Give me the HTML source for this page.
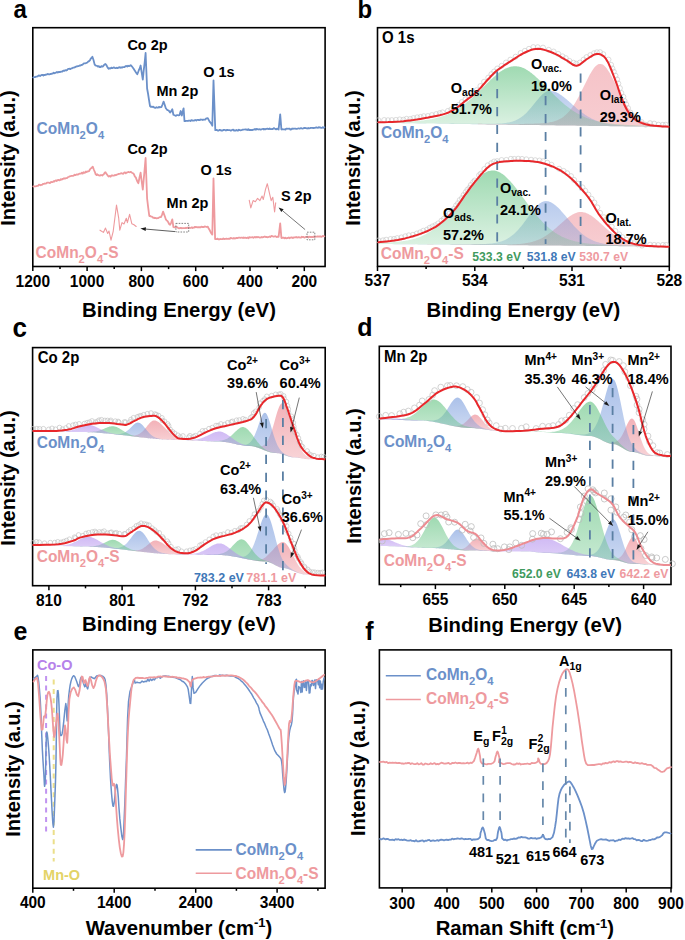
<!DOCTYPE html><html><head><meta charset="utf-8"><style>html,body{margin:0;padding:0;background:#fff;}svg{display:block;}</style></head><body><svg width="685" height="940" viewBox="0 0 685 940" font-family='"Liberation Sans", sans-serif'><defs><linearGradient id="g1" x1="0" y1="0" x2="0" y2="1"><stop offset="0" stop-color="rgb(235,130,140)" stop-opacity="0.48"/><stop offset="1" stop-color="rgb(235,130,140)" stop-opacity="0.4"/></linearGradient><linearGradient id="g2" x1="0" y1="0" x2="0" y2="1"><stop offset="0" stop-color="rgb(120,155,220)" stop-opacity="0.52"/><stop offset="1" stop-color="rgb(120,155,220)" stop-opacity="0.3"/></linearGradient><linearGradient id="g3" x1="0" y1="0" x2="0" y2="1"><stop offset="0" stop-color="rgb(100,195,130)" stop-opacity="0.62"/><stop offset="1" stop-color="rgb(100,195,130)" stop-opacity="0.22"/></linearGradient><linearGradient id="g4" x1="0" y1="0" x2="0" y2="1"><stop offset="0" stop-color="rgb(235,130,140)" stop-opacity="0.48"/><stop offset="1" stop-color="rgb(235,130,140)" stop-opacity="0.4"/></linearGradient><linearGradient id="g5" x1="0" y1="0" x2="0" y2="1"><stop offset="0" stop-color="rgb(120,155,220)" stop-opacity="0.52"/><stop offset="1" stop-color="rgb(120,155,220)" stop-opacity="0.3"/></linearGradient><linearGradient id="g6" x1="0" y1="0" x2="0" y2="1"><stop offset="0" stop-color="rgb(100,195,130)" stop-opacity="0.62"/><stop offset="1" stop-color="rgb(100,195,130)" stop-opacity="0.22"/></linearGradient><linearGradient id="g7" x1="0" y1="0" x2="0" y2="1"><stop offset="0" stop-color="rgb(235,130,140)" stop-opacity="0.62"/><stop offset="1" stop-color="rgb(235,130,140)" stop-opacity="0.35"/></linearGradient><linearGradient id="g8" x1="0" y1="0" x2="0" y2="1"><stop offset="0" stop-color="rgb(235,130,140)" stop-opacity="0.62"/><stop offset="1" stop-color="rgb(235,130,140)" stop-opacity="0.35"/></linearGradient><linearGradient id="g9" x1="0" y1="0" x2="0" y2="1"><stop offset="0" stop-color="rgb(120,155,220)" stop-opacity="0.62"/><stop offset="1" stop-color="rgb(120,155,220)" stop-opacity="0.35"/></linearGradient><linearGradient id="g10" x1="0" y1="0" x2="0" y2="1"><stop offset="0" stop-color="rgb(120,155,220)" stop-opacity="0.62"/><stop offset="1" stop-color="rgb(120,155,220)" stop-opacity="0.35"/></linearGradient><linearGradient id="g11" x1="0" y1="0" x2="0" y2="1"><stop offset="0" stop-color="rgb(100,195,130)" stop-opacity="0.62"/><stop offset="1" stop-color="rgb(100,195,130)" stop-opacity="0.35"/></linearGradient><linearGradient id="g12" x1="0" y1="0" x2="0" y2="1"><stop offset="0" stop-color="rgb(100,195,130)" stop-opacity="0.62"/><stop offset="1" stop-color="rgb(100,195,130)" stop-opacity="0.35"/></linearGradient><linearGradient id="g13" x1="0" y1="0" x2="0" y2="1"><stop offset="0" stop-color="rgb(180,145,238)" stop-opacity="0.62"/><stop offset="1" stop-color="rgb(180,145,238)" stop-opacity="0.35"/></linearGradient><linearGradient id="g14" x1="0" y1="0" x2="0" y2="1"><stop offset="0" stop-color="rgb(180,145,238)" stop-opacity="0.62"/><stop offset="1" stop-color="rgb(180,145,238)" stop-opacity="0.35"/></linearGradient><linearGradient id="g15" x1="0" y1="0" x2="0" y2="1"><stop offset="0" stop-color="rgb(235,130,140)" stop-opacity="0.62"/><stop offset="1" stop-color="rgb(235,130,140)" stop-opacity="0.35"/></linearGradient><linearGradient id="g16" x1="0" y1="0" x2="0" y2="1"><stop offset="0" stop-color="rgb(235,130,140)" stop-opacity="0.62"/><stop offset="1" stop-color="rgb(235,130,140)" stop-opacity="0.35"/></linearGradient><linearGradient id="g17" x1="0" y1="0" x2="0" y2="1"><stop offset="0" stop-color="rgb(120,155,220)" stop-opacity="0.62"/><stop offset="1" stop-color="rgb(120,155,220)" stop-opacity="0.35"/></linearGradient><linearGradient id="g18" x1="0" y1="0" x2="0" y2="1"><stop offset="0" stop-color="rgb(120,155,220)" stop-opacity="0.62"/><stop offset="1" stop-color="rgb(120,155,220)" stop-opacity="0.35"/></linearGradient><linearGradient id="g19" x1="0" y1="0" x2="0" y2="1"><stop offset="0" stop-color="rgb(100,195,130)" stop-opacity="0.62"/><stop offset="1" stop-color="rgb(100,195,130)" stop-opacity="0.35"/></linearGradient><linearGradient id="g20" x1="0" y1="0" x2="0" y2="1"><stop offset="0" stop-color="rgb(100,195,130)" stop-opacity="0.62"/><stop offset="1" stop-color="rgb(100,195,130)" stop-opacity="0.35"/></linearGradient><linearGradient id="g21" x1="0" y1="0" x2="0" y2="1"><stop offset="0" stop-color="rgb(180,145,238)" stop-opacity="0.62"/><stop offset="1" stop-color="rgb(180,145,238)" stop-opacity="0.35"/></linearGradient><linearGradient id="g22" x1="0" y1="0" x2="0" y2="1"><stop offset="0" stop-color="rgb(180,145,238)" stop-opacity="0.62"/><stop offset="1" stop-color="rgb(180,145,238)" stop-opacity="0.35"/></linearGradient><linearGradient id="g23" x1="0" y1="0" x2="0" y2="1"><stop offset="0" stop-color="rgb(235,130,140)" stop-opacity="0.62"/><stop offset="1" stop-color="rgb(235,130,140)" stop-opacity="0.35"/></linearGradient><linearGradient id="g24" x1="0" y1="0" x2="0" y2="1"><stop offset="0" stop-color="rgb(235,130,140)" stop-opacity="0.62"/><stop offset="1" stop-color="rgb(235,130,140)" stop-opacity="0.35"/></linearGradient><linearGradient id="g25" x1="0" y1="0" x2="0" y2="1"><stop offset="0" stop-color="rgb(120,155,220)" stop-opacity="0.62"/><stop offset="1" stop-color="rgb(120,155,220)" stop-opacity="0.35"/></linearGradient><linearGradient id="g26" x1="0" y1="0" x2="0" y2="1"><stop offset="0" stop-color="rgb(120,155,220)" stop-opacity="0.62"/><stop offset="1" stop-color="rgb(120,155,220)" stop-opacity="0.35"/></linearGradient><linearGradient id="g27" x1="0" y1="0" x2="0" y2="1"><stop offset="0" stop-color="rgb(100,195,130)" stop-opacity="0.62"/><stop offset="1" stop-color="rgb(100,195,130)" stop-opacity="0.35"/></linearGradient><linearGradient id="g28" x1="0" y1="0" x2="0" y2="1"><stop offset="0" stop-color="rgb(100,195,130)" stop-opacity="0.62"/><stop offset="1" stop-color="rgb(100,195,130)" stop-opacity="0.35"/></linearGradient><linearGradient id="g29" x1="0" y1="0" x2="0" y2="1"><stop offset="0" stop-color="rgb(180,145,238)" stop-opacity="0.62"/><stop offset="1" stop-color="rgb(180,145,238)" stop-opacity="0.35"/></linearGradient><linearGradient id="g30" x1="0" y1="0" x2="0" y2="1"><stop offset="0" stop-color="rgb(235,130,140)" stop-opacity="0.62"/><stop offset="1" stop-color="rgb(235,130,140)" stop-opacity="0.35"/></linearGradient><linearGradient id="g31" x1="0" y1="0" x2="0" y2="1"><stop offset="0" stop-color="rgb(235,130,140)" stop-opacity="0.62"/><stop offset="1" stop-color="rgb(235,130,140)" stop-opacity="0.35"/></linearGradient><linearGradient id="g32" x1="0" y1="0" x2="0" y2="1"><stop offset="0" stop-color="rgb(120,155,220)" stop-opacity="0.62"/><stop offset="1" stop-color="rgb(120,155,220)" stop-opacity="0.35"/></linearGradient><linearGradient id="g33" x1="0" y1="0" x2="0" y2="1"><stop offset="0" stop-color="rgb(120,155,220)" stop-opacity="0.62"/><stop offset="1" stop-color="rgb(120,155,220)" stop-opacity="0.35"/></linearGradient><linearGradient id="g34" x1="0" y1="0" x2="0" y2="1"><stop offset="0" stop-color="rgb(100,195,130)" stop-opacity="0.62"/><stop offset="1" stop-color="rgb(100,195,130)" stop-opacity="0.35"/></linearGradient><linearGradient id="g35" x1="0" y1="0" x2="0" y2="1"><stop offset="0" stop-color="rgb(100,195,130)" stop-opacity="0.62"/><stop offset="1" stop-color="rgb(100,195,130)" stop-opacity="0.35"/></linearGradient><linearGradient id="g36" x1="0" y1="0" x2="0" y2="1"><stop offset="0" stop-color="rgb(180,145,238)" stop-opacity="0.62"/><stop offset="1" stop-color="rgb(180,145,238)" stop-opacity="0.35"/></linearGradient><linearGradient id="g37" x1="0" y1="0" x2="0" y2="1"><stop offset="0" stop-color="rgb(180,145,238)" stop-opacity="0.62"/><stop offset="1" stop-color="rgb(180,145,238)" stop-opacity="0.35"/></linearGradient></defs><rect width="100%" height="100%" fill="#fff"/><text transform="translate(13.6,17.6) scale(1,1.04)" font-size="24" fill="#000" text-anchor="start" font-weight="bold" >a</text>
<text transform="translate(357.6,17.6) scale(1,1.04)" font-size="24" fill="#000" text-anchor="start" font-weight="bold" >b</text>
<text transform="translate(12.4,336.6) scale(1,1.04)" font-size="26" fill="#000" text-anchor="start" font-weight="bold" >c</text>
<text transform="translate(357.2,335.9) scale(1,1.04)" font-size="25" fill="#000" text-anchor="start" font-weight="bold" >d</text>
<text transform="translate(13.6,639.6) scale(1,1.04)" font-size="25" fill="#000" text-anchor="start" font-weight="bold" >e</text>
<text transform="translate(365.3,639.6) scale(1,1.04)" font-size="25" fill="#000" text-anchor="start" font-weight="bold" >f</text>
<rect x="32.8" y="27.7" width="292.3" height="238.8" fill="none" stroke="#000" stroke-width="1.6"/>
<line x1="32.8" y1="266.5" x2="32.8" y2="271.1" stroke="#000" stroke-width="1.5" />
<line x1="87.1" y1="266.5" x2="87.1" y2="271.1" stroke="#000" stroke-width="1.5" />
<line x1="141.4" y1="266.5" x2="141.4" y2="271.1" stroke="#000" stroke-width="1.5" />
<line x1="195.7" y1="266.5" x2="195.7" y2="271.1" stroke="#000" stroke-width="1.5" />
<line x1="250" y1="266.5" x2="250" y2="271.1" stroke="#000" stroke-width="1.5" />
<line x1="304.3" y1="266.5" x2="304.3" y2="271.1" stroke="#000" stroke-width="1.5" />
<line x1="60" y1="266.5" x2="60" y2="269.1" stroke="#000" stroke-width="1.5" />
<line x1="114.2" y1="266.5" x2="114.2" y2="269.1" stroke="#000" stroke-width="1.5" />
<line x1="168.6" y1="266.5" x2="168.6" y2="269.1" stroke="#000" stroke-width="1.5" />
<line x1="222.9" y1="266.5" x2="222.9" y2="269.1" stroke="#000" stroke-width="1.5" />
<line x1="277.2" y1="266.5" x2="277.2" y2="269.1" stroke="#000" stroke-width="1.5" />
<text transform="translate(32.8,287) scale(1,1.04)" font-size="15.5" fill="#000" text-anchor="middle" font-weight="bold" >1200</text>
<text transform="translate(87.1,287) scale(1,1.04)" font-size="15.5" fill="#000" text-anchor="middle" font-weight="bold" >1000</text>
<text transform="translate(141.4,287) scale(1,1.04)" font-size="15.5" fill="#000" text-anchor="middle" font-weight="bold" >800</text>
<text transform="translate(195.7,287) scale(1,1.04)" font-size="15.5" fill="#000" text-anchor="middle" font-weight="bold" >600</text>
<text transform="translate(250,287) scale(1,1.04)" font-size="15.5" fill="#000" text-anchor="middle" font-weight="bold" >400</text>
<text transform="translate(304.3,287) scale(1,1.04)" font-size="15.5" fill="#000" text-anchor="middle" font-weight="bold" >200</text>
<text transform="translate(179,316.6) scale(1,1.04)" font-size="20.3" fill="#000" text-anchor="middle" font-weight="bold" >Binding Energy (eV)</text>
<text transform="translate(15.4,158.1) rotate(-90) scale(1,1.04)" font-size="20" font-weight="bold" text-anchor="middle">Intensity (a.u.)</text>
<polyline points="33.3,77.6 34.1,77.1 35,77.2 35.8,76.7 36.7,76.7 37.5,76.5 38.4,75.7 39.2,75.4 40.1,76 40.9,75.4 41.7,75 42.6,74.8 43.4,75.5 44.3,74.8 45.1,75.1 46,74.5 46.8,74.6 47.7,73.9 48.5,74.3 49.4,74.4 50.2,73.9 51.1,74 51.9,73.6 52.7,73.6 53.6,72.7 54.4,73.3 55.3,72.9 56.1,72.4 56.9,71.9 57.8,72.6 58.6,72 59.4,72 60.3,72 61.1,71.6 62,71.7 62.8,71 63.6,70.6 64.5,70.8 65.3,70.2 66.2,70.5 67,70.1 67.9,69 68.7,68.8 69.6,68.7 70.4,69.2 71.3,68.4 72.1,68.3 73,67.7 73.8,67.7 74.6,67.4 75.5,66.9 76.3,66.5 77.2,66.4 78,66.1 78.8,66.1 79.7,65.5 80.5,65.5 81.3,65 82.2,64.9 83,64.2 83.9,63.3 84.7,63.3 85.6,63.3 86.5,62.9 87.3,62.4 88.2,61.6 89.1,61.1 89.9,60.3 90.7,58.7 91.5,58 92.4,56.7 93.5,60 94.6,64.4 95.4,65.3 96.2,65.6 97.1,65.8 97.9,66.6 98.8,66.1 99.7,67 100.5,67.1 101.4,66.1 102.3,66.6 103.1,66.3 103.9,65.2 104.7,64.3 105.5,64 106.3,65 107.2,66.7 108,68 108.8,68.8 109.7,68.1 110.6,68.5 111.4,67.6 112.3,68.2 113.2,67.7 114.1,67.5 115,68.1 115.8,68.2 116.7,67.7 117.6,68.2 118.5,67.5 119.4,67.2 120.2,67.8 121.1,67.2 122,67.7 122.9,67.1 123.7,67.1 124.6,67 125.5,66.3 126.3,65.9 127.2,66.5 128.1,65.7 129,66.1 129.8,65.8 130.7,65.1 131.8,66.3 132.9,67.7 133.8,69 134.7,70.4 135.5,71.8 136.4,73.1 137.3,74.3 138.1,72.2 138.9,70 139.8,68.2 140.6,65.5 141.7,72.6 142.8,79.7 143.7,70.7 144.7,62.1 145.6,53 147.1,88.5 148.1,94 149,99.9 150,106 150.8,106.8 151.6,106.6 152.4,107 153.2,106.7 154,107.4 154.8,107.8 155.6,107.8 156.5,107.1 157.3,107.7 158.1,107.6 158.9,106.9 159.8,107.4 160.6,107.2 161.4,107.1 162.5,104.5 163.6,101.6 164.7,104.7 165.8,108.2 166.7,109.3 167.5,110.2 168.4,110.3 169.2,111.2 170.1,112.6 171.2,111.1 172.3,109.3 173.4,114.8 175,115.5 175.9,115.9 176.8,115.1 177.7,115.2 178.6,115.3 179.5,115.1 180.7,111 181.8,115.5 182.7,111.7 183.6,108.3 184.5,121.2 185.4,121 186.2,120.9 187.1,120.8 187.9,121 188.8,120.6 189.7,120.6 190.5,121 191.4,120.1 192.2,120.6 193.1,120.5 193.9,120.7 194.7,120.2 195.5,120 196.3,120.6 197.1,119.9 197.9,119.8 198.8,120 199.6,120.2 200.4,119.5 201.2,119.7 202,119.6 202.8,120.1 203.6,119.6 204.4,119.6 205.2,119.6 206.1,118.5 207,118.4 207.8,118.2 208.7,119.9 209.6,121.6 210.5,122.6 211.4,123.9 212.3,125.7 213.5,80.4 214.4,104.9 215.3,130.2 216.1,130.2 216.9,129.9 217.7,130.5 218.6,130.6 219.4,129.9 220.2,130 221,130.5 221.8,130.4 222.6,130.5 223.4,130 224.3,129.8 225.1,130 225.9,130.5 226.7,129.9 227.5,130 228.3,130.1 229.2,130.1 230,130.1 230.8,130.7 231.6,130.2 232.4,129.8 233.2,129.6 234,130.6 234.8,130.5 235.6,130.6 236.4,130 237.2,130.5 238.1,130.5 238.9,129.7 239.7,130.2 240.5,130.3 241.3,130.1 242.1,129.9 242.9,129.6 243.7,129.7 244.5,129.5 245.3,129.3 246.1,129.8 246.9,129.5 247.7,130 248.5,129.2 249.4,130.1 250.2,129.8 251,130.1 251.8,130 252.6,130 253.4,129.6 254.2,129.5 255,128.9 255.8,129.7 256.6,129 257.5,129.1 258.3,129.5 259.1,129.3 259.9,129.2 260.7,129.7 261.5,129.3 262.4,129 263.2,128.8 264,129.5 264.8,129 265.6,129.3 266.4,128.8 267.3,128.6 268.1,128.9 268.9,129.2 269.7,128.5 270.5,129.1 271.3,129.2 272.2,129 273,129 273.8,128.1 274.6,128.6 275.4,128.9 276.2,129.4 277,128.6 277.8,129.1 278.6,129.5 280.2,114.4 281.4,129.5 282.2,129.2 283,129.4 283.9,129.3 284.7,129.3 285.5,129.6 286.3,128.7 287.2,128.7 288,128.8 288.8,128.7 289.6,128.6 290.4,129.6 291.3,129.4 292.1,128.5 292.9,128.9 293.7,128.7 294.6,128.6 295.4,128.6 296.2,128.9 297,128.8 297.9,128.5 298.7,128.3 299.5,128.6 300.3,128.4 301.1,128.1 301.9,128.5 302.7,128.7 303.5,128.3 304.3,127.9 305.1,128 305.9,128.1 306.7,128.3 307.5,128.5 308.3,128 309.1,128.4 309.9,128.2 310.7,127.9 311.5,127.8 312.4,127.9 313.2,128.1 314,127.8 314.8,128 315.6,127.7 316.4,127.4 317.2,127.7 318,127.9 318.8,127.1 319.6,127.5 320.4,127.4 321.2,127.9 322,127.9 322.8,127.2 323.6,127.8 324.4,127.3" fill="none" stroke="#6b90c9" stroke-width="1.8" stroke-linejoin="round" stroke-linecap="round" />
<polyline points="33.3,186.5 34.1,186.4 34.9,186.4 35.7,186.3 36.5,186.2 37.3,185.8 38.2,185.8 39,184.6 39.8,184.9 40.6,185.3 41.4,184.8 42.2,184.8 43,183.8 43.8,184 44.6,183.5 45.4,183.7 46.2,183.5 47,182.7 47.9,182.7 48.7,182.6 49.5,183.1 50.3,182.8 51.1,181.9 51.9,182.1 52.7,182.2 53.5,181.2 54.3,181.5 55.1,180.7 56,180.3 56.8,181 57.6,180.1 58.4,179.8 59.2,180.4 60,180.1 60.8,179.2 61.6,179.7 62.4,179 63.3,178.9 64.1,178.1 64.9,178.7 65.7,178.2 66.5,178.2 67.3,177.9 68.1,177 68.9,176.8 69.7,176.4 70.6,176.1 71.4,175.8 72.2,175.8 73,175.9 73.8,175.5 74.6,174.7 75.4,175.2 76.2,174.6 77,174.4 77.8,174.7 78.6,174.1 79.4,173.7 80.2,173.6 81,173.6 81.9,172.7 82.7,173.5 83.5,172.2 84.3,172.8 85.1,172.6 85.9,171.5 86.7,172.1 87.5,171.4 88.3,171.4 89.1,171.1 89.9,169.5 90.7,168.5 91.5,168 92.8,166.7 94,170 94.8,171.8 95.7,174.4 96.5,175 97.3,174.3 98.2,175.1 99,175.4 99.8,175.6 100.7,175.1 101.5,175.2 102.3,175.5 103.1,174.7 103.9,174.2 104.7,172.6 105.5,172.2 106.3,173.6 107.2,174.7 108,175.9 108.8,176.6 109.7,175.9 110.6,176.7 111.4,175.5 112.3,175.5 113.2,175.6 114.1,175.7 115,174.9 115.8,175.3 116.7,174.7 117.6,174.4 118.4,174 119.2,173.9 120.1,173.6 120.9,173.3 121.7,173.2 122.5,173.6 123.3,173.8 124.1,172.7 125,172.4 125.8,173.3 126.6,172.6 127.4,172.3 128.2,172 129.1,172.2 129.9,172.3 130.7,171.8 131.5,172.4 132.3,173 133.2,173.3 134,174.4 134.9,176.6 135.8,177.4 136.6,179.7 137.5,181.8 138.4,183.2 139.5,177.5 140.6,172.7 141.7,181.5 142.8,189.7 143.7,179.6 144.7,168.7 145.6,158 147.1,198.5 148.2,207.6 149.3,216 150.2,215.9 151.1,216.7 152.1,216.7 153,217.8 153.9,217.6 154.8,218.2 155.7,218 156.6,218.4 157.5,218.1 158.3,218.1 159.2,217.4 160.1,217.2 161,217.1 162.1,214.6 163.1,211.6 164,214.1 164.9,216.5 165.8,219.3 166.7,220.3 167.5,221.1 168.4,222.5 169.2,224.2 170.1,224.8 171.2,222.6 172.3,219.3 173.4,227 174.2,227.3 175.1,227.2 175.9,227.2 176.7,227 177.5,227.4 178.3,228.1 179.2,228.3 180,228 180.9,227.8 181.7,228.3 182.6,228.2 183.4,228.1 184.3,228.1 185.2,228.2 186,227.7 186.9,228.1 187.7,227.6 188.6,227.8 189.4,227.7 190.2,228 191,227.8 191.8,227.3 192.6,228 193.4,227.6 194.2,227.5 195,226.8 195.8,227.3 196.6,227 197.5,227.4 198.3,227.1 199.1,227.4 199.9,227.2 200.7,227.3 201.5,226.7 202.3,227 203.1,227 203.9,227.1 204.7,226.5 205.5,226.6 206.7,227 207.8,226.6 208.7,228.6 209.6,230 210.5,231.9 211.4,233.5 212.3,234.6 213.5,178.4 215.1,239.1 215.9,239.1 216.7,239.1 217.6,238.6 218.4,239.3 219.2,239.4 220,238.9 220.8,239.1 221.6,239.1 222.5,239.1 223.3,238.4 224.1,239.1 224.9,238.8 225.7,238.9 226.5,238.6 227.4,238.8 228.2,238.9 229,238.7 229.8,238.8 230.6,238 231.5,238.1 232.3,238.4 233.1,238.6 233.9,238 234.7,238.5 235.5,238.4 236.4,237.8 237.2,238.2 238,237.9 238.8,237.7 239.6,237.7 240.4,237.9 241.3,237.7 242.1,237.7 242.9,238 243.7,237.4 244.5,237.9 245.3,237.7 246.2,238 247,237.9 247.8,237.5 248.6,238.2 249.4,237.1 250.2,237.5 251,237.3 251.8,237.4 252.7,237.1 253.5,237.8 254.3,237.3 255.1,236.9 255.9,237.5 256.7,236.9 257.5,237.3 258.3,237 259.2,237.3 260,237.6 260.8,237.4 261.6,237 262.4,237.4 263.2,237.1 264,236.8 264.8,236.5 265.7,237 266.5,236.9 267.3,237.3 268.1,237.2 268.9,236.8 269.7,236.5 270.5,237 271.3,236 272.2,236.1 273,236.6 273.8,236.6 274.6,236.4 275.4,236.1 276.2,236.7 277,237.1 277.8,236.6 278.6,236.8 280.2,223.3 281.4,238 282.2,237.9 283,237.6 283.9,237.7 284.7,238.4 285.5,237.7 286.3,238.3 287.2,238.2 288,237.9 288.8,237.4 289.6,238.2 290.4,237.6 291.3,237.5 292.1,237.4 292.9,238.1 293.7,237.5 294.6,237.3 295.4,237.4 296.2,237 297,237.5 297.9,237.3 298.7,237.1 299.5,237.3 300.3,237.6 301.1,237.6 301.9,236.7 302.7,237.2 303.5,236.9 304.3,237.6 305.1,237.4 305.9,236.8 306.7,236.8 307.5,236.6 308.3,237.5 309.1,236.7 309.9,237 310.7,236.9 311.5,237 312.4,236.9 313.2,237.1 314,236.4 314.8,237 315.6,236.5 316.4,236.7 317.2,236.5 318,236.4 318.8,236.6 319.6,236.5 320.4,236.4 321.2,236.8 322,236.6 322.8,235.9 323.6,236.2 324.4,236.4" fill="none" stroke="#ee9a9e" stroke-width="1.8" stroke-linejoin="round" stroke-linecap="round" />
<polyline points="100,230.2 103.4,232.4 105.5,228.1 107.7,233.5 109,231 111,240.1 113.2,231.3 116.5,205.1 118.7,218.2 119.8,230.2 122,222.6 124,224 126.3,218.2 127.4,222.6 129.6,214.3 131.8,223.7 134,224.8 136.2,226.5" fill="none" stroke="#ee9a9e" stroke-width="1.1" stroke-linejoin="round" stroke-linecap="round" />
<polyline points="249.2,200.2 250.8,207.9 253.1,200.6 255.3,201.8 257.6,198.4 259.9,200.6 262.1,196.1 263.3,199.5 265.5,189.3 267.3,183.7 269.6,193.8 271.2,200.6 272.8,197.2 274.6,211.9 275.7,202.9" fill="none" stroke="#ee9a9e" stroke-width="1.1" stroke-linejoin="round" stroke-linecap="round" />
<line x1="175" y1="231.6" x2="145.9" y2="229.1" stroke="#1a1a1a" stroke-width="0.7" />
<polygon points="140.4,228.6 146,227.2 145.7,231" fill="#1a1a1a"/>
<line x1="305.1" y1="229.6" x2="282.4" y2="210.6" stroke="#1a1a1a" stroke-width="0.6" />
<polygon points="278.6,207.4 283.6,209.2 281.3,212" fill="#1a1a1a"/>
<rect x="175.9" y="223.4" width="12.8" height="8.6" fill="none" stroke="#666" stroke-width="0.8" stroke-dasharray="1.6,1.2"/>
<rect x="307" y="232.2" width="7.8" height="7.6" fill="none" stroke="#666" stroke-width="0.8" stroke-dasharray="1.6,1.2"/>
<text transform="translate(127.4,49.8) scale(1,1.04)" font-size="14.5" fill="#000" text-anchor="start" font-weight="bold" >Co 2p</text>
<text transform="translate(156.4,95.7) scale(1,1.04)" font-size="14.5" fill="#000" text-anchor="start" font-weight="bold" >Mn 2p</text>
<text transform="translate(203.2,76.5) scale(1,1.04)" font-size="14.5" fill="#000" text-anchor="start" font-weight="bold" >O 1s</text>
<text transform="translate(127.4,153.6) scale(1,1.04)" font-size="14.5" fill="#000" text-anchor="start" font-weight="bold" >Co 2p</text>
<text transform="translate(166.6,207.7) scale(1,1.04)" font-size="14.5" fill="#000" text-anchor="start" font-weight="bold" >Mn 2p</text>
<text transform="translate(200.5,174.6) scale(1,1.04)" font-size="14.5" fill="#000" text-anchor="start" font-weight="bold" >O 1s</text>
<text transform="translate(280.9,201.1) scale(1,1.04)" font-size="14.5" fill="#000" text-anchor="start" font-weight="bold" >S 2p</text>
<text transform="translate(36.6,134.1) scale(1,1.04)" font-size="15.5" fill="#6b90c9" text-anchor="start" font-weight="bold" >CoMn<tspan font-size="11.2" dy="4.8">2</tspan><tspan dy="-4.8">O</tspan><tspan font-size="11.2" dy="4.8">4</tspan><tspan dy="-4.8"></tspan></text>
<text transform="translate(35.6,258.1) scale(1,1.04)" font-size="15.5" fill="#ee9a9e" text-anchor="start" font-weight="bold" >CoMn<tspan font-size="11.2" dy="4.8">2</tspan><tspan dy="-4.8">O</tspan><tspan font-size="11.2" dy="4.8">4</tspan><tspan dy="-4.8">-S</tspan></text>
<rect x="377.5" y="27.7" width="291.8" height="238.7" fill="none" stroke="#000" stroke-width="1.6"/>
<line x1="377.5" y1="266.4" x2="377.5" y2="271" stroke="#000" stroke-width="1.5" />
<line x1="474.8" y1="266.4" x2="474.8" y2="271" stroke="#000" stroke-width="1.5" />
<line x1="572" y1="266.4" x2="572" y2="271" stroke="#000" stroke-width="1.5" />
<line x1="669.3" y1="266.4" x2="669.3" y2="271" stroke="#000" stroke-width="1.5" />
<line x1="426.1" y1="266.4" x2="426.1" y2="269" stroke="#000" stroke-width="1.5" />
<line x1="523.4" y1="266.4" x2="523.4" y2="269" stroke="#000" stroke-width="1.5" />
<line x1="620.6" y1="266.4" x2="620.6" y2="269" stroke="#000" stroke-width="1.5" />
<text transform="translate(377.5,286.2) scale(1,1.04)" font-size="15.5" fill="#000" text-anchor="middle" font-weight="bold" >537</text>
<text transform="translate(474.8,286.2) scale(1,1.04)" font-size="15.5" fill="#000" text-anchor="middle" font-weight="bold" >534</text>
<text transform="translate(572,286.2) scale(1,1.04)" font-size="15.5" fill="#000" text-anchor="middle" font-weight="bold" >531</text>
<text transform="translate(669.3,286.2) scale(1,1.04)" font-size="15.5" fill="#000" text-anchor="middle" font-weight="bold" >528</text>
<text transform="translate(523.4,316.6) scale(1,1.04)" font-size="20.3" fill="#000" text-anchor="middle" font-weight="bold" >Binding Energy (eV)</text>
<text transform="translate(360.1,158.1) rotate(-90) scale(1,1.04)" font-size="20" font-weight="bold" text-anchor="middle">Intensity (a.u.)</text>
<text transform="translate(382,42.9) scale(1,1.04)" font-size="15" fill="#000" text-anchor="start" font-weight="bold" >O 1s</text>
<path d="M477.8,123.8 L478.8,123.8 L479.8,123.8 L480.8,123.8 L481.8,123.8 L482.8,123.9 L483.8,123.9 L484.8,123.9 L485.8,123.9 L486.8,123.9 L487.8,123.9 L488.8,123.9 L489.8,123.9 L490.8,123.9 L491.8,123.9 L492.8,123.9 L493.8,123.9 L494.8,123.9 L495.8,123.9 L496.8,123.9 L497.8,123.9 L498.8,123.9 L499.8,123.9 L500.8,123.9 L501.8,123.9 L502.8,123.9 L503.8,123.9 L504.8,123.9 L505.8,123.9 L506.8,123.9 L507.8,123.9 L508.8,123.9 L509.8,123.9 L510.8,123.9 L511.8,123.9 L512.8,123.9 L513.8,123.9 L514.8,123.9 L515.8,123.9 L516.8,123.9 L517.8,123.9 L518.8,123.9 L519.8,123.9 L520.8,123.9 L521.8,123.9 L522.8,123.9 L523.8,123.9 L524.8,123.8 L525.8,123.8 L526.8,123.8 L527.8,123.8 L528.8,123.8 L529.8,123.8 L530.8,123.7 L531.8,123.7 L532.8,123.7 L533.8,123.7 L534.8,123.6 L535.8,123.6 L536.8,123.5 L537.8,123.5 L538.8,123.5 L539.8,123.4 L540.8,123.3 L541.8,123.3 L542.8,123.2 L543.8,123.1 L544.8,123 L545.8,122.9 L546.8,122.8 L547.8,122.7 L548.8,122.5 L549.8,122.3 L550.8,122.1 L551.8,121.9 L552.8,121.7 L553.8,121.4 L554.8,121.1 L555.8,120.8 L556.8,120.4 L557.8,120 L558.8,119.5 L559.8,119 L560.8,118.5 L561.8,117.9 L562.8,117.2 L563.8,116.4 L564.8,115.6 L565.8,114.8 L566.8,113.8 L567.8,112.8 L568.8,111.7 L569.8,110.5 L570.8,109.2 L571.8,107.9 L572.8,106.5 L573.8,105 L574.8,103.4 L575.8,101.7 L576.8,100 L577.8,98.2 L578.8,96.4 L579.8,94.5 L580.8,92.5 L581.8,90.5 L582.8,88.5 L583.8,86.4 L584.8,84.4 L585.8,82.4 L586.8,80.4 L587.8,78.4 L588.8,76.5 L589.8,74.6 L590.8,72.9 L591.8,71.2 L592.8,69.7 L593.8,68.3 L594.8,67.1 L595.8,66.1 L596.8,65.2 L597.8,64.6 L598.8,64.1 L599.8,63.9 L600.8,63.9 L601.8,64.2 L602.8,64.6 L603.8,65.3 L604.8,66.2 L605.8,67.3 L606.8,68.5 L607.8,69.9 L608.8,71.5 L609.8,73.1 L610.8,74.9 L611.8,76.8 L612.8,78.7 L613.8,80.7 L614.8,82.8 L615.8,84.8 L616.8,86.9 L617.8,89 L618.8,91 L619.8,93.1 L620.8,95 L621.8,97 L622.8,98.9 L623.8,100.7 L624.8,102.4 L625.8,104.1 L626.8,105.7 L627.8,107.3 L628.8,108.7 L629.8,110.1 L630.8,111.4 L631.8,112.6 L632.8,113.7 L633.8,114.8 L634.8,115.7 L635.8,116.7 L636.8,117.5 L637.8,118.3 L638.8,119 L639.8,119.6 L640.8,120.2 L641.8,120.7 L642.8,121.2 L643.8,121.7 L644.8,122.1 L645.8,122.4 L646.8,122.8 L647.8,123.1 L648.8,123.3 L649.8,123.6 L650.8,123.8 L651.8,124 L652.8,124.2 L653.8,124.3 L654.8,124.5 L655.8,124.6 L656.8,124.7 L657.8,124.9 L658.8,125 L659.8,125.1 L660.8,125.1 L661.8,125.2 L662.8,125.3 L663.8,125.4 L664.8,125.4 L665.8,125.5 L666.8,125.6 L667.8,125.6 L667.8,127 L664.8,126.9 L661.8,126.9 L658.8,126.8 L655.8,126.8 L652.8,126.8 L649.8,126.7 L646.8,126.7 L643.8,126.6 L640.8,126.6 L637.8,126.5 L634.8,126.5 L631.8,126.5 L628.8,126.4 L625.8,126.4 L622.8,126.3 L619.8,126.3 L616.8,126.2 L613.8,126.2 L610.8,126.2 L607.8,126.1 L604.8,126.1 L601.8,126 L598.8,126 L595.8,125.9 L592.8,125.9 L589.8,125.9 L586.8,125.8 L583.8,125.8 L580.8,125.7 L577.8,125.7 L574.8,125.6 L571.8,125.6 L568.8,125.6 L565.8,125.5 L562.8,125.5 L559.8,125.4 L556.8,125.4 L553.8,125.3 L550.8,125.3 L547.8,125.3 L544.8,125.2 L541.8,125.2 L538.8,125.1 L535.8,125.1 L532.8,125 L529.8,125 L526.8,124.9 L523.8,124.9 L520.8,124.9 L517.8,124.8 L514.8,124.8 L511.8,124.7 L508.8,124.7 L505.8,124.6 L502.8,124.6 L499.8,124.6 L496.8,124.5 L493.8,124.5 L490.8,124.4 L487.8,124.4 L484.8,124.3 L481.8,124.3 L478.8,124.3 L477.8,124.2Z" fill="url(#g1)"/>
<path d="M388.8,122.9 L389.8,122.9 L390.8,122.9 L391.8,122.9 L392.8,122.9 L393.8,122.9 L394.8,122.9 L395.8,123 L396.8,123 L397.8,123 L398.8,123 L399.8,123 L400.8,123 L401.8,123 L402.8,123.1 L403.8,123.1 L404.8,123.1 L405.8,123.1 L406.8,123.1 L407.8,123.1 L408.8,123.1 L409.8,123.1 L410.8,123.2 L411.8,123.2 L412.8,123.2 L413.8,123.2 L414.8,123.2 L415.8,123.2 L416.8,123.2 L417.8,123.2 L418.8,123.3 L419.8,123.3 L420.8,123.3 L421.8,123.3 L422.8,123.3 L423.8,123.3 L424.8,123.3 L425.8,123.3 L426.8,123.4 L427.8,123.4 L428.8,123.4 L429.8,123.4 L430.8,123.4 L431.8,123.4 L432.8,123.4 L433.8,123.4 L434.8,123.4 L435.8,123.5 L436.8,123.5 L437.8,123.5 L438.8,123.5 L439.8,123.5 L440.8,123.5 L441.8,123.5 L442.8,123.5 L443.8,123.5 L444.8,123.6 L445.8,123.6 L446.8,123.6 L447.8,123.6 L448.8,123.6 L449.8,123.6 L450.8,123.6 L451.8,123.6 L452.8,123.6 L453.8,123.6 L454.8,123.7 L455.8,123.7 L456.8,123.7 L457.8,123.7 L458.8,123.7 L459.8,123.7 L460.8,123.7 L461.8,123.7 L462.8,123.7 L463.8,123.7 L464.8,123.7 L465.8,123.7 L466.8,123.7 L467.8,123.8 L468.8,123.8 L469.8,123.8 L470.8,123.8 L471.8,123.8 L472.8,123.8 L473.8,123.8 L474.8,123.8 L475.8,123.8 L476.8,123.8 L477.8,123.8 L478.8,123.8 L479.8,123.8 L480.8,123.8 L481.8,123.8 L482.8,123.8 L483.8,123.8 L484.8,123.8 L485.8,123.8 L486.8,123.8 L487.8,123.8 L488.8,123.8 L489.8,123.8 L490.8,123.8 L491.8,123.7 L492.8,123.7 L493.8,123.7 L494.8,123.7 L495.8,123.7 L496.8,123.6 L497.8,123.6 L498.8,123.5 L499.8,123.5 L500.8,123.4 L501.8,123.4 L502.8,123.3 L503.8,123.2 L504.8,123.1 L505.8,122.9 L506.8,122.8 L507.8,122.6 L508.8,122.5 L509.8,122.2 L510.8,122 L511.8,121.7 L512.8,121.4 L513.8,121.1 L514.8,120.7 L515.8,120.3 L516.8,119.8 L517.8,119.3 L518.8,118.8 L519.8,118.1 L520.8,117.5 L521.8,116.8 L522.8,116 L523.8,115.2 L524.8,114.3 L525.8,113.4 L526.8,112.4 L527.8,111.3 L528.8,110.2 L529.8,109.1 L530.8,108 L531.8,106.8 L532.8,105.5 L533.8,104.3 L534.8,103.1 L535.8,101.8 L536.8,100.6 L537.8,99.4 L538.8,98.2 L539.8,97.1 L540.8,96 L541.8,95 L542.8,94.1 L543.8,93.2 L544.8,92.5 L545.8,91.9 L546.8,91.4 L547.8,91.1 L548.8,90.9 L549.8,90.8 L550.8,90.8 L551.8,91 L552.8,91.2 L553.8,91.4 L554.8,91.7 L555.8,92.1 L556.8,92.6 L557.8,93.1 L558.8,93.6 L559.8,94.3 L560.8,94.9 L561.8,95.6 L562.8,96.4 L563.8,97.1 L564.8,97.9 L565.8,98.7 L566.8,99.6 L567.8,100.4 L568.8,101.3 L569.8,102.2 L570.8,103.1 L571.8,104 L572.8,104.9 L573.8,105.8 L574.8,106.6 L575.8,107.5 L576.8,108.4 L577.8,109.2 L578.8,110 L579.8,110.8 L580.8,111.6 L581.8,112.4 L582.8,113.1 L583.8,113.8 L584.8,114.5 L585.8,115.2 L586.8,115.8 L587.8,116.5 L588.8,117 L589.8,117.6 L590.8,118.1 L591.8,118.7 L592.8,119.1 L593.8,119.6 L594.8,120 L595.8,120.4 L596.8,120.8 L597.8,121.2 L598.8,121.5 L599.8,121.8 L600.8,122.1 L601.8,122.4 L602.8,122.7 L603.8,122.9 L604.8,123.1 L605.8,123.4 L606.8,123.6 L607.8,123.7 L608.8,123.9 L609.8,124.1 L610.8,124.2 L611.8,124.3 L612.8,124.5 L613.8,124.6 L614.8,124.7 L615.8,124.8 L616.8,124.9 L617.8,125 L618.8,125 L619.8,125.1 L620.8,125.2 L621.8,125.3 L622.8,125.3 L623.8,125.4 L624.8,125.4 L625.8,125.5 L626.8,125.5 L627.8,125.6 L628.8,125.6 L629.8,125.7 L630.8,125.7 L631.8,125.7 L632.8,125.8 L633.8,125.8 L634.8,125.8 L635.8,125.9 L636.8,125.9 L637.8,125.9 L638.8,126 L639.8,126 L640.8,126 L641.8,126 L642.8,126.1 L643.8,126.1 L644.8,126.1 L645.8,126.1 L646.8,126.2 L647.8,126.2 L648.8,126.2 L649.8,126.2 L650.8,126.3 L651.8,126.3 L652.8,126.3 L653.8,126.3 L654.8,126.4 L655.8,126.4 L656.8,126.4 L657.8,126.4 L658.8,126.4 L659.8,126.5 L660.8,126.5 L661.8,126.5 L662.8,126.5 L663.8,126.6 L664.8,126.6 L665.8,126.6 L666.8,126.6 L667.8,126.6 L667.8,127 L664.8,126.9 L661.8,126.9 L658.8,126.8 L655.8,126.8 L652.8,126.8 L649.8,126.7 L646.8,126.7 L643.8,126.6 L640.8,126.6 L637.8,126.5 L634.8,126.5 L631.8,126.5 L628.8,126.4 L625.8,126.4 L622.8,126.3 L619.8,126.3 L616.8,126.2 L613.8,126.2 L610.8,126.2 L607.8,126.1 L604.8,126.1 L601.8,126 L598.8,126 L595.8,125.9 L592.8,125.9 L589.8,125.9 L586.8,125.8 L583.8,125.8 L580.8,125.7 L577.8,125.7 L574.8,125.6 L571.8,125.6 L568.8,125.6 L565.8,125.5 L562.8,125.5 L559.8,125.4 L556.8,125.4 L553.8,125.3 L550.8,125.3 L547.8,125.3 L544.8,125.2 L541.8,125.2 L538.8,125.1 L535.8,125.1 L532.8,125 L529.8,125 L526.8,124.9 L523.8,124.9 L520.8,124.9 L517.8,124.8 L514.8,124.8 L511.8,124.7 L508.8,124.7 L505.8,124.6 L502.8,124.6 L499.8,124.6 L496.8,124.5 L493.8,124.5 L490.8,124.4 L487.8,124.4 L484.8,124.3 L481.8,124.3 L478.8,124.3 L475.8,124.2 L472.8,124.2 L469.8,124.1 L466.8,124.1 L463.8,124 L460.8,124 L457.8,124 L454.8,123.9 L451.8,123.9 L448.8,123.8 L445.8,123.8 L442.8,123.7 L439.8,123.7 L436.8,123.7 L433.8,123.6 L430.8,123.6 L427.8,123.5 L424.8,123.5 L421.8,123.4 L418.8,123.4 L415.8,123.4 L412.8,123.3 L409.8,123.3 L406.8,123.2 L403.8,123.2 L400.8,123.1 L397.8,123.1 L394.8,123 L391.8,123 L388.8,123 L388.8,123Z" fill="url(#g2)"/>
<path d="M378.5,121.9 L379.5,121.9 L380.5,121.9 L381.5,121.9 L382.5,121.9 L383.5,121.9 L384.5,121.9 L385.5,121.9 L386.5,121.9 L387.5,121.9 L388.5,121.9 L389.5,121.8 L390.5,121.8 L391.5,121.8 L392.5,121.8 L393.5,121.8 L394.5,121.8 L395.5,121.8 L396.5,121.8 L397.5,121.8 L398.5,121.7 L399.5,121.7 L400.5,121.7 L401.5,121.7 L402.5,121.7 L403.5,121.6 L404.5,121.6 L405.5,121.6 L406.5,121.5 L407.5,121.5 L408.5,121.5 L409.5,121.4 L410.5,121.4 L411.5,121.3 L412.5,121.3 L413.5,121.2 L414.5,121.2 L415.5,121.1 L416.5,121 L417.5,120.9 L418.5,120.9 L419.5,120.8 L420.5,120.7 L421.5,120.6 L422.5,120.5 L423.5,120.4 L424.5,120.2 L425.5,120.1 L426.5,120 L427.5,119.8 L428.5,119.7 L429.5,119.5 L430.5,119.3 L431.5,119.2 L432.5,119 L433.5,118.7 L434.5,118.5 L435.5,118.3 L436.5,118.1 L437.5,117.8 L438.5,117.5 L439.5,117.2 L440.5,116.9 L441.5,116.6 L442.5,116.3 L443.5,115.9 L444.5,115.6 L445.5,115.2 L446.5,114.8 L447.5,114.4 L448.5,113.9 L449.5,113.5 L450.5,113 L451.5,112.5 L452.5,112 L453.5,111.4 L454.5,110.9 L455.5,110.3 L456.5,109.7 L457.5,109.1 L458.5,108.5 L459.5,107.8 L460.5,107.1 L461.5,106.4 L462.5,105.7 L463.5,105 L464.5,104.2 L465.5,103.4 L466.5,102.6 L467.5,101.8 L468.5,101 L469.5,100.1 L470.5,99.3 L471.5,98.4 L472.5,97.5 L473.5,96.6 L474.5,95.6 L475.5,94.7 L476.5,93.7 L477.5,92.8 L478.5,91.8 L479.5,90.8 L480.5,89.9 L481.5,88.9 L482.5,87.9 L483.5,86.9 L484.5,85.9 L485.5,84.9 L486.5,83.9 L487.5,82.9 L488.5,82 L489.5,81 L490.5,80 L491.5,79.1 L492.5,78.2 L493.5,77.3 L494.5,76.4 L495.5,75.5 L496.5,74.7 L497.5,73.9 L498.5,73.1 L499.5,72.3 L500.5,71.6 L501.5,71 L502.5,70.3 L503.5,69.7 L504.5,69.1 L505.5,68.6 L506.5,68.2 L507.5,67.7 L508.5,67.4 L509.5,67 L510.5,66.8 L511.5,66.5 L512.5,66.4 L513.5,66.3 L514.5,66.2 L515.5,66.2 L516.5,66.3 L517.5,66.4 L518.5,66.5 L519.5,66.7 L520.5,67 L521.5,67.3 L522.5,67.7 L523.5,68.1 L524.5,68.6 L525.5,69.1 L526.5,69.7 L527.5,70.3 L528.5,70.9 L529.5,71.6 L530.5,72.4 L531.5,73.1 L532.5,73.9 L533.5,74.7 L534.5,75.6 L535.5,76.5 L536.5,77.4 L537.5,78.3 L538.5,79.2 L539.5,80.2 L540.5,81.1 L541.5,82.1 L542.5,83.1 L543.5,84.1 L544.5,85.1 L545.5,86.2 L546.5,87.2 L547.5,88.2 L548.5,89.2 L549.5,90.2 L550.5,91.3 L551.5,92.3 L552.5,93.3 L553.5,94.3 L554.5,95.3 L555.5,96.2 L556.5,97.2 L557.5,98.1 L558.5,99.1 L559.5,100 L560.5,100.9 L561.5,101.8 L562.5,102.7 L563.5,103.5 L564.5,104.4 L565.5,105.2 L566.5,106 L567.5,106.8 L568.5,107.5 L569.5,108.3 L570.5,109 L571.5,109.7 L572.5,110.4 L573.5,111 L574.5,111.7 L575.5,112.3 L576.5,112.9 L577.5,113.5 L578.5,114 L579.5,114.5 L580.5,115.1 L581.5,115.6 L582.5,116 L583.5,116.5 L584.5,116.9 L585.5,117.4 L586.5,117.8 L587.5,118.2 L588.5,118.5 L589.5,118.9 L590.5,119.2 L591.5,119.5 L592.5,119.9 L593.5,120.1 L594.5,120.4 L595.5,120.7 L596.5,121 L597.5,121.2 L598.5,121.4 L599.5,121.7 L600.5,121.9 L601.5,122.1 L602.5,122.3 L603.5,122.4 L604.5,122.6 L605.5,122.8 L606.5,122.9 L607.5,123.1 L608.5,123.2 L609.5,123.3 L610.5,123.5 L611.5,123.6 L612.5,123.7 L613.5,123.8 L614.5,123.9 L615.5,124 L616.5,124.1 L617.5,124.2 L618.5,124.3 L619.5,124.3 L620.5,124.4 L621.5,124.5 L622.5,124.6 L623.5,124.6 L624.5,124.7 L625.5,124.8 L626.5,124.8 L627.5,124.9 L628.5,124.9 L629.5,125 L630.5,125 L631.5,125.1 L632.5,125.1 L633.5,125.2 L634.5,125.2 L635.5,125.3 L636.5,125.3 L637.5,125.3 L638.5,125.4 L639.5,125.4 L640.5,125.4 L641.5,125.5 L642.5,125.5 L643.5,125.5 L644.5,125.6 L645.5,125.6 L646.5,125.6 L647.5,125.7 L648.5,125.7 L649.5,125.7 L650.5,125.8 L651.5,125.8 L652.5,125.8 L653.5,125.9 L654.5,125.9 L655.5,125.9 L656.5,125.9 L657.5,126 L658.5,126 L659.5,126 L660.5,126 L661.5,126.1 L662.5,126.1 L663.5,126.1 L664.5,126.1 L665.5,126.2 L666.5,126.2 L667.5,126.2 L667.5,127 L664.5,126.9 L661.5,126.9 L658.5,126.8 L655.5,126.8 L652.5,126.8 L649.5,126.7 L646.5,126.7 L643.5,126.6 L640.5,126.6 L637.5,126.5 L634.5,126.5 L631.5,126.5 L628.5,126.4 L625.5,126.4 L622.5,126.3 L619.5,126.3 L616.5,126.2 L613.5,126.2 L610.5,126.2 L607.5,126.1 L604.5,126.1 L601.5,126 L598.5,126 L595.5,125.9 L592.5,125.9 L589.5,125.9 L586.5,125.8 L583.5,125.8 L580.5,125.7 L577.5,125.7 L574.5,125.6 L571.5,125.6 L568.5,125.5 L565.5,125.5 L562.5,125.5 L559.5,125.4 L556.5,125.4 L553.5,125.3 L550.5,125.3 L547.5,125.2 L544.5,125.2 L541.5,125.2 L538.5,125.1 L535.5,125.1 L532.5,125 L529.5,125 L526.5,124.9 L523.5,124.9 L520.5,124.9 L517.5,124.8 L514.5,124.8 L511.5,124.7 L508.5,124.7 L505.5,124.6 L502.5,124.6 L499.5,124.6 L496.5,124.5 L493.5,124.5 L490.5,124.4 L487.5,124.4 L484.5,124.3 L481.5,124.3 L478.5,124.3 L475.5,124.2 L472.5,124.2 L469.5,124.1 L466.5,124.1 L463.5,124 L460.5,124 L457.5,124 L454.5,123.9 L451.5,123.9 L448.5,123.8 L445.5,123.8 L442.5,123.7 L439.5,123.7 L436.5,123.6 L433.5,123.6 L430.5,123.6 L427.5,123.5 L424.5,123.5 L421.5,123.4 L418.5,123.4 L415.5,123.3 L412.5,123.3 L409.5,123.3 L406.5,123.2 L403.5,123.2 L400.5,123.1 L397.5,123.1 L394.5,123 L391.5,123 L388.5,123 L385.5,122.9 L382.5,122.9 L379.5,122.8 L378.5,122.8Z" fill="url(#g3)"/>
<circle cx="378.4" cy="120.2" r="2.5" fill="none" stroke="#cdcdcd" stroke-width="0.7"/>
<circle cx="384.2" cy="120" r="2.5" fill="none" stroke="#cdcdcd" stroke-width="0.7"/>
<circle cx="388" cy="120.2" r="2.5" fill="none" stroke="#cdcdcd" stroke-width="0.7"/>
<circle cx="391.8" cy="120.1" r="2.5" fill="none" stroke="#cdcdcd" stroke-width="0.7"/>
<circle cx="395.9" cy="119.9" r="2.5" fill="none" stroke="#cdcdcd" stroke-width="0.7"/>
<circle cx="399.7" cy="119.4" r="2.5" fill="none" stroke="#cdcdcd" stroke-width="0.7"/>
<circle cx="403.4" cy="119.7" r="2.5" fill="none" stroke="#cdcdcd" stroke-width="0.7"/>
<circle cx="406.5" cy="118.8" r="2.5" fill="none" stroke="#cdcdcd" stroke-width="0.7"/>
<circle cx="410.2" cy="119" r="2.5" fill="none" stroke="#cdcdcd" stroke-width="0.7"/>
<circle cx="413.5" cy="118.1" r="2.5" fill="none" stroke="#cdcdcd" stroke-width="0.7"/>
<circle cx="417.2" cy="117.3" r="2.5" fill="none" stroke="#cdcdcd" stroke-width="0.7"/>
<circle cx="420.6" cy="116.9" r="2.5" fill="none" stroke="#cdcdcd" stroke-width="0.7"/>
<circle cx="423.8" cy="116.2" r="2.5" fill="none" stroke="#cdcdcd" stroke-width="0.7"/>
<circle cx="427.9" cy="116" r="2.5" fill="none" stroke="#cdcdcd" stroke-width="0.7"/>
<circle cx="431.9" cy="115.1" r="2.5" fill="none" stroke="#cdcdcd" stroke-width="0.7"/>
<circle cx="436.2" cy="114.1" r="2.5" fill="none" stroke="#cdcdcd" stroke-width="0.7"/>
<circle cx="439.8" cy="113.1" r="2.5" fill="none" stroke="#cdcdcd" stroke-width="0.7"/>
<circle cx="442.5" cy="112.4" r="2.5" fill="none" stroke="#cdcdcd" stroke-width="0.7"/>
<circle cx="447.9" cy="110.9" r="2.5" fill="none" stroke="#cdcdcd" stroke-width="0.7"/>
<circle cx="451.3" cy="109.3" r="2.5" fill="none" stroke="#cdcdcd" stroke-width="0.7"/>
<circle cx="455" cy="107" r="2.5" fill="none" stroke="#cdcdcd" stroke-width="0.7"/>
<circle cx="458.8" cy="104.9" r="2.5" fill="none" stroke="#cdcdcd" stroke-width="0.7"/>
<circle cx="461.8" cy="102" r="2.5" fill="none" stroke="#cdcdcd" stroke-width="0.7"/>
<circle cx="465.5" cy="99.3" r="2.5" fill="none" stroke="#cdcdcd" stroke-width="0.7"/>
<circle cx="469.4" cy="96" r="2.5" fill="none" stroke="#cdcdcd" stroke-width="0.7"/>
<circle cx="473.4" cy="93" r="2.5" fill="none" stroke="#cdcdcd" stroke-width="0.7"/>
<circle cx="476.7" cy="90.2" r="2.5" fill="none" stroke="#cdcdcd" stroke-width="0.7"/>
<circle cx="480.4" cy="86" r="2.5" fill="none" stroke="#cdcdcd" stroke-width="0.7"/>
<circle cx="484.1" cy="81.7" r="2.5" fill="none" stroke="#cdcdcd" stroke-width="0.7"/>
<circle cx="488.3" cy="77.6" r="2.5" fill="none" stroke="#cdcdcd" stroke-width="0.7"/>
<circle cx="491.4" cy="74.1" r="2.5" fill="none" stroke="#cdcdcd" stroke-width="0.7"/>
<circle cx="494.1" cy="71.5" r="2.5" fill="none" stroke="#cdcdcd" stroke-width="0.7"/>
<circle cx="497.3" cy="68.5" r="2.5" fill="none" stroke="#cdcdcd" stroke-width="0.7"/>
<circle cx="501.6" cy="65.8" r="2.5" fill="none" stroke="#cdcdcd" stroke-width="0.7"/>
<circle cx="506" cy="62.5" r="2.5" fill="none" stroke="#cdcdcd" stroke-width="0.7"/>
<circle cx="510.4" cy="59.6" r="2.5" fill="none" stroke="#cdcdcd" stroke-width="0.7"/>
<circle cx="515.6" cy="56.7" r="2.5" fill="none" stroke="#cdcdcd" stroke-width="0.7"/>
<circle cx="520.6" cy="53" r="2.5" fill="none" stroke="#cdcdcd" stroke-width="0.7"/>
<circle cx="524.9" cy="50.8" r="2.5" fill="none" stroke="#cdcdcd" stroke-width="0.7"/>
<circle cx="529" cy="48.8" r="2.5" fill="none" stroke="#cdcdcd" stroke-width="0.7"/>
<circle cx="533.3" cy="47.1" r="2.5" fill="none" stroke="#cdcdcd" stroke-width="0.7"/>
<circle cx="537.7" cy="47.2" r="2.5" fill="none" stroke="#cdcdcd" stroke-width="0.7"/>
<circle cx="543" cy="47.6" r="2.5" fill="none" stroke="#cdcdcd" stroke-width="0.7"/>
<circle cx="548.7" cy="49.8" r="2.5" fill="none" stroke="#cdcdcd" stroke-width="0.7"/>
<circle cx="553.6" cy="51.5" r="2.5" fill="none" stroke="#cdcdcd" stroke-width="0.7"/>
<circle cx="558.3" cy="53.9" r="2.5" fill="none" stroke="#cdcdcd" stroke-width="0.7"/>
<circle cx="562.5" cy="56.3" r="2.5" fill="none" stroke="#cdcdcd" stroke-width="0.7"/>
<circle cx="565.8" cy="58.1" r="2.5" fill="none" stroke="#cdcdcd" stroke-width="0.7"/>
<circle cx="569.5" cy="60.9" r="2.5" fill="none" stroke="#cdcdcd" stroke-width="0.7"/>
<circle cx="573.5" cy="62.7" r="2.5" fill="none" stroke="#cdcdcd" stroke-width="0.7"/>
<circle cx="576.3" cy="63.7" r="2.5" fill="none" stroke="#cdcdcd" stroke-width="0.7"/>
<circle cx="579.9" cy="62.5" r="2.5" fill="none" stroke="#cdcdcd" stroke-width="0.7"/>
<circle cx="583.6" cy="59.6" r="2.5" fill="none" stroke="#cdcdcd" stroke-width="0.7"/>
<circle cx="586.6" cy="57.1" r="2.5" fill="none" stroke="#cdcdcd" stroke-width="0.7"/>
<circle cx="590.3" cy="55.1" r="2.5" fill="none" stroke="#cdcdcd" stroke-width="0.7"/>
<circle cx="594" cy="53.2" r="2.5" fill="none" stroke="#cdcdcd" stroke-width="0.7"/>
<circle cx="596.9" cy="52.3" r="2.5" fill="none" stroke="#cdcdcd" stroke-width="0.7"/>
<circle cx="600.1" cy="52.2" r="2.5" fill="none" stroke="#cdcdcd" stroke-width="0.7"/>
<circle cx="603.3" cy="54.2" r="2.5" fill="none" stroke="#cdcdcd" stroke-width="0.7"/>
<circle cx="608.5" cy="59.6" r="2.5" fill="none" stroke="#cdcdcd" stroke-width="0.7"/>
<circle cx="611.1" cy="64.8" r="2.5" fill="none" stroke="#cdcdcd" stroke-width="0.7"/>
<circle cx="612.4" cy="68.5" r="2.5" fill="none" stroke="#cdcdcd" stroke-width="0.7"/>
<circle cx="613.8" cy="71.7" r="2.5" fill="none" stroke="#cdcdcd" stroke-width="0.7"/>
<circle cx="615.5" cy="75.7" r="2.5" fill="none" stroke="#cdcdcd" stroke-width="0.7"/>
<circle cx="617.1" cy="79.4" r="2.5" fill="none" stroke="#cdcdcd" stroke-width="0.7"/>
<circle cx="618.3" cy="83.5" r="2.5" fill="none" stroke="#cdcdcd" stroke-width="0.7"/>
<circle cx="619.9" cy="88.1" r="2.5" fill="none" stroke="#cdcdcd" stroke-width="0.7"/>
<circle cx="621.4" cy="93" r="2.5" fill="none" stroke="#cdcdcd" stroke-width="0.7"/>
<circle cx="623.4" cy="96.8" r="2.5" fill="none" stroke="#cdcdcd" stroke-width="0.7"/>
<circle cx="624.6" cy="101" r="2.5" fill="none" stroke="#cdcdcd" stroke-width="0.7"/>
<circle cx="626.2" cy="104.4" r="2.5" fill="none" stroke="#cdcdcd" stroke-width="0.7"/>
<circle cx="628" cy="108.1" r="2.5" fill="none" stroke="#cdcdcd" stroke-width="0.7"/>
<circle cx="630.5" cy="112.6" r="2.5" fill="none" stroke="#cdcdcd" stroke-width="0.7"/>
<circle cx="633.2" cy="116.2" r="2.5" fill="none" stroke="#cdcdcd" stroke-width="0.7"/>
<circle cx="637.1" cy="119.7" r="2.5" fill="none" stroke="#cdcdcd" stroke-width="0.7"/>
<circle cx="641.6" cy="122.1" r="2.5" fill="none" stroke="#cdcdcd" stroke-width="0.7"/>
<circle cx="645.7" cy="124.7" r="2.5" fill="none" stroke="#cdcdcd" stroke-width="0.7"/>
<circle cx="650.1" cy="123.2" r="2.5" fill="none" stroke="#cdcdcd" stroke-width="0.7"/>
<circle cx="654.2" cy="123.6" r="2.5" fill="none" stroke="#cdcdcd" stroke-width="0.7"/>
<circle cx="658.5" cy="124.7" r="2.5" fill="none" stroke="#cdcdcd" stroke-width="0.7"/>
<circle cx="662.8" cy="124.8" r="2.5" fill="none" stroke="#cdcdcd" stroke-width="0.7"/>
<circle cx="665.8" cy="124.7" r="2.5" fill="none" stroke="#cdcdcd" stroke-width="0.7"/>
<path d="M427.1,244.3 L428.1,244.3 L429.1,244.3 L430.1,244.3 L431.1,244.3 L432.1,244.3 L433.1,244.3 L434.1,244.4 L435.1,244.4 L436.1,244.4 L437.1,244.4 L438.1,244.4 L439.1,244.4 L440.1,244.4 L441.1,244.4 L442.1,244.4 L443.1,244.4 L444.1,244.4 L445.1,244.4 L446.1,244.4 L447.1,244.4 L448.1,244.4 L449.1,244.4 L450.1,244.5 L451.1,244.5 L452.1,244.5 L453.1,244.5 L454.1,244.5 L455.1,244.5 L456.1,244.5 L457.1,244.5 L458.1,244.5 L459.1,244.5 L460.1,244.5 L461.1,244.5 L462.1,244.5 L463.1,244.5 L464.1,244.5 L465.1,244.5 L466.1,244.5 L467.1,244.5 L468.1,244.6 L469.1,244.6 L470.1,244.6 L471.1,244.6 L472.1,244.6 L473.1,244.6 L474.1,244.6 L475.1,244.6 L476.1,244.6 L477.1,244.6 L478.1,244.6 L479.1,244.6 L480.1,244.6 L481.1,244.6 L482.1,244.6 L483.1,244.6 L484.1,244.6 L485.1,244.6 L486.1,244.6 L487.1,244.6 L488.1,244.6 L489.1,244.6 L490.1,244.6 L491.1,244.6 L492.1,244.6 L493.1,244.6 L494.1,244.6 L495.1,244.6 L496.1,244.6 L497.1,244.6 L498.1,244.6 L499.1,244.6 L500.1,244.6 L501.1,244.6 L502.1,244.6 L503.1,244.6 L504.1,244.5 L505.1,244.5 L506.1,244.5 L507.1,244.5 L508.1,244.5 L509.1,244.5 L510.1,244.4 L511.1,244.4 L512.1,244.4 L513.1,244.3 L514.1,244.3 L515.1,244.2 L516.1,244.2 L517.1,244.1 L518.1,244 L519.1,244 L520.1,243.9 L521.1,243.8 L522.1,243.7 L523.1,243.6 L524.1,243.4 L525.1,243.3 L526.1,243.1 L527.1,243 L528.1,242.8 L529.1,242.6 L530.1,242.4 L531.1,242.1 L532.1,241.9 L533.1,241.6 L534.1,241.3 L535.1,241 L536.1,240.6 L537.1,240.2 L538.1,239.8 L539.1,239.4 L540.1,238.9 L541.1,238.5 L542.1,237.9 L543.1,237.4 L544.1,236.8 L545.1,236.2 L546.1,235.6 L547.1,234.9 L548.1,234.3 L549.1,233.5 L550.1,232.8 L551.1,232 L552.1,231.2 L553.1,230.4 L554.1,229.6 L555.1,228.8 L556.1,227.9 L557.1,227 L558.1,226.1 L559.1,225.2 L560.1,224.3 L561.1,223.4 L562.1,222.6 L563.1,221.7 L564.1,220.8 L565.1,219.9 L566.1,219.1 L567.1,218.3 L568.1,217.5 L569.1,216.8 L570.1,216.1 L571.1,215.4 L572.1,214.8 L573.1,214.2 L574.1,213.7 L575.1,213.3 L576.1,212.9 L577.1,212.6 L578.1,212.3 L579.1,212.1 L580.1,212 L581.1,212 L582.1,212 L583.1,212.2 L584.1,212.4 L585.1,212.6 L586.1,213 L587.1,213.4 L588.1,213.8 L589.1,214.4 L590.1,214.9 L591.1,215.6 L592.1,216.3 L593.1,217 L594.1,217.7 L595.1,218.5 L596.1,219.4 L597.1,220.2 L598.1,221.1 L599.1,222 L600.1,222.9 L601.1,223.8 L602.1,224.7 L603.1,225.6 L604.1,226.5 L605.1,227.4 L606.1,228.3 L607.1,229.2 L608.1,230.1 L609.1,230.9 L610.1,231.8 L611.1,232.6 L612.1,233.4 L613.1,234.1 L614.1,234.8 L615.1,235.5 L616.1,236.2 L617.1,236.9 L618.1,237.5 L619.1,238.1 L620.1,238.6 L621.1,239.2 L622.1,239.7 L623.1,240.1 L624.1,240.6 L625.1,241 L626.1,241.4 L627.1,241.8 L628.1,242.1 L629.1,242.4 L630.1,242.7 L631.1,243 L632.1,243.3 L633.1,243.5 L634.1,243.7 L635.1,243.9 L636.1,244.1 L637.1,244.3 L638.1,244.5 L639.1,244.6 L640.1,244.7 L641.1,244.9 L642.1,245 L643.1,245.1 L644.1,245.2 L645.1,245.3 L646.1,245.3 L647.1,245.4 L648.1,245.5 L649.1,245.5 L650.1,245.6 L651.1,245.6 L652.1,245.7 L653.1,245.7 L654.1,245.8 L655.1,245.8 L656.1,245.9 L657.1,245.9 L658.1,245.9 L659.1,246 L660.1,246 L661.1,246 L662.1,246 L663.1,246.1 L664.1,246.1 L665.1,246.1 L666.1,246.1 L667.1,246.1 L668.1,246.2 L668.1,246.6 L665.1,246.6 L662.1,246.5 L659.1,246.5 L656.1,246.5 L653.1,246.5 L650.1,246.4 L647.1,246.4 L644.1,246.4 L641.1,246.3 L638.1,246.3 L635.1,246.3 L632.1,246.3 L629.1,246.2 L626.1,246.2 L623.1,246.2 L620.1,246.2 L617.1,246.1 L614.1,246.1 L611.1,246.1 L608.1,246.1 L605.1,246 L602.1,246 L599.1,246 L596.1,245.9 L593.1,245.9 L590.1,245.9 L587.1,245.9 L584.1,245.8 L581.1,245.8 L578.1,245.8 L575.1,245.8 L572.1,245.7 L569.1,245.7 L566.1,245.7 L563.1,245.7 L560.1,245.6 L557.1,245.6 L554.1,245.6 L551.1,245.5 L548.1,245.5 L545.1,245.5 L542.1,245.5 L539.1,245.4 L536.1,245.4 L533.1,245.4 L530.1,245.4 L527.1,245.3 L524.1,245.3 L521.1,245.3 L518.1,245.3 L515.1,245.2 L512.1,245.2 L509.1,245.2 L506.1,245.1 L503.1,245.1 L500.1,245.1 L497.1,245.1 L494.1,245 L491.1,245 L488.1,245 L485.1,245 L482.1,244.9 L479.1,244.9 L476.1,244.9 L473.1,244.9 L470.1,244.8 L467.1,244.8 L464.1,244.8 L461.1,244.7 L458.1,244.7 L455.1,244.7 L452.1,244.7 L449.1,244.6 L446.1,244.6 L443.1,244.6 L440.1,244.6 L437.1,244.5 L434.1,244.5 L431.1,244.5 L428.1,244.5 L427.1,244.4Z" fill="url(#g4)"/>
<path d="M392,244 L393,244 L394,244 L395,244 L396,244 L397,244 L398,244 L399,244 L400,244 L401,244.1 L402,244.1 L403,244.1 L404,244.1 L405,244.1 L406,244.1 L407,244.1 L408,244.1 L409,244.1 L410,244.1 L411,244.1 L412,244.1 L413,244.1 L414,244.1 L415,244.1 L416,244.2 L417,244.2 L418,244.2 L419,244.2 L420,244.2 L421,244.2 L422,244.2 L423,244.2 L424,244.2 L425,244.2 L426,244.2 L427,244.2 L428,244.2 L429,244.2 L430,244.2 L431,244.2 L432,244.2 L433,244.2 L434,244.2 L435,244.3 L436,244.3 L437,244.3 L438,244.3 L439,244.3 L440,244.3 L441,244.3 L442,244.3 L443,244.3 L444,244.3 L445,244.3 L446,244.3 L447,244.3 L448,244.3 L449,244.3 L450,244.3 L451,244.3 L452,244.3 L453,244.3 L454,244.3 L455,244.3 L456,244.3 L457,244.3 L458,244.3 L459,244.3 L460,244.3 L461,244.3 L462,244.3 L463,244.3 L464,244.3 L465,244.3 L466,244.3 L467,244.3 L468,244.3 L469,244.3 L470,244.3 L471,244.3 L472,244.3 L473,244.3 L474,244.2 L475,244.2 L476,244.2 L477,244.2 L478,244.2 L479,244.2 L480,244.1 L481,244.1 L482,244.1 L483,244 L484,244 L485,244 L486,243.9 L487,243.8 L488,243.8 L489,243.7 L490,243.6 L491,243.5 L492,243.4 L493,243.3 L494,243.1 L495,242.9 L496,242.8 L497,242.6 L498,242.3 L499,242.1 L500,241.8 L501,241.5 L502,241.2 L503,240.8 L504,240.4 L505,239.9 L506,239.4 L507,238.9 L508,238.3 L509,237.7 L510,237.1 L511,236.3 L512,235.6 L513,234.8 L514,233.9 L515,233 L516,232 L517,231 L518,229.9 L519,228.8 L520,227.6 L521,226.4 L522,225.2 L523,223.9 L524,222.6 L525,221.3 L526,219.9 L527,218.6 L528,217.2 L529,215.8 L530,214.5 L531,213.1 L532,211.8 L533,210.5 L534,209.3 L535,208.1 L536,207 L537,206 L538,205 L539,204.1 L540,203.3 L541,202.7 L542,202.1 L543,201.7 L544,201.3 L545,201.2 L546,201.1 L547,201.2 L548,201.3 L549,201.6 L550,201.9 L551,202.3 L552,202.9 L553,203.5 L554,204.2 L555,204.9 L556,205.8 L557,206.7 L558,207.6 L559,208.6 L560,209.6 L561,210.7 L562,211.9 L563,213 L564,214.2 L565,215.3 L566,216.5 L567,217.7 L568,218.9 L569,220.1 L570,221.3 L571,222.5 L572,223.6 L573,224.8 L574,225.9 L575,227 L576,228 L577,229.1 L578,230 L579,231 L580,231.9 L581,232.8 L582,233.7 L583,234.5 L584,235.2 L585,236 L586,236.7 L587,237.3 L588,237.9 L589,238.5 L590,239.1 L591,239.6 L592,240.1 L593,240.5 L594,240.9 L595,241.3 L596,241.7 L597,242 L598,242.3 L599,242.6 L600,242.9 L601,243.1 L602,243.3 L603,243.6 L604,243.7 L605,243.9 L606,244.1 L607,244.2 L608,244.4 L609,244.5 L610,244.6 L611,244.7 L612,244.8 L613,244.9 L614,244.9 L615,245 L616,245.1 L617,245.1 L618,245.2 L619,245.3 L620,245.3 L621,245.3 L622,245.4 L623,245.4 L624,245.5 L625,245.5 L626,245.5 L627,245.6 L628,245.6 L629,245.6 L630,245.6 L631,245.7 L632,245.7 L633,245.7 L634,245.7 L635,245.8 L636,245.8 L637,245.8 L638,245.8 L639,245.8 L640,245.9 L641,245.9 L642,245.9 L643,245.9 L644,245.9 L645,246 L646,246 L647,246 L648,246 L649,246 L650,246 L651,246.1 L652,246.1 L653,246.1 L654,246.1 L655,246.1 L656,246.1 L657,246.1 L658,246.2 L659,246.2 L660,246.2 L661,246.2 L662,246.2 L663,246.2 L664,246.2 L665,246.3 L666,246.3 L667,246.3 L668,246.3 L668,246.6 L665,246.6 L662,246.5 L659,246.5 L656,246.5 L653,246.5 L650,246.4 L647,246.4 L644,246.4 L641,246.3 L638,246.3 L635,246.3 L632,246.3 L629,246.2 L626,246.2 L623,246.2 L620,246.2 L617,246.1 L614,246.1 L611,246.1 L608,246.1 L605,246 L602,246 L599,246 L596,245.9 L593,245.9 L590,245.9 L587,245.9 L584,245.8 L581,245.8 L578,245.8 L575,245.8 L572,245.7 L569,245.7 L566,245.7 L563,245.7 L560,245.6 L557,245.6 L554,245.6 L551,245.5 L548,245.5 L545,245.5 L542,245.5 L539,245.4 L536,245.4 L533,245.4 L530,245.4 L527,245.3 L524,245.3 L521,245.3 L518,245.3 L515,245.2 L512,245.2 L509,245.2 L506,245.1 L503,245.1 L500,245.1 L497,245.1 L494,245 L491,245 L488,245 L485,245 L482,244.9 L479,244.9 L476,244.9 L473,244.9 L470,244.8 L467,244.8 L464,244.8 L461,244.7 L458,244.7 L455,244.7 L452,244.7 L449,244.6 L446,244.6 L443,244.6 L440,244.6 L437,244.5 L434,244.5 L431,244.5 L428,244.4 L425,244.4 L422,244.4 L419,244.4 L416,244.3 L413,244.3 L410,244.3 L407,244.3 L404,244.2 L401,244.2 L398,244.2 L395,244.2 L392,244.1 L392,244.1Z" fill="url(#g5)"/>
<path d="M378.5,242.8 L379.5,242.7 L380.5,242.7 L381.5,242.7 L382.5,242.7 L383.5,242.6 L384.5,242.6 L385.5,242.5 L386.5,242.5 L387.5,242.5 L388.5,242.4 L389.5,242.4 L390.5,242.3 L391.5,242.3 L392.5,242.2 L393.5,242.1 L394.5,242 L395.5,242 L396.5,241.9 L397.5,241.8 L398.5,241.7 L399.5,241.6 L400.5,241.5 L401.5,241.3 L402.5,241.2 L403.5,241.1 L404.5,240.9 L405.5,240.8 L406.5,240.6 L407.5,240.4 L408.5,240.2 L409.5,240 L410.5,239.8 L411.5,239.5 L412.5,239.3 L413.5,239 L414.5,238.7 L415.5,238.4 L416.5,238.1 L417.5,237.8 L418.5,237.4 L419.5,237.1 L420.5,236.7 L421.5,236.2 L422.5,235.8 L423.5,235.3 L424.5,234.8 L425.5,234.3 L426.5,233.8 L427.5,233.2 L428.5,232.6 L429.5,232 L430.5,231.4 L431.5,230.7 L432.5,230 L433.5,229.3 L434.5,228.5 L435.5,227.7 L436.5,226.9 L437.5,226.1 L438.5,225.2 L439.5,224.3 L440.5,223.4 L441.5,222.4 L442.5,221.4 L443.5,220.4 L444.5,219.3 L445.5,218.3 L446.5,217.2 L447.5,216 L448.5,214.9 L449.5,213.7 L450.5,212.5 L451.5,211.3 L452.5,210 L453.5,208.8 L454.5,207.5 L455.5,206.2 L456.5,204.9 L457.5,203.6 L458.5,202.2 L459.5,200.9 L460.5,199.6 L461.5,198.2 L462.5,196.9 L463.5,195.5 L464.5,194.2 L465.5,192.8 L466.5,191.5 L467.5,190.2 L468.5,188.9 L469.5,187.6 L470.5,186.4 L471.5,185.2 L472.5,184 L473.5,182.8 L474.5,181.7 L475.5,180.6 L476.5,179.5 L477.5,178.5 L478.5,177.5 L479.5,176.6 L480.5,175.8 L481.5,175 L482.5,174.2 L483.5,173.5 L484.5,172.9 L485.5,172.4 L486.5,171.9 L487.5,171.5 L488.5,171.1 L489.5,170.9 L490.5,170.7 L491.5,170.5 L492.5,170.5 L493.5,170.5 L494.5,170.6 L495.5,170.8 L496.5,171.1 L497.5,171.4 L498.5,171.8 L499.5,172.3 L500.5,172.8 L501.5,173.4 L502.5,174.1 L503.5,174.8 L504.5,175.6 L505.5,176.5 L506.5,177.4 L507.5,178.4 L508.5,179.4 L509.5,180.4 L510.5,181.5 L511.5,182.7 L512.5,183.8 L513.5,185 L514.5,186.3 L515.5,187.5 L516.5,188.8 L517.5,190.1 L518.5,191.4 L519.5,192.8 L520.5,194.1 L521.5,195.5 L522.5,196.9 L523.5,198.2 L524.5,199.6 L525.5,200.9 L526.5,202.3 L527.5,203.7 L528.5,205 L529.5,206.3 L530.5,207.6 L531.5,209 L532.5,210.2 L533.5,211.5 L534.5,212.8 L535.5,214 L536.5,215.2 L537.5,216.4 L538.5,217.5 L539.5,218.7 L540.5,219.8 L541.5,220.8 L542.5,221.9 L543.5,222.9 L544.5,223.9 L545.5,224.9 L546.5,225.8 L547.5,226.7 L548.5,227.6 L549.5,228.4 L550.5,229.2 L551.5,230 L552.5,230.8 L553.5,231.5 L554.5,232.2 L555.5,232.9 L556.5,233.5 L557.5,234.2 L558.5,234.7 L559.5,235.3 L560.5,235.8 L561.5,236.4 L562.5,236.9 L563.5,237.3 L564.5,237.8 L565.5,238.2 L566.5,238.6 L567.5,239 L568.5,239.3 L569.5,239.7 L570.5,240 L571.5,240.3 L572.5,240.6 L573.5,240.9 L574.5,241.1 L575.5,241.4 L576.5,241.6 L577.5,241.8 L578.5,242 L579.5,242.2 L580.5,242.4 L581.5,242.6 L582.5,242.8 L583.5,242.9 L584.5,243.1 L585.5,243.2 L586.5,243.3 L587.5,243.4 L588.5,243.5 L589.5,243.7 L590.5,243.8 L591.5,243.9 L592.5,243.9 L593.5,244 L594.5,244.1 L595.5,244.2 L596.5,244.2 L597.5,244.3 L598.5,244.4 L599.5,244.4 L600.5,244.5 L601.5,244.5 L602.5,244.6 L603.5,244.6 L604.5,244.7 L605.5,244.7 L606.5,244.8 L607.5,244.8 L608.5,244.9 L609.5,244.9 L610.5,244.9 L611.5,245 L612.5,245 L613.5,245 L614.5,245.1 L615.5,245.1 L616.5,245.1 L617.5,245.1 L618.5,245.2 L619.5,245.2 L620.5,245.2 L621.5,245.2 L622.5,245.3 L623.5,245.3 L624.5,245.3 L625.5,245.3 L626.5,245.4 L627.5,245.4 L628.5,245.4 L629.5,245.4 L630.5,245.5 L631.5,245.5 L632.5,245.5 L633.5,245.5 L634.5,245.5 L635.5,245.6 L636.5,245.6 L637.5,245.6 L638.5,245.6 L639.5,245.6 L640.5,245.6 L641.5,245.7 L642.5,245.7 L643.5,245.7 L644.5,245.7 L645.5,245.7 L646.5,245.7 L647.5,245.8 L648.5,245.8 L649.5,245.8 L650.5,245.8 L651.5,245.8 L652.5,245.8 L653.5,245.9 L654.5,245.9 L655.5,245.9 L656.5,245.9 L657.5,245.9 L658.5,245.9 L659.5,246 L660.5,246 L661.5,246 L662.5,246 L663.5,246 L664.5,246 L665.5,246 L666.5,246.1 L667.5,246.1 L667.5,246.6 L664.5,246.6 L661.5,246.5 L658.5,246.5 L655.5,246.5 L652.5,246.5 L649.5,246.4 L646.5,246.4 L643.5,246.4 L640.5,246.3 L637.5,246.3 L634.5,246.3 L631.5,246.3 L628.5,246.2 L625.5,246.2 L622.5,246.2 L619.5,246.2 L616.5,246.1 L613.5,246.1 L610.5,246.1 L607.5,246 L604.5,246 L601.5,246 L598.5,246 L595.5,245.9 L592.5,245.9 L589.5,245.9 L586.5,245.9 L583.5,245.8 L580.5,245.8 L577.5,245.8 L574.5,245.8 L571.5,245.7 L568.5,245.7 L565.5,245.7 L562.5,245.6 L559.5,245.6 L556.5,245.6 L553.5,245.6 L550.5,245.5 L547.5,245.5 L544.5,245.5 L541.5,245.5 L538.5,245.4 L535.5,245.4 L532.5,245.4 L529.5,245.4 L526.5,245.3 L523.5,245.3 L520.5,245.3 L517.5,245.2 L514.5,245.2 L511.5,245.2 L508.5,245.2 L505.5,245.1 L502.5,245.1 L499.5,245.1 L496.5,245.1 L493.5,245 L490.5,245 L487.5,245 L484.5,245 L481.5,244.9 L478.5,244.9 L475.5,244.9 L472.5,244.8 L469.5,244.8 L466.5,244.8 L463.5,244.8 L460.5,244.7 L457.5,244.7 L454.5,244.7 L451.5,244.7 L448.5,244.6 L445.5,244.6 L442.5,244.6 L439.5,244.6 L436.5,244.5 L433.5,244.5 L430.5,244.5 L427.5,244.4 L424.5,244.4 L421.5,244.4 L418.5,244.4 L415.5,244.3 L412.5,244.3 L409.5,244.3 L406.5,244.3 L403.5,244.2 L400.5,244.2 L397.5,244.2 L394.5,244.2 L391.5,244.1 L388.5,244.1 L385.5,244.1 L382.5,244 L379.5,244 L378.5,244Z" fill="url(#g6)"/>
<circle cx="378.5" cy="240.4" r="2.5" fill="none" stroke="#cdcdcd" stroke-width="0.7"/>
<circle cx="383" cy="240.3" r="2.5" fill="none" stroke="#cdcdcd" stroke-width="0.7"/>
<circle cx="386.2" cy="239.7" r="2.5" fill="none" stroke="#cdcdcd" stroke-width="0.7"/>
<circle cx="390.6" cy="239" r="2.5" fill="none" stroke="#cdcdcd" stroke-width="0.7"/>
<circle cx="394" cy="238.9" r="2.5" fill="none" stroke="#cdcdcd" stroke-width="0.7"/>
<circle cx="397.2" cy="238.1" r="2.5" fill="none" stroke="#cdcdcd" stroke-width="0.7"/>
<circle cx="401.4" cy="237.4" r="2.5" fill="none" stroke="#cdcdcd" stroke-width="0.7"/>
<circle cx="405.3" cy="236.3" r="2.5" fill="none" stroke="#cdcdcd" stroke-width="0.7"/>
<circle cx="408.8" cy="235.3" r="2.5" fill="none" stroke="#cdcdcd" stroke-width="0.7"/>
<circle cx="412.9" cy="234.8" r="2.5" fill="none" stroke="#cdcdcd" stroke-width="0.7"/>
<circle cx="416.8" cy="233.5" r="2.5" fill="none" stroke="#cdcdcd" stroke-width="0.7"/>
<circle cx="420.2" cy="232.3" r="2.5" fill="none" stroke="#cdcdcd" stroke-width="0.7"/>
<circle cx="423.3" cy="230.7" r="2.5" fill="none" stroke="#cdcdcd" stroke-width="0.7"/>
<circle cx="426.9" cy="229.7" r="2.5" fill="none" stroke="#cdcdcd" stroke-width="0.7"/>
<circle cx="429.7" cy="227.8" r="2.5" fill="none" stroke="#cdcdcd" stroke-width="0.7"/>
<circle cx="432.5" cy="226.4" r="2.5" fill="none" stroke="#cdcdcd" stroke-width="0.7"/>
<circle cx="435.4" cy="225.2" r="2.5" fill="none" stroke="#cdcdcd" stroke-width="0.7"/>
<circle cx="438.2" cy="223.4" r="2.5" fill="none" stroke="#cdcdcd" stroke-width="0.7"/>
<circle cx="441.5" cy="220.6" r="2.5" fill="none" stroke="#cdcdcd" stroke-width="0.7"/>
<circle cx="443.9" cy="218.7" r="2.5" fill="none" stroke="#cdcdcd" stroke-width="0.7"/>
<circle cx="446.3" cy="216.1" r="2.5" fill="none" stroke="#cdcdcd" stroke-width="0.7"/>
<circle cx="449.7" cy="213.3" r="2.5" fill="none" stroke="#cdcdcd" stroke-width="0.7"/>
<circle cx="451.9" cy="210.7" r="2.5" fill="none" stroke="#cdcdcd" stroke-width="0.7"/>
<circle cx="454.3" cy="208.7" r="2.5" fill="none" stroke="#cdcdcd" stroke-width="0.7"/>
<circle cx="456.1" cy="205.4" r="2.5" fill="none" stroke="#cdcdcd" stroke-width="0.7"/>
<circle cx="458" cy="203.2" r="2.5" fill="none" stroke="#cdcdcd" stroke-width="0.7"/>
<circle cx="459.7" cy="200.1" r="2.5" fill="none" stroke="#cdcdcd" stroke-width="0.7"/>
<circle cx="461.9" cy="198.1" r="2.5" fill="none" stroke="#cdcdcd" stroke-width="0.7"/>
<circle cx="463.6" cy="195" r="2.5" fill="none" stroke="#cdcdcd" stroke-width="0.7"/>
<circle cx="465.6" cy="192.2" r="2.5" fill="none" stroke="#cdcdcd" stroke-width="0.7"/>
<circle cx="467.4" cy="189.7" r="2.5" fill="none" stroke="#cdcdcd" stroke-width="0.7"/>
<circle cx="469.4" cy="187.8" r="2.5" fill="none" stroke="#cdcdcd" stroke-width="0.7"/>
<circle cx="470.8" cy="185" r="2.5" fill="none" stroke="#cdcdcd" stroke-width="0.7"/>
<circle cx="473.1" cy="182.2" r="2.5" fill="none" stroke="#cdcdcd" stroke-width="0.7"/>
<circle cx="474.7" cy="180.5" r="2.5" fill="none" stroke="#cdcdcd" stroke-width="0.7"/>
<circle cx="479.1" cy="175.2" r="2.5" fill="none" stroke="#cdcdcd" stroke-width="0.7"/>
<circle cx="480.8" cy="173.6" r="2.5" fill="none" stroke="#cdcdcd" stroke-width="0.7"/>
<circle cx="484.3" cy="169" r="2.5" fill="none" stroke="#cdcdcd" stroke-width="0.7"/>
<circle cx="487.7" cy="165.3" r="2.5" fill="none" stroke="#cdcdcd" stroke-width="0.7"/>
<circle cx="491.3" cy="163.2" r="2.5" fill="none" stroke="#cdcdcd" stroke-width="0.7"/>
<circle cx="494.1" cy="161.5" r="2.5" fill="none" stroke="#cdcdcd" stroke-width="0.7"/>
<circle cx="497.1" cy="161.1" r="2.5" fill="none" stroke="#cdcdcd" stroke-width="0.7"/>
<circle cx="501.6" cy="160" r="2.5" fill="none" stroke="#cdcdcd" stroke-width="0.7"/>
<circle cx="506.3" cy="159.9" r="2.5" fill="none" stroke="#cdcdcd" stroke-width="0.7"/>
<circle cx="510.9" cy="158.8" r="2.5" fill="none" stroke="#cdcdcd" stroke-width="0.7"/>
<circle cx="514.3" cy="158.9" r="2.5" fill="none" stroke="#cdcdcd" stroke-width="0.7"/>
<circle cx="518.2" cy="158.7" r="2.5" fill="none" stroke="#cdcdcd" stroke-width="0.7"/>
<circle cx="522" cy="158.9" r="2.5" fill="none" stroke="#cdcdcd" stroke-width="0.7"/>
<circle cx="526.3" cy="159.3" r="2.5" fill="none" stroke="#cdcdcd" stroke-width="0.7"/>
<circle cx="531.1" cy="159.7" r="2.5" fill="none" stroke="#cdcdcd" stroke-width="0.7"/>
<circle cx="535.2" cy="160.2" r="2.5" fill="none" stroke="#cdcdcd" stroke-width="0.7"/>
<circle cx="539.5" cy="160.5" r="2.5" fill="none" stroke="#cdcdcd" stroke-width="0.7"/>
<circle cx="543.1" cy="161.2" r="2.5" fill="none" stroke="#cdcdcd" stroke-width="0.7"/>
<circle cx="547.3" cy="162.7" r="2.5" fill="none" stroke="#cdcdcd" stroke-width="0.7"/>
<circle cx="551.5" cy="164.8" r="2.5" fill="none" stroke="#cdcdcd" stroke-width="0.7"/>
<circle cx="559.1" cy="168.7" r="2.5" fill="none" stroke="#cdcdcd" stroke-width="0.7"/>
<circle cx="563.6" cy="170.9" r="2.5" fill="none" stroke="#cdcdcd" stroke-width="0.7"/>
<circle cx="567.2" cy="173.2" r="2.5" fill="none" stroke="#cdcdcd" stroke-width="0.7"/>
<circle cx="571" cy="176.1" r="2.5" fill="none" stroke="#cdcdcd" stroke-width="0.7"/>
<circle cx="574.1" cy="179.9" r="2.5" fill="none" stroke="#cdcdcd" stroke-width="0.7"/>
<circle cx="578.1" cy="183.6" r="2.5" fill="none" stroke="#cdcdcd" stroke-width="0.7"/>
<circle cx="582.5" cy="187.4" r="2.5" fill="none" stroke="#cdcdcd" stroke-width="0.7"/>
<circle cx="585.2" cy="190.7" r="2.5" fill="none" stroke="#cdcdcd" stroke-width="0.7"/>
<circle cx="588.4" cy="194.6" r="2.5" fill="none" stroke="#cdcdcd" stroke-width="0.7"/>
<circle cx="591.6" cy="198.8" r="2.5" fill="none" stroke="#cdcdcd" stroke-width="0.7"/>
<circle cx="594.4" cy="202.5" r="2.5" fill="none" stroke="#cdcdcd" stroke-width="0.7"/>
<circle cx="597.4" cy="207.4" r="2.5" fill="none" stroke="#cdcdcd" stroke-width="0.7"/>
<circle cx="600" cy="212.8" r="2.5" fill="none" stroke="#cdcdcd" stroke-width="0.7"/>
<circle cx="603.9" cy="217.2" r="2.5" fill="none" stroke="#cdcdcd" stroke-width="0.7"/>
<circle cx="605.6" cy="220.1" r="2.5" fill="none" stroke="#cdcdcd" stroke-width="0.7"/>
<circle cx="607.7" cy="222.2" r="2.5" fill="none" stroke="#cdcdcd" stroke-width="0.7"/>
<circle cx="611.7" cy="226.5" r="2.5" fill="none" stroke="#cdcdcd" stroke-width="0.7"/>
<circle cx="615.4" cy="231" r="2.5" fill="none" stroke="#cdcdcd" stroke-width="0.7"/>
<circle cx="619.3" cy="234.4" r="2.5" fill="none" stroke="#cdcdcd" stroke-width="0.7"/>
<circle cx="622.4" cy="237.2" r="2.5" fill="none" stroke="#cdcdcd" stroke-width="0.7"/>
<circle cx="626.5" cy="239.8" r="2.5" fill="none" stroke="#cdcdcd" stroke-width="0.7"/>
<circle cx="630.2" cy="241.7" r="2.5" fill="none" stroke="#cdcdcd" stroke-width="0.7"/>
<circle cx="634.1" cy="243.2" r="2.5" fill="none" stroke="#cdcdcd" stroke-width="0.7"/>
<circle cx="637.5" cy="244.4" r="2.5" fill="none" stroke="#cdcdcd" stroke-width="0.7"/>
<circle cx="642" cy="245.6" r="2.5" fill="none" stroke="#cdcdcd" stroke-width="0.7"/>
<circle cx="643.8" cy="243.6" r="2.5" fill="none" stroke="#cdcdcd" stroke-width="0.7"/>
<circle cx="650.1" cy="244.7" r="2.5" fill="none" stroke="#cdcdcd" stroke-width="0.7"/>
<circle cx="654.2" cy="244.9" r="2.5" fill="none" stroke="#cdcdcd" stroke-width="0.7"/>
<circle cx="658.1" cy="245.1" r="2.5" fill="none" stroke="#cdcdcd" stroke-width="0.7"/>
<circle cx="662.9" cy="244.9" r="2.5" fill="none" stroke="#cdcdcd" stroke-width="0.7"/>
<circle cx="666.1" cy="244.9" r="2.5" fill="none" stroke="#cdcdcd" stroke-width="0.7"/>
<line x1="497.2" y1="71.2" x2="497.2" y2="244" stroke="#5a7fa3" stroke-width="1.8" stroke-dasharray="9.2,8.7"/>
<line x1="545.6" y1="96.1" x2="545.6" y2="244" stroke="#5a7fa3" stroke-width="1.8" stroke-dasharray="9.2,8.7"/>
<line x1="580.6" y1="73.6" x2="580.6" y2="244" stroke="#5a7fa3" stroke-width="1.8" stroke-dasharray="9.2,8.7"/>
<polyline points="378.5,122.3 380.9,122.2 384.1,122.2 388,122.1 392.1,121.9 396.2,121.7 400,121.5 403.4,121.2 406.8,120.8 410.1,120.4 413.4,120 416.8,119.5 420.3,118.9 424.1,118.3 428.1,117.6 432.1,116.8 436.1,116 439.7,115.2 442.9,114.4 445.5,113.6 447.8,112.8 449.7,111.9 451.5,111 453.2,110.1 455,109 456.8,107.8 458.6,106.5 460.3,105.1 462,103.7 463.7,102.2 465.5,100.8 467.3,99.4 469.2,98 471.1,96.6 473,95.1 474.9,93.5 476.8,91.8 478.7,89.9 480.6,87.8 482.6,85.5 484.5,83.3 486.3,81.2 488.1,79.3 489.7,77.6 491.1,76 492.5,74.6 493.9,73.2 495.4,71.8 497.2,70.3 499.2,68.8 501.4,67.3 503.7,65.7 506.1,64.2 508.4,62.7 510.8,61.2 513.1,59.7 515.5,58.1 517.9,56.5 520.3,55 522.7,53.7 525,52.5 527.2,51.5 529.3,50.6 531.5,49.8 533.6,49.2 535.8,48.9 538.1,48.8 540.6,49 543.3,49.6 546.1,50.4 548.8,51.3 551.4,52.3 553.9,53.3 556.1,54.3 558.3,55.4 560.3,56.6 562.2,57.8 564.1,58.9 566,60 567.9,61.2 569.7,62.4 571.4,63.7 573.1,64.8 574.9,65.5 576.6,65.7 578.4,65.3 580.1,64.3 581.8,63 583.6,61.6 585.3,60.2 587,59 588.7,58 590.4,56.8 592,55.8 593.7,54.9 595.3,54.2 596.9,54 598.5,54.1 600,54.3 601.5,54.9 603,55.8 604.5,57.1 606,58.9 607.5,61.4 609,64.4 610.5,67.8 612,71.6 613.5,75.5 615,79.3 616.5,83.3 618,87.7 619.5,92.2 621.1,96.6 622.6,100.7 624.1,104.2 625.6,107.2 626.9,109.8 628.3,112.1 629.8,114.2 631.3,116.1 633.1,117.8 635,119.4 637,120.7 639.1,121.9 641.4,122.9 643.9,123.8 646.7,124.6 650.1,125.3 654.2,125.8 658.5,126.1 662.5,126.4 666,126.6 668.5,126.8" fill="none" stroke="#e8272b" stroke-width="2" stroke-linejoin="round" stroke-linecap="round" />
<polyline points="378.5,242.3 380.5,242.1 383.3,241.8 386.6,241.5 390.3,241.1 394,240.6 397.6,240 401.2,239.2 405.1,238.4 409,237.4 412.9,236.3 416.7,235.1 420.3,233.9 423.6,232.6 426.8,231.3 429.8,229.9 432.7,228.4 435.6,226.8 438.4,224.9 441.2,222.8 444,220.5 446.7,218 449.4,215.4 451.9,212.8 454.2,210.2 456.3,207.6 458.3,204.9 460.1,202.2 461.9,199.6 463.7,196.9 465.5,194.3 467.4,191.8 469.3,189.2 471.1,186.7 473,184.3 474.9,181.9 476.8,179.6 478.7,177.3 480.6,175 482.6,172.8 484.5,170.7 486.3,168.8 488.1,167.2 489.7,165.9 491.1,165 492.5,164.2 493.9,163.6 495.4,163.1 497.2,162.6 499.3,162.1 501.6,161.8 504,161.5 506.4,161.3 508.7,161.2 510.8,161 512.5,160.9 514,160.8 515.4,160.8 516.8,160.7 518.3,160.8 520,160.8 522,160.8 524.3,160.9 526.7,161 529.1,161.1 531.4,161.3 533.6,161.5 535.6,161.8 537.5,162 539.3,162.3 541,162.7 542.9,163.2 544.9,163.8 547.1,164.5 549.3,165.3 551.7,166.2 554.1,167.2 556.3,168.3 558.5,169.4 560.5,170.5 562.4,171.7 564.3,173 566.1,174.3 567.9,175.8 569.8,177.3 571.7,179 573.6,180.8 575.6,182.8 577.5,184.8 579.3,186.8 581.1,188.7 582.7,190.5 584.3,192.3 585.8,194.1 587.3,196 588.7,197.9 590.2,200 591.7,202.3 593.1,204.7 594.6,207.2 596,209.8 597.6,212.3 599.2,214.7 601,217.1 602.8,219.4 604.7,221.8 606.6,224.1 608.6,226.2 610.5,228.3 612.4,230.2 614.3,232.1 616.1,233.9 618,235.5 619.9,237 621.8,238.4 623.7,239.6 625.5,240.6 627.3,241.5 629.2,242.3 631.1,243 633.1,243.6 635.1,244.2 637.2,244.6 639.2,245 641.5,245.3 643.9,245.6 646.7,245.9 650.1,246.1 654.2,246.3 658.5,246.5 662.5,246.6 666,246.7 668.5,246.8" fill="none" stroke="#e8272b" stroke-width="2" stroke-linejoin="round" stroke-linecap="round" />
<text transform="translate(450.8,92.9) scale(1,1.04)" font-size="14.5" fill="#000" text-anchor="start" font-weight="bold" >O<tspan font-size="10.1" dy="3">ads.</tspan></text>
<text transform="translate(450.8,114.4) scale(1,1.04)" font-size="14.5" fill="#000" text-anchor="start" font-weight="bold" >51.7%</text>
<text transform="translate(530.9,69.1) scale(1,1.04)" font-size="14.5" fill="#000" text-anchor="start" font-weight="bold" >O<tspan font-size="10.1" dy="3">vac.</tspan></text>
<text transform="translate(530.9,91.1) scale(1,1.04)" font-size="14.5" fill="#000" text-anchor="start" font-weight="bold" >19.0%</text>
<text transform="translate(599.7,99.7) scale(1,1.04)" font-size="14.5" fill="#000" text-anchor="start" font-weight="bold" >O<tspan font-size="10.1" dy="3">lat.</tspan></text>
<text transform="translate(599.7,121.9) scale(1,1.04)" font-size="14.5" fill="#000" text-anchor="start" font-weight="bold" >29.3%</text>
<text transform="translate(442.9,218.1) scale(1,1.04)" font-size="14.5" fill="#000" text-anchor="start" font-weight="bold" >O<tspan font-size="10.1" dy="3">ads.</tspan></text>
<text transform="translate(442.9,239.6) scale(1,1.04)" font-size="14.5" fill="#000" text-anchor="start" font-weight="bold" >57.2%</text>
<text transform="translate(499.9,193.2) scale(1,1.04)" font-size="14.5" fill="#000" text-anchor="start" font-weight="bold" >O<tspan font-size="10.1" dy="3">vac.</tspan></text>
<text transform="translate(499.9,214.7) scale(1,1.04)" font-size="14.5" fill="#000" text-anchor="start" font-weight="bold" >24.1%</text>
<text transform="translate(605.5,222.6) scale(1,1.04)" font-size="14.5" fill="#000" text-anchor="start" font-weight="bold" >O<tspan font-size="10.1" dy="3">lat.</tspan></text>
<text transform="translate(605.5,244.1) scale(1,1.04)" font-size="14.5" fill="#000" text-anchor="start" font-weight="bold" >18.7%</text>
<text transform="translate(381,138.1) scale(1,1.04)" font-size="15.5" fill="#6b90c9" text-anchor="start" font-weight="bold" >CoMn<tspan font-size="11.2" dy="4.8">2</tspan><tspan dy="-4.8">O</tspan><tspan font-size="11.2" dy="4.8">4</tspan><tspan dy="-4.8"></tspan></text>
<text transform="translate(380.8,258.8) scale(1,1.04)" font-size="15.5" fill="#ee9a9e" text-anchor="start" font-weight="bold" >CoMn<tspan font-size="11.2" dy="4.8">2</tspan><tspan dy="-4.8">O</tspan><tspan font-size="11.2" dy="4.8">4</tspan><tspan dy="-4.8">-S</tspan></text>
<text transform="translate(472.3,261.1) scale(1,1.04)" font-size="12.2" fill="#3f9a5e" text-anchor="start" font-weight="bold" >533.3 eV</text>
<text transform="translate(526.8,261.1) scale(1,1.04)" font-size="12.2" fill="#3f78b8" text-anchor="start" font-weight="bold" >531.8 eV</text>
<text transform="translate(579.3,261.1) scale(1,1.04)" font-size="12.2" fill="#ee9aa0" text-anchor="start" font-weight="bold" >530.7 eV</text>
<rect x="32.6" y="347.6" width="292.6" height="238.1" fill="none" stroke="#000" stroke-width="1.6"/>
<line x1="48.9" y1="585.7" x2="48.9" y2="590.3" stroke="#000" stroke-width="1.5" />
<line x1="122.1" y1="585.7" x2="122.1" y2="590.3" stroke="#000" stroke-width="1.5" />
<line x1="195.4" y1="585.7" x2="195.4" y2="590.3" stroke="#000" stroke-width="1.5" />
<line x1="268.6" y1="585.7" x2="268.6" y2="590.3" stroke="#000" stroke-width="1.5" />
<line x1="85.5" y1="585.7" x2="85.5" y2="588.3" stroke="#000" stroke-width="1.5" />
<line x1="158.7" y1="585.7" x2="158.7" y2="588.3" stroke="#000" stroke-width="1.5" />
<line x1="232" y1="585.7" x2="232" y2="588.3" stroke="#000" stroke-width="1.5" />
<line x1="305.2" y1="585.7" x2="305.2" y2="588.3" stroke="#000" stroke-width="1.5" />
<text transform="translate(48.9,606) scale(1,1.04)" font-size="15.5" fill="#000" text-anchor="middle" font-weight="bold" >810</text>
<text transform="translate(122.1,606) scale(1,1.04)" font-size="15.5" fill="#000" text-anchor="middle" font-weight="bold" >801</text>
<text transform="translate(195.4,606) scale(1,1.04)" font-size="15.5" fill="#000" text-anchor="middle" font-weight="bold" >792</text>
<text transform="translate(268.6,606) scale(1,1.04)" font-size="15.5" fill="#000" text-anchor="middle" font-weight="bold" >783</text>
<text transform="translate(178.9,630.7) scale(1,1.04)" font-size="20.3" fill="#000" text-anchor="middle" font-weight="bold" >Binding Energy (eV)</text>
<text transform="translate(15.4,478.1) rotate(-90) scale(1,1.04)" font-size="20" font-weight="bold" text-anchor="middle">Intensity (a.u.)</text>
<text transform="translate(37.7,363) scale(1,1.04)" font-size="15" fill="#000" text-anchor="start" font-weight="bold" >Co 2p</text>
<path d="M77.5,432 L78.5,432 L79.5,432 L80.5,432 L81.5,432 L82.5,432 L83.5,432 L84.5,432 L85.5,432 L86.5,432.1 L87.5,432.1 L88.5,432.1 L89.5,432.2 L90.5,432.2 L91.5,432.3 L92.5,432.3 L93.5,432.4 L94.5,432.4 L95.5,432.5 L96.5,432.5 L97.5,432.6 L98.5,432.7 L99.5,432.7 L100.5,432.8 L101.5,432.9 L102.5,433 L103.5,433.1 L104.5,433.1 L105.5,433.2 L106.5,433.3 L107.5,433.4 L108.5,433.5 L109.5,433.6 L110.5,433.7 L111.5,433.8 L112.5,433.9 L113.5,434 L114.5,434.1 L115.5,434.2 L116.5,434.3 L117.5,434.4 L118.5,434.5 L119.5,434.6 L120.5,434.7 L121.5,434.8 L122.5,435 L123.5,435.1 L124.5,435.2 L125.5,435.3 L126.5,435.4 L127.5,435.4 L128.5,435.5 L129.5,435.6 L130.5,435.6 L131.5,435.7 L132.5,435.6 L133.5,435.6 L134.5,435.5 L135.5,435.3 L136.5,435.1 L137.5,434.7 L138.5,434.3 L139.5,433.8 L140.5,433.1 L141.5,432.3 L142.5,431.4 L143.5,430.4 L144.5,429.3 L145.5,428.1 L146.5,426.9 L147.5,425.6 L148.5,424.4 L149.5,423.2 L150.5,422.2 L151.5,421.4 L152.5,420.8 L153.5,420.5 L154.5,420.4 L155.5,420.6 L156.5,420.9 L157.5,421.4 L158.5,422 L159.5,422.7 L160.5,423.5 L161.5,424.4 L162.5,425.4 L163.5,426.4 L164.5,427.4 L165.5,428.5 L166.5,429.5 L167.5,430.6 L168.5,431.5 L169.5,432.5 L170.5,433.4 L171.5,434.2 L172.5,434.9 L173.5,435.6 L174.5,436.2 L175.5,436.8 L176.5,437.3 L177.5,437.7 L178.5,438.1 L179.5,438.4 L180.5,438.6 L181.5,438.9 L182.5,439 L183.5,439.2 L184.5,439.4 L185.5,439.5 L186.5,439.6 L187.5,439.7 L188.5,439.8 L189.5,439.9 L190.5,440 L191.5,440.1 L192.5,440.1 L193.5,440.2 L194.5,440.3 L195.5,440.3 L196.5,440.4 L197.5,440.5 L198.5,440.5 L199.5,440.6 L200.5,440.7 L201.5,440.7 L202.5,440.8 L203.5,440.9 L204.5,440.9 L205.5,441 L206.5,441 L207.5,441.1 L208.5,441.1 L209.5,441.2 L210.5,441.2 L211.5,441.3 L212.5,441.3 L213.5,441.3 L214.5,441.4 L215.5,441.4 L216.5,441.4 L217.5,441.4 L218.5,441.4 L219.5,441.4 L220.5,441.5 L221.5,441.5 L222.5,441.6 L223.5,441.7 L224.5,441.8 L225.5,442 L226.5,442.1 L227.5,442.3 L228.5,442.5 L229.5,442.6 L230.5,442.8 L231.5,443.1 L231.5,443.1 L228.5,442.5 L225.5,442 L222.5,441.7 L219.5,441.5 L216.5,441.5 L213.5,441.4 L210.5,441.3 L207.5,441.2 L204.5,441 L201.5,440.9 L198.5,440.7 L195.5,440.5 L192.5,440.4 L189.5,440.2 L186.5,440.1 L183.5,440 L180.5,440 L177.5,440 L174.5,439.9 L171.5,439.8 L168.5,439.7 L165.5,439.5 L162.5,439.4 L159.5,439.1 L156.5,438.9 L153.5,438.6 L150.5,438.3 L147.5,438 L144.5,437.7 L141.5,437.4 L138.5,437 L135.5,436.7 L132.5,436.3 L129.5,435.9 L126.5,435.6 L123.5,435.2 L120.5,434.9 L117.5,434.5 L114.5,434.2 L111.5,433.9 L108.5,433.6 L105.5,433.3 L102.5,433 L99.5,432.8 L96.5,432.6 L93.5,432.4 L90.5,432.2 L87.5,432.1 L84.5,432 L81.5,432 L78.5,432 L77.5,432Z" fill="url(#g7)"/>
<path d="M216.4,441.4 L217.4,441.4 L218.4,441.4 L219.4,441.4 L220.4,441.4 L221.4,441.4 L222.4,441.5 L223.4,441.6 L224.4,441.7 L225.4,441.8 L226.4,442 L227.4,442.1 L228.4,442.3 L229.4,442.5 L230.4,442.7 L231.4,442.9 L232.4,443.1 L233.4,443.3 L234.4,443.5 L235.4,443.7 L236.4,443.9 L237.4,444.1 L238.4,444.3 L239.4,444.5 L240.4,444.7 L241.4,444.9 L242.4,445 L243.4,445.2 L244.4,445.3 L245.4,445.4 L246.4,445.5 L247.4,445.5 L248.4,445.6 L249.4,445.6 L250.4,445.5 L251.4,445.5 L252.4,445.6 L253.4,445.7 L254.4,445.8 L255.4,446 L256.4,446.1 L257.4,446.3 L258.4,446.4 L259.4,446.4 L260.4,446.4 L261.4,446.2 L262.4,445.9 L263.4,445.5 L264.4,444.8 L265.4,443.9 L266.4,442.6 L267.4,441.1 L268.4,439.3 L269.4,437.1 L270.4,434.6 L271.4,431.8 L272.4,428.7 L273.4,425.4 L274.4,421.9 L275.4,418.3 L276.4,414.8 L277.4,411.6 L278.4,408.7 L279.4,406.3 L280.4,404.5 L281.4,403.4 L282.4,402.9 L283.4,403.2 L284.4,404.2 L285.4,405.7 L286.4,407.7 L287.4,410.1 L288.4,413 L289.4,416.1 L290.4,419.4 L291.4,422.8 L292.4,426.2 L293.4,429.5 L294.4,432.7 L295.4,435.7 L296.4,438.5 L297.4,441.2 L298.4,443.7 L299.4,446 L300.4,448 L301.4,449.9 L302.4,451.5 L303.4,452.9 L304.4,454.1 L305.4,455.1 L306.4,455.9 L307.4,456.6 L308.4,457.1 L309.4,457.6 L310.4,457.9 L311.4,458.1 L312.4,458.3 L313.4,458.4 L314.4,458.6 L315.4,458.7 L316.4,458.8 L317.4,458.8 L318.4,458.9 L319.4,459 L320.4,459 L321.4,459.1 L322.4,459.1 L323.4,459.1 L323.4,459.5 L320.4,459.5 L317.4,459.4 L314.4,459.3 L311.4,459.3 L308.4,459.2 L305.4,458.9 L302.4,458.4 L299.4,457.9 L296.4,457.5 L293.4,457.4 L290.4,456.9 L287.4,456 L284.4,455 L281.4,454.1 L278.4,453.3 L275.4,453 L272.4,452.8 L269.4,452.1 L266.4,451.1 L263.4,449.9 L260.4,448.6 L257.4,447.5 L254.4,446.6 L251.4,446.1 L248.4,446 L245.4,445.7 L242.4,445.3 L239.4,444.8 L236.4,444.2 L233.4,443.5 L230.4,442.9 L227.4,442.3 L224.4,441.9 L221.4,441.6 L218.4,441.5 L216.4,441.5Z" fill="url(#g8)"/>
<path d="M85.9,432 L86.9,432.1 L87.9,432.1 L88.9,432.1 L89.9,432.2 L90.9,432.2 L91.9,432.3 L92.9,432.3 L93.9,432.4 L94.9,432.4 L95.9,432.5 L96.9,432.5 L97.9,432.6 L98.9,432.7 L99.9,432.8 L100.9,432.8 L101.9,432.9 L102.9,433 L103.9,433.1 L104.9,433.1 L105.9,433.2 L106.9,433.3 L107.9,433.4 L108.9,433.5 L109.9,433.6 L110.9,433.7 L111.9,433.8 L112.9,433.8 L113.9,433.9 L114.9,434 L115.9,434 L116.9,434 L117.9,434 L118.9,434 L119.9,433.9 L120.9,433.8 L121.9,433.6 L122.9,433.3 L123.9,432.9 L124.9,432.4 L125.9,431.8 L126.9,431.1 L127.9,430.3 L128.9,429.4 L129.9,428.4 L130.9,427.4 L131.9,426.4 L132.9,425.4 L133.9,424.5 L134.9,423.7 L135.9,423.1 L136.9,422.7 L137.9,422.6 L138.9,422.7 L139.9,423.1 L140.9,423.7 L141.9,424.5 L142.9,425.5 L143.9,426.7 L144.9,427.9 L145.9,429.1 L146.9,430.4 L147.9,431.6 L148.9,432.7 L149.9,433.7 L150.9,434.7 L151.9,435.5 L152.9,436.2 L153.9,436.8 L154.9,437.3 L155.9,437.7 L156.9,438 L157.9,438.3 L158.9,438.5 L159.9,438.7 L160.9,438.9 L161.9,439 L162.9,439.2 L163.9,439.3 L164.9,439.3 L165.9,439.4 L166.9,439.5 L167.9,439.6 L168.9,439.6 L169.9,439.7 L170.9,439.7 L171.9,439.8 L172.9,439.8 L173.9,439.8 L174.9,439.9 L175.9,439.9 L176.9,439.9 L177.9,439.9 L178.9,439.9 L179.9,439.9 L180.9,439.9 L181.9,440 L182.9,440 L183.9,440 L184.9,440 L185.9,440 L186.9,440.1 L187.9,440.1 L188.9,440.2 L189.9,440.2 L190.9,440.2 L190.9,440.3 L187.9,440.2 L184.9,440.1 L181.9,440 L178.9,440 L175.9,440 L172.9,439.9 L169.9,439.8 L166.9,439.6 L163.9,439.4 L160.9,439.2 L157.9,439 L154.9,438.7 L151.9,438.5 L148.9,438.2 L145.9,437.8 L142.9,437.5 L139.9,437.2 L136.9,436.8 L133.9,436.5 L130.9,436.1 L127.9,435.7 L124.9,435.4 L121.9,435 L118.9,434.7 L115.9,434.4 L112.9,434 L109.9,433.7 L106.9,433.4 L103.9,433.2 L100.9,432.9 L97.9,432.7 L94.9,432.5 L91.9,432.3 L88.9,432.2 L85.9,432.1 L85.9,432.1Z" fill="url(#g9)"/>
<path d="M217.7,441.4 L218.7,441.4 L219.7,441.4 L220.7,441.4 L221.7,441.5 L222.7,441.5 L223.7,441.6 L224.7,441.8 L225.7,441.9 L226.7,442 L227.7,442.2 L228.7,442.4 L229.7,442.6 L230.7,442.7 L231.7,442.9 L232.7,443.1 L233.7,443.3 L234.7,443.6 L235.7,443.8 L236.7,443.9 L237.7,444.1 L238.7,444.3 L239.7,444.5 L240.7,444.6 L241.7,444.7 L242.7,444.8 L243.7,444.8 L244.7,444.8 L245.7,444.7 L246.7,444.5 L247.7,444.1 L248.7,443.5 L249.7,442.8 L250.7,441.8 L251.7,440.5 L252.7,439 L253.7,437.3 L254.7,435.2 L255.7,432.8 L256.7,430.2 L257.7,427.4 L258.7,424.5 L259.7,421.6 L260.7,418.9 L261.7,416.5 L262.7,414.6 L263.7,413.3 L264.7,412.8 L265.7,413.1 L266.7,414.3 L267.7,416.2 L268.7,418.7 L269.7,421.7 L270.7,425.1 L271.7,428.5 L272.7,432 L273.7,435.3 L274.7,438.3 L275.7,441.1 L276.7,443.5 L277.7,445.7 L278.7,447.5 L279.7,449.1 L280.7,450.5 L281.7,451.6 L282.7,452.5 L283.7,453.3 L284.7,454 L285.7,454.6 L286.7,455.1 L287.7,455.6 L288.7,456 L289.7,456.3 L290.7,456.6 L291.7,456.8 L292.7,457 L293.7,457.2 L294.7,457.2 L295.7,457.3 L296.7,457.3 L297.7,457.4 L298.7,457.6 L299.7,457.7 L300.7,457.9 L301.7,458.1 L302.7,458.3 L303.7,458.5 L304.7,458.6 L305.7,458.8 L306.7,458.9 L307.7,459.1 L308.7,459.1 L309.7,459.2 L310.7,459.2 L311.7,459.2 L312.7,459.2 L312.7,459.3 L309.7,459.3 L306.7,459.1 L303.7,458.6 L300.7,458.1 L297.7,457.7 L294.7,457.5 L291.7,457.2 L288.7,456.4 L285.7,455.5 L282.7,454.5 L279.7,453.6 L276.7,453.1 L273.7,452.9 L270.7,452.4 L267.7,451.6 L264.7,450.4 L261.7,449.2 L258.7,448 L255.7,446.9 L252.7,446.2 L249.7,446 L246.7,445.9 L243.7,445.5 L240.7,445 L237.7,444.4 L234.7,443.8 L231.7,443.1 L228.7,442.5 L225.7,442 L222.7,441.7 L219.7,441.5 L217.7,441.5Z" fill="url(#g10)"/>
<path d="M50.6,431.3 L51.6,431.3 L52.6,431.4 L53.6,431.4 L54.6,431.4 L55.6,431.4 L56.6,431.5 L57.6,431.5 L58.6,431.5 L59.6,431.6 L60.6,431.6 L61.6,431.6 L62.6,431.7 L63.6,431.7 L64.6,431.7 L65.6,431.7 L66.6,431.8 L67.6,431.8 L68.6,431.8 L69.6,431.8 L70.6,431.9 L71.6,431.9 L72.6,431.9 L73.6,431.9 L74.6,431.9 L75.6,431.9 L76.6,431.9 L77.6,431.9 L78.6,431.9 L79.6,431.9 L80.6,431.9 L81.6,431.9 L82.6,431.9 L83.6,431.9 L84.6,431.9 L85.6,431.9 L86.6,431.9 L87.6,431.9 L88.6,431.9 L89.6,431.9 L90.6,431.8 L91.6,431.8 L92.6,431.7 L93.6,431.6 L94.6,431.5 L95.6,431.4 L96.6,431.2 L97.6,431 L98.6,430.7 L99.6,430.4 L100.6,430.1 L101.6,429.7 L102.6,429.3 L103.6,428.9 L104.6,428.5 L105.6,428.1 L106.6,427.7 L107.6,427.3 L108.6,426.9 L109.6,426.6 L110.6,426.4 L111.6,426.3 L112.6,426.2 L113.6,426.3 L114.6,426.5 L115.6,426.7 L116.6,427.1 L117.6,427.5 L118.6,428 L119.6,428.6 L120.6,429.2 L121.6,429.8 L122.6,430.4 L123.6,431 L124.6,431.7 L125.6,432.2 L126.6,432.8 L127.6,433.3 L128.6,433.8 L129.6,434.3 L130.6,434.7 L131.6,435 L132.6,435.4 L133.6,435.7 L134.6,435.9 L135.6,436.2 L136.6,436.4 L137.6,436.6 L138.6,436.8 L139.6,436.9 L140.6,437.1 L141.6,437.2 L142.6,437.3 L143.6,437.5 L144.6,437.6 L145.6,437.7 L146.6,437.8 L147.6,438 L148.6,438.1 L149.6,438.2 L150.6,438.3 L151.6,438.4 L152.6,438.5 L153.6,438.6 L154.6,438.7 L155.6,438.8 L156.6,438.8 L157.6,438.9 L158.6,439 L159.6,439.1 L160.6,439.2 L161.6,439.3 L162.6,439.3 L163.6,439.4 L164.6,439.5 L165.6,439.5 L166.6,439.6 L167.6,439.6 L168.6,439.7 L169.6,439.7 L170.6,439.8 L171.6,439.8 L172.6,439.9 L173.6,439.9 L174.6,439.9 L175.6,439.9 L176.6,440 L176.6,440 L173.6,439.9 L170.6,439.8 L167.6,439.7 L164.6,439.5 L161.6,439.3 L158.6,439.1 L155.6,438.8 L152.6,438.5 L149.6,438.2 L146.6,437.9 L143.6,437.6 L140.6,437.3 L137.6,436.9 L134.6,436.6 L131.6,436.2 L128.6,435.8 L125.6,435.5 L122.6,435.1 L119.6,434.8 L116.6,434.4 L113.6,434.1 L110.6,433.8 L107.6,433.5 L104.6,433.2 L101.6,433 L98.6,432.7 L95.6,432.5 L92.6,432.3 L89.6,432.2 L86.6,432.1 L83.6,432 L80.6,432 L77.6,432 L74.6,432 L71.6,431.9 L68.6,431.9 L65.6,431.8 L62.6,431.7 L59.6,431.6 L56.6,431.5 L53.6,431.4 L50.6,431.3 L50.6,431.3Z" fill="url(#g11)"/>
<path d="M180.5,440 L181.5,440 L182.5,440 L183.5,440 L184.5,440 L185.5,440 L186.5,440 L187.5,440.1 L188.5,440.1 L189.5,440.2 L190.5,440.2 L191.5,440.2 L192.5,440.3 L193.5,440.3 L194.5,440.4 L195.5,440.4 L196.5,440.5 L197.5,440.5 L198.5,440.6 L199.5,440.6 L200.5,440.7 L201.5,440.8 L202.5,440.8 L203.5,440.9 L204.5,440.9 L205.5,441 L206.5,441 L207.5,441 L208.5,441.1 L209.5,441.1 L210.5,441.1 L211.5,441.1 L212.5,441.2 L213.5,441.2 L214.5,441.1 L215.5,441.1 L216.5,441.1 L217.5,441 L218.5,440.9 L219.5,440.7 L220.5,440.6 L221.5,440.4 L222.5,440.2 L223.5,440 L224.5,439.7 L225.5,439.3 L226.5,438.9 L227.5,438.4 L228.5,437.8 L229.5,437.1 L230.5,436.3 L231.5,435.5 L232.5,434.6 L233.5,433.6 L234.5,432.6 L235.5,431.6 L236.5,430.7 L237.5,429.7 L238.5,428.9 L239.5,428.2 L240.5,427.6 L241.5,427.2 L242.5,427.1 L243.5,427.1 L244.5,427.4 L245.5,427.8 L246.5,428.5 L247.5,429.3 L248.5,430.3 L249.5,431.4 L250.5,432.5 L251.5,433.8 L252.5,435.1 L253.5,436.5 L254.5,437.9 L255.5,439.3 L256.5,440.6 L257.5,441.9 L258.5,443.1 L259.5,444.3 L260.5,445.4 L261.5,446.4 L262.5,447.3 L263.5,448.1 L264.5,448.9 L265.5,449.6 L266.5,450.2 L267.5,450.7 L268.5,451.2 L269.5,451.6 L270.5,452 L271.5,452.3 L272.5,452.5 L273.5,452.7 L274.5,452.8 L275.5,452.8 L276.5,452.9 L277.5,453 L278.5,453.2 L279.5,453.4 L280.5,453.7 L281.5,454 L282.5,454.3 L283.5,454.6 L284.5,455 L285.5,455.3 L286.5,455.6 L287.5,456 L288.5,456.3 L289.5,456.6 L290.5,456.8 L291.5,457 L292.5,457.2 L293.5,457.3 L294.5,457.4 L295.5,457.4 L296.5,457.5 L297.5,457.6 L298.5,457.7 L299.5,457.8 L300.5,458 L301.5,458.2 L302.5,458.3 L303.5,458.5 L304.5,458.7 L305.5,458.9 L306.5,459 L306.5,459.1 L303.5,458.6 L300.5,458 L297.5,457.6 L294.5,457.5 L291.5,457.1 L288.5,456.4 L285.5,455.4 L282.5,454.4 L279.5,453.6 L276.5,453.1 L273.5,452.9 L270.5,452.4 L267.5,451.5 L264.5,450.3 L261.5,449.1 L258.5,447.9 L255.5,446.9 L252.5,446.2 L249.5,446 L246.5,445.8 L243.5,445.5 L240.5,445 L237.5,444.4 L234.5,443.8 L231.5,443.1 L228.5,442.5 L225.5,442 L222.5,441.7 L219.5,441.5 L216.5,441.5 L213.5,441.4 L210.5,441.3 L207.5,441.2 L204.5,441 L201.5,440.9 L198.5,440.7 L195.5,440.5 L192.5,440.4 L189.5,440.2 L186.5,440.1 L183.5,440 L180.5,440 L180.5,440Z" fill="url(#g12)"/>
<path d="M33.6,431 L34.6,431 L35.6,431 L36.6,431 L37.6,431 L38.6,431 L39.6,431 L40.6,431 L41.6,431 L42.6,431.1 L43.6,431.1 L44.6,431.1 L45.6,431.1 L46.6,431.1 L47.6,431.2 L48.6,431.2 L49.6,431.2 L50.6,431.2 L51.6,431.3 L52.6,431.3 L53.6,431.3 L54.6,431.3 L55.6,431.4 L56.6,431.4 L57.6,431.4 L58.6,431.4 L59.6,431.4 L60.6,431.4 L61.6,431.4 L62.6,431.4 L63.6,431.3 L64.6,431.3 L65.6,431.2 L66.6,431.1 L67.6,431 L68.6,430.8 L69.6,430.6 L70.6,430.4 L71.6,430.2 L72.6,429.9 L73.6,429.6 L74.6,429.2 L75.6,428.9 L76.6,428.5 L77.6,428.1 L78.6,427.6 L79.6,427.2 L80.6,426.8 L81.6,426.3 L82.6,426 L83.6,425.6 L84.6,425.3 L85.6,425.1 L86.6,424.9 L87.6,424.8 L88.6,424.8 L89.6,424.9 L90.6,425 L91.6,425.2 L92.6,425.5 L93.6,425.9 L94.6,426.3 L95.6,426.7 L96.6,427.2 L97.6,427.7 L98.6,428.2 L99.6,428.7 L100.6,429.2 L101.6,429.7 L102.6,430.2 L103.6,430.6 L104.6,431 L105.6,431.4 L106.6,431.8 L107.6,432.2 L108.6,432.5 L109.6,432.7 L110.6,433 L111.6,433.2 L112.6,433.5 L113.6,433.7 L114.6,433.8 L115.6,434 L116.6,434.2 L117.6,434.3 L118.6,434.5 L119.6,434.6 L120.6,434.8 L121.6,434.9 L122.6,435 L123.6,435.1 L124.6,435.3 L125.6,435.4 L126.6,435.5 L127.6,435.6 L128.6,435.8 L129.6,435.9 L130.6,436 L131.6,436.1 L132.6,436.3 L133.6,436.4 L134.6,436.5 L135.6,436.6 L136.6,436.7 L137.6,436.9 L138.6,437 L139.6,437.1 L140.6,437.2 L141.6,437.3 L142.6,437.4 L143.6,437.6 L144.6,437.7 L145.6,437.8 L146.6,437.9 L147.6,438 L148.6,438.1 L149.6,438.2 L150.6,438.3 L151.6,438.4 L152.6,438.5 L153.6,438.6 L154.6,438.7 L155.6,438.8 L156.6,438.9 L157.6,439 L158.6,439 L158.6,439.1 L155.6,438.8 L152.6,438.5 L149.6,438.2 L146.6,437.9 L143.6,437.6 L140.6,437.3 L137.6,436.9 L134.6,436.6 L131.6,436.2 L128.6,435.8 L125.6,435.5 L122.6,435.1 L119.6,434.8 L116.6,434.4 L113.6,434.1 L110.6,433.8 L107.6,433.5 L104.6,433.2 L101.6,433 L98.6,432.7 L95.6,432.5 L92.6,432.3 L89.6,432.2 L86.6,432.1 L83.6,432 L80.6,432 L77.6,432 L74.6,432 L71.6,431.9 L68.6,431.9 L65.6,431.8 L62.6,431.7 L59.6,431.6 L56.6,431.5 L53.6,431.4 L50.6,431.3 L47.6,431.2 L44.6,431.2 L41.6,431.1 L38.6,431 L35.6,431 L33.6,431Z" fill="url(#g13)"/>
<path d="M142.4,437.4 L143.4,437.5 L144.4,437.7 L145.4,437.8 L146.4,437.9 L147.4,438 L148.4,438.1 L149.4,438.2 L150.4,438.3 L151.4,438.4 L152.4,438.5 L153.4,438.6 L154.4,438.7 L155.4,438.7 L156.4,438.8 L157.4,438.9 L158.4,439 L159.4,439.1 L160.4,439.2 L161.4,439.2 L162.4,439.3 L163.4,439.4 L164.4,439.4 L165.4,439.5 L166.4,439.5 L167.4,439.6 L168.4,439.6 L169.4,439.7 L170.4,439.7 L171.4,439.8 L172.4,439.8 L173.4,439.8 L174.4,439.8 L175.4,439.9 L176.4,439.9 L177.4,439.9 L178.4,439.9 L179.4,439.9 L180.4,439.9 L181.4,439.9 L182.4,439.9 L183.4,439.9 L184.4,439.9 L185.4,439.9 L186.4,439.9 L187.4,439.9 L188.4,439.9 L189.4,439.8 L190.4,439.8 L191.4,439.8 L192.4,439.7 L193.4,439.7 L194.4,439.6 L195.4,439.5 L196.4,439.3 L197.4,439.2 L198.4,439 L199.4,438.7 L200.4,438.5 L201.4,438.2 L202.4,437.8 L203.4,437.5 L204.4,437 L205.4,436.6 L206.4,436.2 L207.4,435.7 L208.4,435.2 L209.4,434.7 L210.4,434.2 L211.4,433.7 L212.4,433.3 L213.4,432.8 L214.4,432.5 L215.4,432.1 L216.4,431.9 L217.4,431.7 L218.4,431.5 L219.4,431.5 L220.4,431.6 L221.4,431.7 L222.4,432 L223.4,432.4 L224.4,432.9 L225.4,433.4 L226.4,434 L227.4,434.7 L228.4,435.4 L229.4,436.1 L230.4,436.8 L231.4,437.6 L232.4,438.3 L233.4,439 L234.4,439.7 L235.4,440.4 L236.4,441.1 L237.4,441.7 L238.4,442.2 L239.4,442.8 L240.4,443.2 L241.4,443.7 L242.4,444.1 L243.4,444.4 L244.4,444.7 L245.4,445 L246.4,445.2 L247.4,445.4 L248.4,445.5 L249.4,445.6 L250.4,445.7 L251.4,445.8 L252.4,445.9 L253.4,446.2 L254.4,446.4 L255.4,446.7 L256.4,447 L257.4,447.3 L258.4,447.7 L259.4,448.1 L260.4,448.5 L261.4,448.9 L262.4,449.4 L263.4,449.8 L264.4,450.2 L265.4,450.6 L266.4,451 L267.4,451.4 L268.4,451.7 L269.4,452 L270.4,452.3 L271.4,452.5 L272.4,452.7 L273.4,452.9 L274.4,452.9 L275.4,453 L276.4,453 L277.4,453.1 L278.4,453.3 L279.4,453.5 L280.4,453.8 L281.4,454 L282.4,454.4 L283.4,454.7 L284.4,455 L285.4,455.3 L286.4,455.7 L287.4,456 L288.4,456.3 L289.4,456.6 L290.4,456.9 L291.4,457.1 L292.4,457.3 L293.4,457.4 L294.4,457.5 L295.4,457.5 L296.4,457.5 L296.4,457.5 L293.4,457.4 L290.4,456.9 L287.4,456 L284.4,455 L281.4,454.1 L278.4,453.3 L275.4,453 L272.4,452.8 L269.4,452.1 L266.4,451.1 L263.4,449.9 L260.4,448.6 L257.4,447.5 L254.4,446.6 L251.4,446.1 L248.4,446 L245.4,445.7 L242.4,445.3 L239.4,444.8 L236.4,444.2 L233.4,443.5 L230.4,442.9 L227.4,442.3 L224.4,441.9 L221.4,441.6 L218.4,441.5 L215.4,441.5 L212.4,441.4 L209.4,441.3 L206.4,441.1 L203.4,441 L200.4,440.8 L197.4,440.6 L194.4,440.5 L191.4,440.3 L188.4,440.2 L185.4,440.1 L182.4,440 L179.4,440 L176.4,440 L173.4,439.9 L170.4,439.8 L167.4,439.7 L164.4,439.5 L161.4,439.3 L158.4,439 L155.4,438.8 L152.4,438.5 L149.4,438.2 L146.4,437.9 L143.4,437.6 L142.4,437.5Z" fill="url(#g14)"/>
<path d="M78.9,546.4 L79.9,546.4 L80.9,546.4 L81.9,546.4 L82.9,546.4 L83.9,546.4 L84.9,546.4 L85.9,546.5 L86.9,546.5 L87.9,546.5 L88.9,546.6 L89.9,546.6 L90.9,546.6 L91.9,546.7 L92.9,546.7 L93.9,546.8 L94.9,546.9 L95.9,546.9 L96.9,547 L97.9,547 L98.9,547.1 L99.9,547.2 L100.9,547.3 L101.9,547.3 L102.9,547.4 L103.9,547.5 L104.9,547.6 L105.9,547.7 L106.9,547.8 L107.9,547.9 L108.9,548 L109.9,548.1 L110.9,548.2 L111.9,548.3 L112.9,548.4 L113.9,548.5 L114.9,548.6 L115.9,548.7 L116.9,548.8 L117.9,548.9 L118.9,549 L119.9,549.1 L120.9,549.2 L121.9,549.3 L122.9,549.5 L123.9,549.6 L124.9,549.7 L125.9,549.8 L126.9,549.9 L127.9,550 L128.9,550.1 L129.9,550.2 L130.9,550.3 L131.9,550.3 L132.9,550.4 L133.9,550.4 L134.9,550.4 L135.9,550.4 L136.9,550.3 L137.9,550.2 L138.9,550 L139.9,549.7 L140.9,549.4 L141.9,548.9 L142.9,548.4 L143.9,547.8 L144.9,547.1 L145.9,546.4 L146.9,545.6 L147.9,544.8 L148.9,543.9 L149.9,543.1 L150.9,542.3 L151.9,541.7 L152.9,541.1 L153.9,540.7 L154.9,540.5 L155.9,540.5 L156.9,540.6 L157.9,540.9 L158.9,541.2 L159.9,541.7 L160.9,542.2 L161.9,542.8 L162.9,543.4 L163.9,544.1 L164.9,544.9 L165.9,545.6 L166.9,546.3 L167.9,547.1 L168.9,547.8 L169.9,548.5 L170.9,549.1 L171.9,549.8 L172.9,550.3 L173.9,550.9 L174.9,551.4 L175.9,551.8 L176.9,552.2 L177.9,552.5 L178.9,552.8 L179.9,553.1 L180.9,553.3 L181.9,553.4 L182.9,553.6 L183.9,553.7 L184.9,553.9 L185.9,554 L186.9,554 L187.9,554.1 L188.9,554.2 L189.9,554.2 L190.9,554.3 L191.9,554.3 L192.9,554.4 L193.9,554.4 L194.9,554.4 L195.9,554.5 L196.9,554.5 L197.9,554.5 L198.9,554.6 L199.9,554.6 L200.9,554.6 L201.9,554.7 L202.9,554.7 L203.9,554.7 L204.9,554.7 L205.9,554.8 L206.9,554.8 L207.9,554.8 L208.9,554.8 L209.9,554.8 L210.9,554.9 L211.9,554.9 L212.9,554.9 L213.9,554.9 L214.9,554.9 L215.9,554.9 L216.9,554.9 L217.9,554.9 L218.9,554.9 L219.9,555 L220.9,555 L221.9,555 L222.9,555.1 L223.9,555.2 L224.9,555.2 L225.9,555.3 L226.9,555.4 L227.9,555.6 L228.9,555.7 L229.9,555.8 L230.9,556 L231.9,556.2 L232.9,556.3 L232.9,556.4 L229.9,555.9 L226.9,555.5 L223.9,555.2 L220.9,555 L217.9,555 L214.9,555 L211.9,554.9 L208.9,554.9 L205.9,554.8 L202.9,554.8 L199.9,554.7 L196.9,554.6 L193.9,554.6 L190.9,554.5 L187.9,554.5 L184.9,554.4 L181.9,554.4 L178.9,554.4 L175.9,554.4 L172.9,554.3 L169.9,554.2 L166.9,554 L163.9,553.8 L160.9,553.6 L157.9,553.4 L154.9,553.1 L151.9,552.9 L148.9,552.6 L145.9,552.2 L142.9,551.9 L139.9,551.6 L136.9,551.2 L133.9,550.9 L130.9,550.5 L127.9,550.1 L124.9,549.8 L121.9,549.4 L118.9,549.1 L115.9,548.8 L112.9,548.4 L109.9,548.1 L106.9,547.8 L103.9,547.6 L100.9,547.3 L97.9,547.1 L94.9,546.9 L91.9,546.7 L88.9,546.6 L85.9,546.5 L82.9,546.4 L79.9,546.4 L78.9,546.4Z" fill="url(#g15)"/>
<path d="M212.9,554.9 L213.9,554.9 L214.9,554.9 L215.9,554.9 L216.9,554.9 L217.9,554.9 L218.9,554.9 L219.9,554.9 L220.9,555 L221.9,555 L222.9,555 L223.9,555.1 L224.9,555.2 L225.9,555.3 L226.9,555.4 L227.9,555.5 L228.9,555.6 L229.9,555.8 L230.9,555.9 L231.9,556.1 L232.9,556.3 L233.9,556.4 L234.9,556.6 L235.9,556.8 L236.9,557 L237.9,557.2 L238.9,557.4 L239.9,557.6 L240.9,557.8 L241.9,558 L242.9,558.2 L243.9,558.4 L244.9,558.6 L245.9,558.7 L246.9,558.9 L247.9,559.1 L248.9,559.3 L249.9,559.5 L250.9,559.6 L251.9,559.8 L252.9,559.9 L253.9,560 L254.9,560.1 L255.9,560.1 L256.9,560.1 L257.9,560.1 L258.9,560 L259.9,559.9 L260.9,559.6 L261.9,559.3 L262.9,558.9 L263.9,558.3 L264.9,557.7 L265.9,556.9 L266.9,556 L267.9,555.1 L268.9,554.1 L269.9,553.1 L270.9,552.1 L271.9,551 L272.9,549.9 L273.9,548.8 L274.9,547.6 L275.9,546.5 L276.9,545.5 L277.9,544.5 L278.9,543.7 L279.9,543 L280.9,542.5 L281.9,542.2 L282.9,542.1 L283.9,542.3 L284.9,542.8 L285.9,543.6 L286.9,544.7 L287.9,546.1 L288.9,547.6 L289.9,549.4 L290.9,551.2 L291.9,553.1 L292.9,555.1 L293.9,557.1 L294.9,559 L295.9,560.9 L296.9,562.7 L297.9,564.4 L298.9,565.9 L299.9,567.3 L300.9,568.5 L301.9,569.6 L302.9,570.5 L303.9,571.3 L304.9,571.9 L305.9,572.3 L306.9,572.7 L307.9,573.1 L308.9,573.4 L309.9,573.6 L310.9,573.9 L311.9,574.1 L312.9,574.3 L313.9,574.4 L314.9,574.6 L315.9,574.7 L316.9,574.9 L317.9,575 L318.9,575.1 L319.9,575.2 L320.9,575.2 L321.9,575.3 L322.9,575.4 L323.9,575.4 L323.9,575.6 L320.9,575.5 L317.9,575.3 L314.9,575 L311.9,574.8 L308.9,574.6 L305.9,574.5 L302.9,574.3 L299.9,573.6 L296.9,572.5 L293.9,571.2 L290.9,569.9 L287.9,568.8 L284.9,568.1 L281.9,567.9 L278.9,567 L275.9,565.5 L272.9,563.8 L269.9,562.4 L266.9,561.6 L263.9,561.5 L260.9,561.3 L257.9,561 L254.9,560.6 L251.9,560.1 L248.9,559.5 L245.9,559 L242.9,558.3 L239.9,557.7 L236.9,557.1 L233.9,556.5 L230.9,556 L227.9,555.6 L224.9,555.3 L221.9,555.1 L218.9,555 L215.9,555 L212.9,555 L212.9,555Z" fill="url(#g16)"/>
<path d="M80,546.3 L81,546.3 L82,546.3 L83,546.4 L84,546.4 L85,546.4 L86,546.4 L87,546.4 L88,546.5 L89,546.5 L90,546.5 L91,546.6 L92,546.6 L93,546.7 L94,546.7 L95,546.8 L96,546.8 L97,546.9 L98,547 L99,547 L100,547.1 L101,547.2 L102,547.3 L103,547.3 L104,547.4 L105,547.5 L106,547.6 L107,547.6 L108,547.7 L109,547.8 L110,547.9 L111,547.9 L112,548 L113,548 L114,548.1 L115,548.1 L116,548 L117,548 L118,547.9 L119,547.7 L120,547.4 L121,547.1 L122,546.7 L123,546.2 L124,545.5 L125,544.8 L126,543.9 L127,542.9 L128,541.8 L129,540.5 L130,539.3 L131,537.9 L132,536.6 L133,535.3 L134,534.1 L135,533 L136,532 L137,531.3 L138,530.9 L139,530.7 L140,530.8 L141,531.2 L142,531.9 L143,532.8 L144,534 L145,535.3 L146,536.8 L147,538.3 L148,539.9 L149,541.4 L150,542.9 L151,544.4 L152,545.7 L153,546.9 L154,548 L155,549 L156,549.8 L157,550.6 L158,551.2 L159,551.7 L160,552.1 L161,552.5 L162,552.8 L163,553.1 L164,553.3 L165,553.4 L166,553.6 L167,553.7 L168,553.8 L169,553.9 L170,553.9 L171,554 L172,554.1 L173,554.1 L174,554.2 L175,554.2 L176,554.2 L177,554.2 L178,554.3 L179,554.3 L180,554.3 L181,554.3 L182,554.3 L183,554.3 L184,554.3 L185,554.3 L186,554.3 L187,554.4 L188,554.4 L189,554.4 L190,554.4 L191,554.4 L192,554.5 L193,554.5 L194,554.5 L195,554.5 L196,554.6 L197,554.6 L198,554.6 L199,554.6 L199,554.7 L196,554.6 L193,554.6 L190,554.5 L187,554.5 L184,554.4 L181,554.4 L178,554.4 L175,554.3 L172,554.3 L169,554.1 L166,554 L163,553.8 L160,553.6 L157,553.3 L154,553.1 L151,552.8 L148,552.5 L145,552.1 L142,551.8 L139,551.5 L136,551.1 L133,550.8 L130,550.4 L127,550 L124,549.7 L121,549.3 L118,549 L115,548.7 L112,548.3 L109,548 L106,547.7 L103,547.5 L100,547.2 L97,547 L94,546.8 L91,546.7 L88,546.5 L85,546.5 L82,546.4 L80,546.4Z" fill="url(#g17)"/>
<path d="M207,554.7 L208,554.7 L209,554.8 L210,554.8 L211,554.8 L212,554.8 L213,554.8 L214,554.8 L215,554.8 L216,554.8 L217,554.8 L218,554.8 L219,554.8 L220,554.8 L221,554.8 L222,554.8 L223,554.9 L224,555 L225,555 L226,555.1 L227,555.2 L228,555.3 L229,555.4 L230,555.6 L231,555.7 L232,555.8 L233,556 L234,556.1 L235,556.3 L236,556.4 L237,556.5 L238,556.7 L239,556.8 L240,556.8 L241,556.8 L242,556.8 L243,556.7 L244,556.5 L245,556.2 L246,555.7 L247,555.1 L248,554.3 L249,553.3 L250,552 L251,550.5 L252,548.7 L253,546.6 L254,544.2 L255,541.5 L256,538.7 L257,535.6 L258,532.5 L259,529.3 L260,526.2 L261,523.2 L262,520.5 L263,518.2 L264,516.3 L265,515 L266,514.4 L267,514.4 L268,515.3 L269,516.9 L270,519.2 L271,522 L272,525.3 L273,528.9 L274,532.6 L275,536.5 L276,540.4 L277,544.1 L278,547.6 L279,550.8 L280,553.8 L281,556.3 L282,558.5 L283,560.3 L284,561.8 L285,563.1 L286,564.3 L287,565.3 L288,566.3 L289,567.1 L290,567.9 L291,568.6 L292,569.3 L293,569.9 L294,570.5 L295,571 L296,571.5 L297,572 L298,572.5 L299,572.9 L300,573.2 L301,573.6 L302,573.8 L303,574 L304,574.1 L305,574.2 L306,574.2 L307,574.3 L308,574.3 L309,574.4 L310,574.4 L311,574.5 L312,574.6 L313,574.7 L314,574.8 L315,574.9 L316,574.9 L317,575 L318,575.1 L319,575.2 L320,575.3 L321,575.3 L322,575.4 L323,575.4 L324,575.5 L324,575.6 L321,575.5 L318,575.3 L315,575 L312,574.8 L309,574.6 L306,574.5 L303,574.3 L300,573.6 L297,572.5 L294,571.2 L291,570 L288,568.9 L285,568.2 L282,567.9 L279,567.1 L276,565.6 L273,563.9 L270,562.4 L267,561.6 L264,561.5 L261,561.3 L258,561 L255,560.6 L252,560.1 L249,559.6 L246,559 L243,558.4 L240,557.7 L237,557.1 L234,556.6 L231,556.1 L228,555.6 L225,555.3 L222,555.1 L219,555 L216,555 L213,555 L210,554.9 L207,554.9 L207,554.9Z" fill="url(#g18)"/>
<path d="M54.1,545.9 L55.1,545.9 L56.1,545.9 L57.1,545.9 L58.1,546 L59.1,546 L60.1,546 L61.1,546 L62.1,546.1 L63.1,546.1 L64.1,546.1 L65.1,546.2 L66.1,546.2 L67.1,546.2 L68.1,546.2 L69.1,546.2 L70.1,546.3 L71.1,546.3 L72.1,546.3 L73.1,546.3 L74.1,546.3 L75.1,546.3 L76.1,546.3 L77.1,546.3 L78.1,546.3 L79.1,546.3 L80.1,546.3 L81.1,546.3 L82.1,546.3 L83.1,546.3 L84.1,546.3 L85.1,546.3 L86.1,546.3 L87.1,546.3 L88.1,546.3 L89.1,546.3 L90.1,546.3 L91.1,546.3 L92.1,546.2 L93.1,546.2 L94.1,546.1 L95.1,546 L96.1,545.8 L97.1,545.6 L98.1,545.4 L99.1,545.1 L100.1,544.7 L101.1,544.3 L102.1,543.9 L103.1,543.4 L104.1,542.9 L105.1,542.4 L106.1,541.9 L107.1,541.4 L108.1,540.9 L109.1,540.5 L110.1,540.2 L111.1,539.9 L112.1,539.8 L113.1,539.8 L114.1,539.9 L115.1,540.1 L116.1,540.5 L117.1,540.9 L118.1,541.5 L119.1,542.1 L120.1,542.8 L121.1,543.5 L122.1,544.2 L123.1,544.9 L124.1,545.6 L125.1,546.3 L126.1,546.9 L127.1,547.5 L128.1,548.1 L129.1,548.6 L130.1,549 L131.1,549.4 L132.1,549.7 L133.1,550 L134.1,550.3 L135.1,550.5 L136.1,550.7 L137.1,550.9 L138.1,551.1 L139.1,551.3 L140.1,551.4 L141.1,551.6 L142.1,551.7 L143.1,551.8 L144.1,552 L145.1,552.1 L146.1,552.2 L147.1,552.3 L148.1,552.4 L149.1,552.5 L150.1,552.6 L151.1,552.7 L152.1,552.8 L153.1,552.9 L154.1,553 L155.1,553.1 L156.1,553.2 L157.1,553.3 L158.1,553.4 L159.1,553.5 L160.1,553.5 L161.1,553.6 L162.1,553.7 L163.1,553.8 L164.1,553.8 L165.1,553.9 L166.1,553.9 L167.1,554 L168.1,554.1 L169.1,554.1 L170.1,554.2 L171.1,554.2 L172.1,554.2 L173.1,554.3 L173.1,554.3 L170.1,554.2 L167.1,554 L164.1,553.9 L161.1,553.7 L158.1,553.4 L155.1,553.2 L152.1,552.9 L149.1,552.6 L146.1,552.3 L143.1,551.9 L140.1,551.6 L137.1,551.2 L134.1,550.9 L131.1,550.5 L128.1,550.2 L125.1,549.8 L122.1,549.5 L119.1,549.1 L116.1,548.8 L113.1,548.4 L110.1,548.1 L107.1,547.8 L104.1,547.6 L101.1,547.3 L98.1,547.1 L95.1,546.9 L92.1,546.7 L89.1,546.6 L86.1,546.5 L83.1,546.4 L80.1,546.4 L77.1,546.4 L74.1,546.4 L71.1,546.3 L68.1,546.3 L65.1,546.2 L62.1,546.1 L59.1,546 L56.1,545.9 L54.1,545.9Z" fill="url(#g19)"/>
<path d="M179.4,554.3 L180.4,554.3 L181.4,554.3 L182.4,554.3 L183.4,554.4 L184.4,554.4 L185.4,554.4 L186.4,554.4 L187.4,554.4 L188.4,554.4 L189.4,554.4 L190.4,554.4 L191.4,554.4 L192.4,554.5 L193.4,554.5 L194.4,554.5 L195.4,554.5 L196.4,554.5 L197.4,554.6 L198.4,554.6 L199.4,554.6 L200.4,554.6 L201.4,554.6 L202.4,554.6 L203.4,554.7 L204.4,554.7 L205.4,554.7 L206.4,554.7 L207.4,554.7 L208.4,554.7 L209.4,554.7 L210.4,554.7 L211.4,554.7 L212.4,554.7 L213.4,554.7 L214.4,554.6 L215.4,554.5 L216.4,554.5 L217.4,554.4 L218.4,554.2 L219.4,554 L220.4,553.8 L221.4,553.6 L222.4,553.2 L223.4,552.9 L224.4,552.5 L225.4,552 L226.4,551.4 L227.4,550.7 L228.4,549.9 L229.4,549.1 L230.4,548.2 L231.4,547.2 L232.4,546.1 L233.4,545.1 L234.4,544 L235.4,543 L236.4,542 L237.4,541.1 L238.4,540.4 L239.4,539.8 L240.4,539.5 L241.4,539.3 L242.4,539.4 L243.4,539.7 L244.4,540.3 L245.4,541.1 L246.4,542.1 L247.4,543.2 L248.4,544.5 L249.4,545.8 L250.4,547.2 L251.4,548.6 L252.4,550 L253.4,551.4 L254.4,552.7 L255.4,553.9 L256.4,555.1 L257.4,556.1 L258.4,557 L259.4,557.8 L260.4,558.5 L261.4,559.1 L262.4,559.5 L263.4,559.9 L264.4,560.3 L265.4,560.5 L266.4,560.7 L267.4,561 L268.4,561.3 L269.4,561.7 L270.4,562.2 L271.4,562.7 L272.4,563.3 L273.4,563.9 L274.4,564.5 L275.4,565.1 L276.4,565.6 L277.4,566.2 L278.4,566.7 L279.4,567.1 L280.4,567.5 L281.4,567.7 L282.4,567.9 L283.4,567.9 L284.4,568 L285.4,568.1 L286.4,568.3 L287.4,568.6 L288.4,568.9 L289.4,569.2 L290.4,569.6 L291.4,570 L292.4,570.5 L293.4,570.9 L294.4,571.4 L295.4,571.8 L296.4,572.2 L297.4,572.6 L298.4,573 L299.4,573.4 L300.4,573.7 L301.4,574 L302.4,574.2 L303.4,574.3 L304.4,574.4 L305.4,574.4 L305.4,574.5 L302.4,574.2 L299.4,573.5 L296.4,572.3 L293.4,571 L290.4,569.7 L287.4,568.7 L284.4,568.1 L281.4,567.8 L278.4,566.8 L275.4,565.3 L272.4,563.6 L269.4,562.2 L266.4,561.5 L263.4,561.4 L260.4,561.2 L257.4,560.9 L254.4,560.5 L251.4,560 L248.4,559.4 L245.4,558.8 L242.4,558.2 L239.4,557.6 L236.4,557 L233.4,556.5 L230.4,556 L227.4,555.5 L224.4,555.2 L221.4,555 L218.4,555 L215.4,555 L212.4,555 L209.4,554.9 L206.4,554.9 L203.4,554.8 L200.4,554.7 L197.4,554.7 L194.4,554.6 L191.4,554.5 L188.4,554.5 L185.4,554.4 L182.4,554.4 L179.4,554.4 L179.4,554.4Z" fill="url(#g20)"/>
<path d="M33.6,545.4 L34.6,545.5 L35.6,545.5 L36.6,545.5 L37.6,545.5 L38.6,545.5 L39.6,545.5 L40.6,545.5 L41.6,545.5 L42.6,545.5 L43.6,545.5 L44.6,545.6 L45.6,545.6 L46.6,545.6 L47.6,545.6 L48.6,545.6 L49.6,545.6 L50.6,545.7 L51.6,545.7 L52.6,545.7 L53.6,545.7 L54.6,545.7 L55.6,545.7 L56.6,545.7 L57.6,545.7 L58.6,545.7 L59.6,545.6 L60.6,545.6 L61.6,545.5 L62.6,545.4 L63.6,545.3 L64.6,545.2 L65.6,545 L66.6,544.8 L67.6,544.6 L68.6,544.4 L69.6,544.1 L70.6,543.8 L71.6,543.4 L72.6,543 L73.6,542.6 L74.6,542.1 L75.6,541.7 L76.6,541.2 L77.6,540.7 L78.6,540.1 L79.6,539.6 L80.6,539.1 L81.6,538.6 L82.6,538.2 L83.6,537.8 L84.6,537.5 L85.6,537.2 L86.6,537 L87.6,536.9 L88.6,536.9 L89.6,537 L90.6,537.1 L91.6,537.3 L92.6,537.7 L93.6,538 L94.6,538.5 L95.6,539 L96.6,539.5 L97.6,540.1 L98.6,540.7 L99.6,541.3 L100.6,541.9 L101.6,542.4 L102.6,543 L103.6,543.6 L104.6,544.1 L105.6,544.6 L106.6,545.1 L107.6,545.6 L108.6,546 L109.6,546.4 L110.6,546.7 L111.6,547 L112.6,547.3 L113.6,547.6 L114.6,547.9 L115.6,548.1 L116.6,548.3 L117.6,548.5 L118.6,548.7 L119.6,548.9 L120.6,549 L121.6,549.2 L122.6,549.3 L123.6,549.5 L124.6,549.6 L125.6,549.7 L126.6,549.9 L127.6,550 L128.6,550.1 L129.6,550.3 L130.6,550.4 L131.6,550.5 L132.6,550.6 L133.6,550.8 L134.6,550.9 L135.6,551 L136.6,551.1 L137.6,551.2 L138.6,551.4 L139.6,551.5 L140.6,551.6 L141.6,551.7 L142.6,551.8 L143.6,551.9 L144.6,552.1 L145.6,552.2 L146.6,552.3 L147.6,552.4 L148.6,552.5 L149.6,552.6 L150.6,552.7 L151.6,552.8 L152.6,552.9 L153.6,553 L154.6,553.1 L155.6,553.2 L156.6,553.3 L157.6,553.3 L158.6,553.4 L159.6,553.5 L160.6,553.6 L161.6,553.7 L162.6,553.7 L163.6,553.8 L164.6,553.9 L165.6,553.9 L165.6,554 L162.6,553.8 L159.6,553.5 L156.6,553.3 L153.6,553 L150.6,552.7 L147.6,552.4 L144.6,552.1 L141.6,551.8 L138.6,551.4 L135.6,551.1 L132.6,550.7 L129.6,550.4 L126.6,550 L123.6,549.6 L120.6,549.3 L117.6,548.9 L114.6,548.6 L111.6,548.3 L108.6,548 L105.6,547.7 L102.6,547.4 L99.6,547.2 L96.6,547 L93.6,546.8 L90.6,546.7 L87.6,546.5 L84.6,546.4 L81.6,546.4 L78.6,546.4 L75.6,546.4 L72.6,546.3 L69.6,546.3 L66.6,546.2 L63.6,546.1 L60.6,546.1 L57.6,546 L54.6,545.9 L51.6,545.8 L48.6,545.7 L45.6,545.7 L42.6,545.6 L39.6,545.5 L36.6,545.5 L33.6,545.5 L33.6,545.5Z" fill="url(#g21)"/>
<path d="M142.4,551.8 L143.4,551.9 L144.4,552 L145.4,552.2 L146.4,552.3 L147.4,552.4 L148.4,552.5 L149.4,552.6 L150.4,552.7 L151.4,552.8 L152.4,552.9 L153.4,553 L154.4,553.1 L155.4,553.1 L156.4,553.2 L157.4,553.3 L158.4,553.4 L159.4,553.5 L160.4,553.5 L161.4,553.6 L162.4,553.7 L163.4,553.8 L164.4,553.8 L165.4,553.9 L166.4,553.9 L167.4,554 L168.4,554 L169.4,554.1 L170.4,554.1 L171.4,554.2 L172.4,554.2 L173.4,554.2 L174.4,554.2 L175.4,554.3 L176.4,554.3 L177.4,554.3 L178.4,554.3 L179.4,554.3 L180.4,554.3 L181.4,554.3 L182.4,554.2 L183.4,554.2 L184.4,554.2 L185.4,554.2 L186.4,554.2 L187.4,554.1 L188.4,554.1 L189.4,554.1 L190.4,554 L191.4,553.9 L192.4,553.8 L193.4,553.7 L194.4,553.6 L195.4,553.4 L196.4,553.2 L197.4,552.9 L198.4,552.7 L199.4,552.4 L200.4,552 L201.4,551.6 L202.4,551.2 L203.4,550.7 L204.4,550.2 L205.4,549.7 L206.4,549.1 L207.4,548.5 L208.4,547.9 L209.4,547.3 L210.4,546.7 L211.4,546.1 L212.4,545.5 L213.4,545 L214.4,544.6 L215.4,544.2 L216.4,543.8 L217.4,543.6 L218.4,543.4 L219.4,543.4 L220.4,543.5 L221.4,543.6 L222.4,543.9 L223.4,544.3 L224.4,544.8 L225.4,545.4 L226.4,546 L227.4,546.7 L228.4,547.4 L229.4,548.2 L230.4,549 L231.4,549.7 L232.4,550.5 L233.4,551.3 L234.4,552 L235.4,552.7 L236.4,553.4 L237.4,554.1 L238.4,554.7 L239.4,555.3 L240.4,555.8 L241.4,556.3 L242.4,556.8 L243.4,557.2 L244.4,557.6 L245.4,558 L246.4,558.3 L247.4,558.6 L248.4,558.9 L249.4,559.2 L250.4,559.5 L251.4,559.7 L252.4,559.9 L253.4,560.1 L254.4,560.3 L255.4,560.5 L256.4,560.6 L257.4,560.8 L258.4,560.9 L259.4,561 L260.4,561.1 L261.4,561.2 L262.4,561.3 L263.4,561.3 L264.4,561.4 L265.4,561.4 L266.4,561.4 L267.4,561.5 L268.4,561.8 L269.4,562.1 L270.4,562.5 L271.4,563 L272.4,563.5 L273.4,564.1 L274.4,564.6 L275.4,565.2 L276.4,565.8 L277.4,566.3 L278.4,566.8 L279.4,567.2 L280.4,567.5 L281.4,567.8 L282.4,567.9 L283.4,568 L284.4,568 L285.4,568.2 L286.4,568.4 L287.4,568.6 L288.4,568.9 L289.4,569.3 L290.4,569.7 L291.4,570.1 L292.4,570.5 L293.4,570.9 L294.4,571.4 L295.4,571.8 L296.4,572.3 L296.4,572.3 L293.4,571 L290.4,569.7 L287.4,568.7 L284.4,568.1 L281.4,567.8 L278.4,566.8 L275.4,565.3 L272.4,563.6 L269.4,562.2 L266.4,561.5 L263.4,561.4 L260.4,561.2 L257.4,560.9 L254.4,560.5 L251.4,560 L248.4,559.4 L245.4,558.8 L242.4,558.2 L239.4,557.6 L236.4,557 L233.4,556.5 L230.4,556 L227.4,555.5 L224.4,555.2 L221.4,555 L218.4,555 L215.4,555 L212.4,555 L209.4,554.9 L206.4,554.9 L203.4,554.8 L200.4,554.7 L197.4,554.7 L194.4,554.6 L191.4,554.5 L188.4,554.5 L185.4,554.4 L182.4,554.4 L179.4,554.4 L176.4,554.4 L173.4,554.3 L170.4,554.2 L167.4,554.1 L164.4,553.9 L161.4,553.7 L158.4,553.4 L155.4,553.2 L152.4,552.9 L149.4,552.6 L146.4,552.3 L143.4,552 L142.4,551.9Z" fill="url(#g22)"/>
<circle cx="33.2" cy="428.7" r="2.3" fill="none" stroke="#c4c4c4" stroke-width="0.7"/>
<circle cx="36.8" cy="428.6" r="2.3" fill="none" stroke="#c4c4c4" stroke-width="0.7"/>
<circle cx="39.6" cy="428.8" r="2.3" fill="none" stroke="#c4c4c4" stroke-width="0.7"/>
<circle cx="43.4" cy="428.7" r="2.3" fill="none" stroke="#c4c4c4" stroke-width="0.7"/>
<circle cx="48.8" cy="429.3" r="2.3" fill="none" stroke="#c4c4c4" stroke-width="0.7"/>
<circle cx="52" cy="428.3" r="2.3" fill="none" stroke="#c4c4c4" stroke-width="0.7"/>
<circle cx="55.5" cy="429.2" r="2.3" fill="none" stroke="#c4c4c4" stroke-width="0.7"/>
<circle cx="59.5" cy="427.5" r="2.3" fill="none" stroke="#c4c4c4" stroke-width="0.7"/>
<circle cx="62.5" cy="429.1" r="2.3" fill="none" stroke="#c4c4c4" stroke-width="0.7"/>
<circle cx="65.9" cy="427.9" r="2.3" fill="none" stroke="#c4c4c4" stroke-width="0.7"/>
<circle cx="68.7" cy="425.9" r="2.3" fill="none" stroke="#c4c4c4" stroke-width="0.7"/>
<circle cx="73" cy="425.1" r="2.3" fill="none" stroke="#c4c4c4" stroke-width="0.7"/>
<circle cx="75.6" cy="424.4" r="2.3" fill="none" stroke="#c4c4c4" stroke-width="0.7"/>
<circle cx="79.1" cy="423.8" r="2.3" fill="none" stroke="#c4c4c4" stroke-width="0.7"/>
<circle cx="84.5" cy="423.5" r="2.3" fill="none" stroke="#c4c4c4" stroke-width="0.7"/>
<circle cx="87.1" cy="422.6" r="2.3" fill="none" stroke="#c4c4c4" stroke-width="0.7"/>
<circle cx="89.6" cy="422.1" r="2.3" fill="none" stroke="#c4c4c4" stroke-width="0.7"/>
<circle cx="92" cy="420.9" r="2.3" fill="none" stroke="#c4c4c4" stroke-width="0.7"/>
<circle cx="95.6" cy="422" r="2.3" fill="none" stroke="#c4c4c4" stroke-width="0.7"/>
<circle cx="97.7" cy="421.2" r="2.3" fill="none" stroke="#c4c4c4" stroke-width="0.7"/>
<circle cx="99.1" cy="420.1" r="2.3" fill="none" stroke="#c4c4c4" stroke-width="0.7"/>
<circle cx="101.5" cy="419.7" r="2.3" fill="none" stroke="#c4c4c4" stroke-width="0.7"/>
<circle cx="104.9" cy="420.4" r="2.3" fill="none" stroke="#c4c4c4" stroke-width="0.7"/>
<circle cx="107.5" cy="420.4" r="2.3" fill="none" stroke="#c4c4c4" stroke-width="0.7"/>
<circle cx="110.1" cy="421.4" r="2.3" fill="none" stroke="#c4c4c4" stroke-width="0.7"/>
<circle cx="110.8" cy="420.3" r="2.3" fill="none" stroke="#c4c4c4" stroke-width="0.7"/>
<circle cx="115.3" cy="421.1" r="2.3" fill="none" stroke="#c4c4c4" stroke-width="0.7"/>
<circle cx="118.1" cy="421.4" r="2.3" fill="none" stroke="#c4c4c4" stroke-width="0.7"/>
<circle cx="118.8" cy="422.2" r="2.3" fill="none" stroke="#c4c4c4" stroke-width="0.7"/>
<circle cx="124.4" cy="421.9" r="2.3" fill="none" stroke="#c4c4c4" stroke-width="0.7"/>
<circle cx="125.6" cy="422.1" r="2.3" fill="none" stroke="#c4c4c4" stroke-width="0.7"/>
<circle cx="130.2" cy="421.8" r="2.3" fill="none" stroke="#c4c4c4" stroke-width="0.7"/>
<circle cx="130.9" cy="419.5" r="2.3" fill="none" stroke="#c4c4c4" stroke-width="0.7"/>
<circle cx="133.5" cy="417.7" r="2.3" fill="none" stroke="#c4c4c4" stroke-width="0.7"/>
<circle cx="137.3" cy="416.8" r="2.3" fill="none" stroke="#c4c4c4" stroke-width="0.7"/>
<circle cx="139.1" cy="416.2" r="2.3" fill="none" stroke="#c4c4c4" stroke-width="0.7"/>
<circle cx="140.8" cy="415.7" r="2.3" fill="none" stroke="#c4c4c4" stroke-width="0.7"/>
<circle cx="143.7" cy="414.7" r="2.3" fill="none" stroke="#c4c4c4" stroke-width="0.7"/>
<circle cx="147.3" cy="413.7" r="2.3" fill="none" stroke="#c4c4c4" stroke-width="0.7"/>
<circle cx="151" cy="413" r="2.3" fill="none" stroke="#c4c4c4" stroke-width="0.7"/>
<circle cx="155" cy="414" r="2.3" fill="none" stroke="#c4c4c4" stroke-width="0.7"/>
<circle cx="156.3" cy="414.7" r="2.3" fill="none" stroke="#c4c4c4" stroke-width="0.7"/>
<circle cx="158.6" cy="415.5" r="2.3" fill="none" stroke="#c4c4c4" stroke-width="0.7"/>
<circle cx="161.9" cy="417.8" r="2.3" fill="none" stroke="#c4c4c4" stroke-width="0.7"/>
<circle cx="162.4" cy="420.5" r="2.3" fill="none" stroke="#c4c4c4" stroke-width="0.7"/>
<circle cx="164.6" cy="421.3" r="2.3" fill="none" stroke="#c4c4c4" stroke-width="0.7"/>
<circle cx="167.7" cy="424" r="2.3" fill="none" stroke="#c4c4c4" stroke-width="0.7"/>
<circle cx="168.7" cy="425.9" r="2.3" fill="none" stroke="#c4c4c4" stroke-width="0.7"/>
<circle cx="170.2" cy="429.4" r="2.3" fill="none" stroke="#c4c4c4" stroke-width="0.7"/>
<circle cx="172.5" cy="431.7" r="2.3" fill="none" stroke="#c4c4c4" stroke-width="0.7"/>
<circle cx="174.6" cy="433.3" r="2.3" fill="none" stroke="#c4c4c4" stroke-width="0.7"/>
<circle cx="177.9" cy="435.2" r="2.3" fill="none" stroke="#c4c4c4" stroke-width="0.7"/>
<circle cx="180.1" cy="436.9" r="2.3" fill="none" stroke="#c4c4c4" stroke-width="0.7"/>
<circle cx="182.9" cy="435.9" r="2.3" fill="none" stroke="#c4c4c4" stroke-width="0.7"/>
<circle cx="188.8" cy="437.2" r="2.3" fill="none" stroke="#c4c4c4" stroke-width="0.7"/>
<circle cx="189.9" cy="435.7" r="2.3" fill="none" stroke="#c4c4c4" stroke-width="0.7"/>
<circle cx="193.6" cy="436.6" r="2.3" fill="none" stroke="#c4c4c4" stroke-width="0.7"/>
<circle cx="195.4" cy="435.6" r="2.3" fill="none" stroke="#c4c4c4" stroke-width="0.7"/>
<circle cx="200" cy="433.4" r="2.3" fill="none" stroke="#c4c4c4" stroke-width="0.7"/>
<circle cx="202.5" cy="430.8" r="2.3" fill="none" stroke="#c4c4c4" stroke-width="0.7"/>
<circle cx="205.2" cy="430.7" r="2.3" fill="none" stroke="#c4c4c4" stroke-width="0.7"/>
<circle cx="209" cy="428.6" r="2.3" fill="none" stroke="#c4c4c4" stroke-width="0.7"/>
<circle cx="212.3" cy="427.5" r="2.3" fill="none" stroke="#c4c4c4" stroke-width="0.7"/>
<circle cx="216" cy="425.5" r="2.3" fill="none" stroke="#c4c4c4" stroke-width="0.7"/>
<circle cx="218.2" cy="425.5" r="2.3" fill="none" stroke="#c4c4c4" stroke-width="0.7"/>
<circle cx="220.9" cy="423.9" r="2.3" fill="none" stroke="#c4c4c4" stroke-width="0.7"/>
<circle cx="224.7" cy="424.5" r="2.3" fill="none" stroke="#c4c4c4" stroke-width="0.7"/>
<circle cx="227.7" cy="422.7" r="2.3" fill="none" stroke="#c4c4c4" stroke-width="0.7"/>
<circle cx="231.2" cy="421.9" r="2.3" fill="none" stroke="#c4c4c4" stroke-width="0.7"/>
<circle cx="232.5" cy="421.3" r="2.3" fill="none" stroke="#c4c4c4" stroke-width="0.7"/>
<circle cx="236.5" cy="420.2" r="2.3" fill="none" stroke="#c4c4c4" stroke-width="0.7"/>
<circle cx="239.2" cy="420" r="2.3" fill="none" stroke="#c4c4c4" stroke-width="0.7"/>
<circle cx="243" cy="418.8" r="2.3" fill="none" stroke="#c4c4c4" stroke-width="0.7"/>
<circle cx="245.3" cy="419.6" r="2.3" fill="none" stroke="#c4c4c4" stroke-width="0.7"/>
<circle cx="250.6" cy="417.8" r="2.3" fill="none" stroke="#c4c4c4" stroke-width="0.7"/>
<circle cx="252.2" cy="416.5" r="2.3" fill="none" stroke="#c4c4c4" stroke-width="0.7"/>
<circle cx="253.7" cy="412.9" r="2.3" fill="none" stroke="#c4c4c4" stroke-width="0.7"/>
<circle cx="255.6" cy="411.3" r="2.3" fill="none" stroke="#c4c4c4" stroke-width="0.7"/>
<circle cx="259.2" cy="407.3" r="2.3" fill="none" stroke="#c4c4c4" stroke-width="0.7"/>
<circle cx="260" cy="403.1" r="2.3" fill="none" stroke="#c4c4c4" stroke-width="0.7"/>
<circle cx="263" cy="400.6" r="2.3" fill="none" stroke="#c4c4c4" stroke-width="0.7"/>
<circle cx="264.7" cy="399" r="2.3" fill="none" stroke="#c4c4c4" stroke-width="0.7"/>
<circle cx="266.8" cy="396.3" r="2.3" fill="none" stroke="#c4c4c4" stroke-width="0.7"/>
<circle cx="271.6" cy="395.6" r="2.3" fill="none" stroke="#c4c4c4" stroke-width="0.7"/>
<circle cx="275.7" cy="394.3" r="2.3" fill="none" stroke="#c4c4c4" stroke-width="0.7"/>
<circle cx="279.1" cy="394.2" r="2.3" fill="none" stroke="#c4c4c4" stroke-width="0.7"/>
<circle cx="280.8" cy="393.8" r="2.3" fill="none" stroke="#c4c4c4" stroke-width="0.7"/>
<circle cx="283.7" cy="395.9" r="2.3" fill="none" stroke="#c4c4c4" stroke-width="0.7"/>
<circle cx="284.1" cy="398.4" r="2.3" fill="none" stroke="#c4c4c4" stroke-width="0.7"/>
<circle cx="286.4" cy="401.6" r="2.3" fill="none" stroke="#c4c4c4" stroke-width="0.7"/>
<circle cx="287.5" cy="405.9" r="2.3" fill="none" stroke="#c4c4c4" stroke-width="0.7"/>
<circle cx="288.4" cy="409.1" r="2.3" fill="none" stroke="#c4c4c4" stroke-width="0.7"/>
<circle cx="288.5" cy="412.4" r="2.3" fill="none" stroke="#c4c4c4" stroke-width="0.7"/>
<circle cx="291.5" cy="416.3" r="2.3" fill="none" stroke="#c4c4c4" stroke-width="0.7"/>
<circle cx="292.1" cy="418.8" r="2.3" fill="none" stroke="#c4c4c4" stroke-width="0.7"/>
<circle cx="293.3" cy="422.7" r="2.3" fill="none" stroke="#c4c4c4" stroke-width="0.7"/>
<circle cx="293.8" cy="426.5" r="2.3" fill="none" stroke="#c4c4c4" stroke-width="0.7"/>
<circle cx="294.1" cy="429.4" r="2.3" fill="none" stroke="#c4c4c4" stroke-width="0.7"/>
<circle cx="295" cy="432.3" r="2.3" fill="none" stroke="#c4c4c4" stroke-width="0.7"/>
<circle cx="297" cy="434.6" r="2.3" fill="none" stroke="#c4c4c4" stroke-width="0.7"/>
<circle cx="298.5" cy="438.1" r="2.3" fill="none" stroke="#c4c4c4" stroke-width="0.7"/>
<circle cx="299.4" cy="441.7" r="2.3" fill="none" stroke="#c4c4c4" stroke-width="0.7"/>
<circle cx="299.9" cy="442.3" r="2.3" fill="none" stroke="#c4c4c4" stroke-width="0.7"/>
<circle cx="301.4" cy="445.8" r="2.3" fill="none" stroke="#c4c4c4" stroke-width="0.7"/>
<circle cx="302.6" cy="446.8" r="2.3" fill="none" stroke="#c4c4c4" stroke-width="0.7"/>
<circle cx="307.2" cy="451" r="2.3" fill="none" stroke="#c4c4c4" stroke-width="0.7"/>
<circle cx="309.1" cy="454" r="2.3" fill="none" stroke="#c4c4c4" stroke-width="0.7"/>
<circle cx="311.1" cy="455.1" r="2.3" fill="none" stroke="#c4c4c4" stroke-width="0.7"/>
<circle cx="314" cy="455.6" r="2.3" fill="none" stroke="#c4c4c4" stroke-width="0.7"/>
<circle cx="317.8" cy="457.1" r="2.3" fill="none" stroke="#c4c4c4" stroke-width="0.7"/>
<circle cx="321.3" cy="456.4" r="2.3" fill="none" stroke="#c4c4c4" stroke-width="0.7"/>
<circle cx="323.7" cy="456.5" r="2.3" fill="none" stroke="#c4c4c4" stroke-width="0.7"/>
<circle cx="33.2" cy="542.8" r="2.3" fill="none" stroke="#c4c4c4" stroke-width="0.7"/>
<circle cx="36.5" cy="541.8" r="2.3" fill="none" stroke="#c4c4c4" stroke-width="0.7"/>
<circle cx="39.2" cy="542.2" r="2.3" fill="none" stroke="#c4c4c4" stroke-width="0.7"/>
<circle cx="44.5" cy="543.1" r="2.3" fill="none" stroke="#c4c4c4" stroke-width="0.7"/>
<circle cx="50.3" cy="542.6" r="2.3" fill="none" stroke="#c4c4c4" stroke-width="0.7"/>
<circle cx="54.7" cy="542.5" r="2.3" fill="none" stroke="#c4c4c4" stroke-width="0.7"/>
<circle cx="57.8" cy="541.8" r="2.3" fill="none" stroke="#c4c4c4" stroke-width="0.7"/>
<circle cx="61.1" cy="542.3" r="2.3" fill="none" stroke="#c4c4c4" stroke-width="0.7"/>
<circle cx="63.8" cy="541.5" r="2.3" fill="none" stroke="#c4c4c4" stroke-width="0.7"/>
<circle cx="66.5" cy="540.5" r="2.3" fill="none" stroke="#c4c4c4" stroke-width="0.7"/>
<circle cx="69.4" cy="539.2" r="2.3" fill="none" stroke="#c4c4c4" stroke-width="0.7"/>
<circle cx="74.5" cy="537.1" r="2.3" fill="none" stroke="#c4c4c4" stroke-width="0.7"/>
<circle cx="75.4" cy="537.9" r="2.3" fill="none" stroke="#c4c4c4" stroke-width="0.7"/>
<circle cx="78.6" cy="534.9" r="2.3" fill="none" stroke="#c4c4c4" stroke-width="0.7"/>
<circle cx="82.9" cy="535.6" r="2.3" fill="none" stroke="#c4c4c4" stroke-width="0.7"/>
<circle cx="86" cy="533.4" r="2.3" fill="none" stroke="#c4c4c4" stroke-width="0.7"/>
<circle cx="88.7" cy="532.7" r="2.3" fill="none" stroke="#c4c4c4" stroke-width="0.7"/>
<circle cx="92.3" cy="531.9" r="2.3" fill="none" stroke="#c4c4c4" stroke-width="0.7"/>
<circle cx="95" cy="531.4" r="2.3" fill="none" stroke="#c4c4c4" stroke-width="0.7"/>
<circle cx="96.4" cy="532.7" r="2.3" fill="none" stroke="#c4c4c4" stroke-width="0.7"/>
<circle cx="99.3" cy="531.9" r="2.3" fill="none" stroke="#c4c4c4" stroke-width="0.7"/>
<circle cx="102.1" cy="532" r="2.3" fill="none" stroke="#c4c4c4" stroke-width="0.7"/>
<circle cx="104.1" cy="531.1" r="2.3" fill="none" stroke="#c4c4c4" stroke-width="0.7"/>
<circle cx="107.2" cy="533.1" r="2.3" fill="none" stroke="#c4c4c4" stroke-width="0.7"/>
<circle cx="110.2" cy="532.6" r="2.3" fill="none" stroke="#c4c4c4" stroke-width="0.7"/>
<circle cx="111.4" cy="532.2" r="2.3" fill="none" stroke="#c4c4c4" stroke-width="0.7"/>
<circle cx="114.8" cy="533.2" r="2.3" fill="none" stroke="#c4c4c4" stroke-width="0.7"/>
<circle cx="116.3" cy="532.7" r="2.3" fill="none" stroke="#c4c4c4" stroke-width="0.7"/>
<circle cx="119.3" cy="533.6" r="2.3" fill="none" stroke="#c4c4c4" stroke-width="0.7"/>
<circle cx="124.4" cy="533.8" r="2.3" fill="none" stroke="#c4c4c4" stroke-width="0.7"/>
<circle cx="125.3" cy="533.9" r="2.3" fill="none" stroke="#c4c4c4" stroke-width="0.7"/>
<circle cx="128.4" cy="531.6" r="2.3" fill="none" stroke="#c4c4c4" stroke-width="0.7"/>
<circle cx="130.4" cy="529.8" r="2.3" fill="none" stroke="#c4c4c4" stroke-width="0.7"/>
<circle cx="133.9" cy="528.3" r="2.3" fill="none" stroke="#c4c4c4" stroke-width="0.7"/>
<circle cx="136.4" cy="525.8" r="2.3" fill="none" stroke="#c4c4c4" stroke-width="0.7"/>
<circle cx="138.7" cy="524.9" r="2.3" fill="none" stroke="#c4c4c4" stroke-width="0.7"/>
<circle cx="141.1" cy="523.2" r="2.3" fill="none" stroke="#c4c4c4" stroke-width="0.7"/>
<circle cx="144.3" cy="524" r="2.3" fill="none" stroke="#c4c4c4" stroke-width="0.7"/>
<circle cx="146.6" cy="524.4" r="2.3" fill="none" stroke="#c4c4c4" stroke-width="0.7"/>
<circle cx="149.1" cy="525.2" r="2.3" fill="none" stroke="#c4c4c4" stroke-width="0.7"/>
<circle cx="152.1" cy="528.1" r="2.3" fill="none" stroke="#c4c4c4" stroke-width="0.7"/>
<circle cx="154.6" cy="530" r="2.3" fill="none" stroke="#c4c4c4" stroke-width="0.7"/>
<circle cx="156.5" cy="532" r="2.3" fill="none" stroke="#c4c4c4" stroke-width="0.7"/>
<circle cx="159.3" cy="532.9" r="2.3" fill="none" stroke="#c4c4c4" stroke-width="0.7"/>
<circle cx="162.5" cy="536.9" r="2.3" fill="none" stroke="#c4c4c4" stroke-width="0.7"/>
<circle cx="163.4" cy="538.3" r="2.3" fill="none" stroke="#c4c4c4" stroke-width="0.7"/>
<circle cx="167.3" cy="541.2" r="2.3" fill="none" stroke="#c4c4c4" stroke-width="0.7"/>
<circle cx="168.6" cy="543.3" r="2.3" fill="none" stroke="#c4c4c4" stroke-width="0.7"/>
<circle cx="171" cy="546.7" r="2.3" fill="none" stroke="#c4c4c4" stroke-width="0.7"/>
<circle cx="175.9" cy="549.4" r="2.3" fill="none" stroke="#c4c4c4" stroke-width="0.7"/>
<circle cx="178.2" cy="548.9" r="2.3" fill="none" stroke="#c4c4c4" stroke-width="0.7"/>
<circle cx="181.5" cy="551.2" r="2.3" fill="none" stroke="#c4c4c4" stroke-width="0.7"/>
<circle cx="186.6" cy="551.2" r="2.3" fill="none" stroke="#c4c4c4" stroke-width="0.7"/>
<circle cx="190" cy="550.3" r="2.3" fill="none" stroke="#c4c4c4" stroke-width="0.7"/>
<circle cx="193.1" cy="549.7" r="2.3" fill="none" stroke="#c4c4c4" stroke-width="0.7"/>
<circle cx="195.5" cy="548.8" r="2.3" fill="none" stroke="#c4c4c4" stroke-width="0.7"/>
<circle cx="199.9" cy="545.2" r="2.3" fill="none" stroke="#c4c4c4" stroke-width="0.7"/>
<circle cx="202" cy="544.3" r="2.3" fill="none" stroke="#c4c4c4" stroke-width="0.7"/>
<circle cx="205.4" cy="542" r="2.3" fill="none" stroke="#c4c4c4" stroke-width="0.7"/>
<circle cx="209.3" cy="539.3" r="2.3" fill="none" stroke="#c4c4c4" stroke-width="0.7"/>
<circle cx="213.2" cy="536.4" r="2.3" fill="none" stroke="#c4c4c4" stroke-width="0.7"/>
<circle cx="216" cy="535.1" r="2.3" fill="none" stroke="#c4c4c4" stroke-width="0.7"/>
<circle cx="220.6" cy="534.8" r="2.3" fill="none" stroke="#c4c4c4" stroke-width="0.7"/>
<circle cx="223.4" cy="534.2" r="2.3" fill="none" stroke="#c4c4c4" stroke-width="0.7"/>
<circle cx="227.8" cy="532" r="2.3" fill="none" stroke="#c4c4c4" stroke-width="0.7"/>
<circle cx="231.4" cy="532.5" r="2.3" fill="none" stroke="#c4c4c4" stroke-width="0.7"/>
<circle cx="234.8" cy="530.7" r="2.3" fill="none" stroke="#c4c4c4" stroke-width="0.7"/>
<circle cx="238.3" cy="530.2" r="2.3" fill="none" stroke="#c4c4c4" stroke-width="0.7"/>
<circle cx="240.4" cy="528" r="2.3" fill="none" stroke="#c4c4c4" stroke-width="0.7"/>
<circle cx="242.3" cy="527.7" r="2.3" fill="none" stroke="#c4c4c4" stroke-width="0.7"/>
<circle cx="246.6" cy="524.4" r="2.3" fill="none" stroke="#c4c4c4" stroke-width="0.7"/>
<circle cx="249.3" cy="520.9" r="2.3" fill="none" stroke="#c4c4c4" stroke-width="0.7"/>
<circle cx="253.1" cy="517.6" r="2.3" fill="none" stroke="#c4c4c4" stroke-width="0.7"/>
<circle cx="254.4" cy="514.1" r="2.3" fill="none" stroke="#c4c4c4" stroke-width="0.7"/>
<circle cx="258.7" cy="510.7" r="2.3" fill="none" stroke="#c4c4c4" stroke-width="0.7"/>
<circle cx="261" cy="507.2" r="2.3" fill="none" stroke="#c4c4c4" stroke-width="0.7"/>
<circle cx="262.3" cy="503.7" r="2.3" fill="none" stroke="#c4c4c4" stroke-width="0.7"/>
<circle cx="263.8" cy="500.4" r="2.3" fill="none" stroke="#c4c4c4" stroke-width="0.7"/>
<circle cx="266.5" cy="499.7" r="2.3" fill="none" stroke="#c4c4c4" stroke-width="0.7"/>
<circle cx="270.4" cy="501.5" r="2.3" fill="none" stroke="#c4c4c4" stroke-width="0.7"/>
<circle cx="271.8" cy="502.9" r="2.3" fill="none" stroke="#c4c4c4" stroke-width="0.7"/>
<circle cx="273.4" cy="505.4" r="2.3" fill="none" stroke="#c4c4c4" stroke-width="0.7"/>
<circle cx="277.3" cy="508.9" r="2.3" fill="none" stroke="#c4c4c4" stroke-width="0.7"/>
<circle cx="277.9" cy="511.2" r="2.3" fill="none" stroke="#c4c4c4" stroke-width="0.7"/>
<circle cx="279.6" cy="514.2" r="2.3" fill="none" stroke="#c4c4c4" stroke-width="0.7"/>
<circle cx="280.7" cy="515.8" r="2.3" fill="none" stroke="#c4c4c4" stroke-width="0.7"/>
<circle cx="282.5" cy="519.9" r="2.3" fill="none" stroke="#c4c4c4" stroke-width="0.7"/>
<circle cx="284.9" cy="523.1" r="2.3" fill="none" stroke="#c4c4c4" stroke-width="0.7"/>
<circle cx="286.7" cy="526.1" r="2.3" fill="none" stroke="#c4c4c4" stroke-width="0.7"/>
<circle cx="286.4" cy="530.2" r="2.3" fill="none" stroke="#c4c4c4" stroke-width="0.7"/>
<circle cx="288.7" cy="533.5" r="2.3" fill="none" stroke="#c4c4c4" stroke-width="0.7"/>
<circle cx="290.6" cy="537.6" r="2.3" fill="none" stroke="#c4c4c4" stroke-width="0.7"/>
<circle cx="291.2" cy="541.1" r="2.3" fill="none" stroke="#c4c4c4" stroke-width="0.7"/>
<circle cx="293.9" cy="543.6" r="2.3" fill="none" stroke="#c4c4c4" stroke-width="0.7"/>
<circle cx="294" cy="547.3" r="2.3" fill="none" stroke="#c4c4c4" stroke-width="0.7"/>
<circle cx="294.8" cy="550.6" r="2.3" fill="none" stroke="#c4c4c4" stroke-width="0.7"/>
<circle cx="296.1" cy="554.5" r="2.3" fill="none" stroke="#c4c4c4" stroke-width="0.7"/>
<circle cx="297.9" cy="556.7" r="2.3" fill="none" stroke="#c4c4c4" stroke-width="0.7"/>
<circle cx="298.6" cy="558.8" r="2.3" fill="none" stroke="#c4c4c4" stroke-width="0.7"/>
<circle cx="301" cy="562" r="2.3" fill="none" stroke="#c4c4c4" stroke-width="0.7"/>
<circle cx="301.7" cy="563.6" r="2.3" fill="none" stroke="#c4c4c4" stroke-width="0.7"/>
<circle cx="304.5" cy="566.6" r="2.3" fill="none" stroke="#c4c4c4" stroke-width="0.7"/>
<circle cx="304.9" cy="568" r="2.3" fill="none" stroke="#c4c4c4" stroke-width="0.7"/>
<circle cx="307.7" cy="569.4" r="2.3" fill="none" stroke="#c4c4c4" stroke-width="0.7"/>
<circle cx="309.5" cy="571.3" r="2.3" fill="none" stroke="#c4c4c4" stroke-width="0.7"/>
<circle cx="312.6" cy="572.1" r="2.3" fill="none" stroke="#c4c4c4" stroke-width="0.7"/>
<circle cx="314.8" cy="572.2" r="2.3" fill="none" stroke="#c4c4c4" stroke-width="0.7"/>
<circle cx="317.9" cy="572.5" r="2.3" fill="none" stroke="#c4c4c4" stroke-width="0.7"/>
<circle cx="320.3" cy="572.7" r="2.3" fill="none" stroke="#c4c4c4" stroke-width="0.7"/>
<circle cx="322.4" cy="572.3" r="2.3" fill="none" stroke="#c4c4c4" stroke-width="0.7"/>
<line x1="266.1" y1="419" x2="266.1" y2="564" stroke="#5a7fa3" stroke-width="1.8" stroke-dasharray="9.2,8.7"/>
<line x1="282.9" y1="400" x2="282.9" y2="571" stroke="#5a7fa3" stroke-width="1.8" stroke-dasharray="9.2,8.7"/>
<polyline points="33.3,431 35.9,431 39.6,431.1 44,431.1 48.5,431.1 52.8,431.1 56.3,431 59.1,430.8 61.5,430.6 63.6,430.3 65.6,430 67.5,429.7 69.4,429.3 71.3,428.9 73,428.4 74.6,427.9 76.3,427.3 78,426.8 80,426.3 82.2,425.8 84.6,425.2 87,424.7 89.6,424.2 92.1,423.7 94.6,423.4 97,423.2 99.5,423 101.9,423 104.3,423 106.8,423 109.2,423.1 111.8,423.3 114.4,423.6 117.1,424 119.7,424.3 122,424.6 123.8,424.8 125.1,424.9 125.9,424.9 126.5,424.8 126.9,424.6 127.4,424.4 128.2,424.1 129.2,423.7 130.4,423.1 131.7,422.4 133,421.7 134.2,421 135.5,420.4 136.7,419.8 137.8,419.2 139,418.7 140.2,418.1 141.4,417.6 142.8,417.2 144.4,416.8 146.2,416.5 148.1,416.2 149.9,416 151.6,415.9 153,415.8 154.1,415.8 154.8,415.8 155.5,415.9 156,416.1 156.7,416.4 157.4,416.8 158.3,417.4 159.2,418.1 160.2,419 161.2,419.9 162.2,420.9 163.2,421.9 164.2,423 165.2,424.2 166.2,425.5 167.1,426.7 168.1,428 169.1,429.2 170.1,430.4 171.1,431.6 172.1,432.8 173,433.9 174,434.9 174.9,435.8 175.7,436.5 176.4,437.1 177,437.6 177.7,438.1 178.7,438.4 180,438.6 181.6,438.8 183.5,439 185.6,439.1 187.9,439 190.4,438.7 193.1,438.1 196,437.1 199.3,435.6 202.7,433.9 206.1,432.2 209.6,430.6 212.8,429.3 215.9,428.3 218.8,427.5 221.7,426.8 224.6,426.2 227.5,425.6 230.4,424.9 233.4,424.2 236.6,423.4 239.8,422.7 242.9,422 245.6,421.2 247.9,420.5 249.6,419.9 250.9,419.3 251.8,418.8 252.6,418.1 253.4,417.3 254.4,416.2 255.5,414.7 256.6,412.9 257.7,410.8 258.8,408.8 259.9,406.9 261,405.2 262.1,403.8 263,402.5 264,401.4 265.1,400.4 266.3,399.4 267.6,398.6 269.2,397.9 271.2,397.2 273.2,396.7 275.2,396.3 277,396 278.5,395.8 279.6,395.7 280.4,395.7 281.1,395.8 281.7,396.2 282.2,396.7 282.9,397.6 283.6,398.8 284.3,400.2 285,401.9 285.7,403.9 286.4,406.1 287.3,408.5 288.3,411.3 289.3,414.5 290.5,417.9 291.6,421.5 292.8,424.9 293.9,428.2 295,431.3 296,434.5 297,437.6 298.1,440.5 299.2,443.2 300.4,445.7 301.8,447.9 303.2,449.8 304.8,451.6 306.3,453.1 307.8,454.4 309.2,455.6 310.4,456.5 311.5,457.1 312.5,457.6 313.5,457.9 314.6,458.1 315.8,458.4 317.2,458.7 318.9,458.9 320.6,459 322.2,459.1 323.5,459.2 324.5,459.3" fill="none" stroke="#e8272b" stroke-width="2" stroke-linejoin="round" stroke-linecap="round" />
<polyline points="33.3,544.9 36.2,544.9 40.2,544.9 44.9,544.8 49.9,544.8 54.6,544.6 58.5,544.3 61.7,543.8 64.7,543.2 67.3,542.5 69.7,541.8 71.9,541.1 73.8,540.5 75.3,540 76.2,539.5 76.9,539 77.6,538.5 78.6,538.1 80,537.6 81.9,537.1 84.2,536.5 86.8,536 89.4,535.5 92.1,535 94.6,534.7 97,534.5 99.5,534.4 101.9,534.4 104.3,534.5 106.8,534.6 109.2,534.7 111.7,534.9 114.4,535.3 117,535.6 119.6,536 121.9,536.2 123.8,536.2 125.2,536 126.3,535.6 127.1,535.2 127.8,534.6 128.6,533.9 129.6,533.2 130.9,532.3 132.5,531.3 134.1,530.2 135.7,529.1 137.2,528.1 138.4,527.4 139.4,526.9 140.1,526.5 140.8,526.2 141.4,526.1 142,526 142.8,526 143.7,526 144.6,526.1 145.5,526.3 146.5,526.6 147.5,526.9 148.6,527.4 149.7,528 150.9,528.7 152.2,529.6 153.4,530.5 154.7,531.5 155.9,532.5 157.1,533.6 158.3,534.7 159.6,536 160.8,537.2 162,538.5 163.2,539.8 164.4,541.1 165.6,542.5 166.7,544 167.9,545.3 169.2,546.6 170.5,547.8 171.9,548.9 173.4,549.9 174.9,550.8 176.5,551.6 178.2,552.3 180,552.7 181.9,553 183.9,553.3 185.9,553.3 188.1,553.2 190.5,552.7 193.1,551.8 196,550.3 199.1,548.3 202.4,545.9 205.8,543.5 209.3,541.3 212.8,539.4 216.4,538 220.3,536.8 224.2,535.9 228,534.9 231.5,534 234.7,532.9 237.5,531.7 239.9,530.5 242.1,529.3 244.2,528 246.1,526.7 247.9,525.2 249.6,523.6 251.2,521.8 252.7,519.9 254,518 255.3,516.1 256.6,514.3 257.8,512.5 259,510.6 260.2,508.8 261.2,507.1 262.3,505.6 263.2,504.4 264,503.6 264.7,503 265.4,502.6 266.1,502.5 266.8,502.5 267.6,502.7 268.5,503 269.6,503.5 270.6,504.2 271.8,505.1 273,506.3 274.2,507.7 275.5,509.4 276.9,511.5 278.4,513.7 279.9,516.3 281.4,519 282.9,521.9 284.4,525.2 285.9,528.8 287.4,532.6 288.9,536.5 290.3,540.3 291.7,543.8 293,547 294.2,550.2 295.4,553.2 296.6,556 297.9,558.7 299.3,561.3 300.8,563.7 302.2,566.1 303.8,568.3 305.4,570.3 307.2,572 309.2,573.4 311.6,574.4 314.5,574.9 317.5,575.3 320.3,575.4 322.8,575.5 324.5,575.6" fill="none" stroke="#e8272b" stroke-width="2" stroke-linejoin="round" stroke-linecap="round" />
<text transform="translate(227.1,369.5) scale(1,1.04)" font-size="14.5" fill="#000" text-anchor="start" font-weight="bold" >Co<tspan font-size="10.1" dy="-5">2+</tspan></text>
<text transform="translate(227.1,388.4) scale(1,1.04)" font-size="14.5" fill="#000" text-anchor="start" font-weight="bold" >39.6%</text>
<text transform="translate(279.6,369.5) scale(1,1.04)" font-size="14.5" fill="#000" text-anchor="start" font-weight="bold" >Co<tspan font-size="10.1" dy="-5">3+</tspan></text>
<text transform="translate(279.6,388.4) scale(1,1.04)" font-size="14.5" fill="#000" text-anchor="start" font-weight="bold" >60.4%</text>
<text transform="translate(220.1,474.6) scale(1,1.04)" font-size="14.5" fill="#000" text-anchor="start" font-weight="bold" >Co<tspan font-size="10.1" dy="-5">2+</tspan></text>
<text transform="translate(220.1,493.5) scale(1,1.04)" font-size="14.5" fill="#000" text-anchor="start" font-weight="bold" >63.4%</text>
<text transform="translate(281.8,504) scale(1,1.04)" font-size="14.5" fill="#000" text-anchor="start" font-weight="bold" >Co<tspan font-size="10.1" dy="-5">3+</tspan></text>
<text transform="translate(281.8,522.4) scale(1,1.04)" font-size="14.5" fill="#000" text-anchor="start" font-weight="bold" >36.6%</text>
<line x1="256.2" y1="392.1" x2="261.8" y2="422.8" stroke="#1a1a1a" stroke-width="0.6" />
<polygon points="262.8,428.2 259.9,423.1 263.7,422.4" fill="#1a1a1a"/>
<line x1="299.3" y1="397.6" x2="291.9" y2="427.3" stroke="#1a1a1a" stroke-width="0.6" />
<polygon points="290.6,432.6 290.1,426.8 293.8,427.7" fill="#1a1a1a"/>
<line x1="253.4" y1="497.8" x2="259.5" y2="526.4" stroke="#1a1a1a" stroke-width="0.6" />
<polygon points="260.6,531.8 257.6,526.8 261.3,526" fill="#1a1a1a"/>
<line x1="301.5" y1="529.6" x2="292.6" y2="553" stroke="#1a1a1a" stroke-width="0.6" />
<polygon points="290.6,558.1 290.8,552.3 294.3,553.6" fill="#1a1a1a"/>
<text transform="translate(36.7,447.9) scale(1,1.04)" font-size="15.5" fill="#6b90c9" text-anchor="start" font-weight="bold" >CoMn<tspan font-size="11.2" dy="4.8">2</tspan><tspan dy="-4.8">O</tspan><tspan font-size="11.2" dy="4.8">4</tspan><tspan dy="-4.8"></tspan></text>
<text transform="translate(36.7,561.8) scale(1,1.04)" font-size="15.5" fill="#ee9a9e" text-anchor="start" font-weight="bold" >CoMn<tspan font-size="11.2" dy="4.8">2</tspan><tspan dy="-4.8">O</tspan><tspan font-size="11.2" dy="4.8">4</tspan><tspan dy="-4.8">-S</tspan></text>
<text transform="translate(193.9,582.1) scale(1,1.04)" font-size="12.5" fill="#3f78b8" text-anchor="start" font-weight="bold" >783.2 eV</text>
<text transform="translate(246.3,582.1) scale(1,1.04)" font-size="12.5" fill="#ee9aa0" text-anchor="start" font-weight="bold" >781.1 eV</text>
<rect x="379.3" y="346.3" width="291.7" height="238.2" fill="none" stroke="#000" stroke-width="1.6"/>
<line x1="435.4" y1="584.5" x2="435.4" y2="589.1" stroke="#000" stroke-width="1.5" />
<line x1="504.8" y1="584.5" x2="504.8" y2="589.1" stroke="#000" stroke-width="1.5" />
<line x1="574.2" y1="584.5" x2="574.2" y2="589.1" stroke="#000" stroke-width="1.5" />
<line x1="643.6" y1="584.5" x2="643.6" y2="589.1" stroke="#000" stroke-width="1.5" />
<line x1="400.7" y1="584.5" x2="400.7" y2="587.1" stroke="#000" stroke-width="1.5" />
<line x1="470.1" y1="584.5" x2="470.1" y2="587.1" stroke="#000" stroke-width="1.5" />
<line x1="539.5" y1="584.5" x2="539.5" y2="587.1" stroke="#000" stroke-width="1.5" />
<line x1="608.9" y1="584.5" x2="608.9" y2="587.1" stroke="#000" stroke-width="1.5" />
<text transform="translate(435.4,605.1) scale(1,1.04)" font-size="15.5" fill="#000" text-anchor="middle" font-weight="bold" >655</text>
<text transform="translate(504.8,605.1) scale(1,1.04)" font-size="15.5" fill="#000" text-anchor="middle" font-weight="bold" >650</text>
<text transform="translate(574.2,605.1) scale(1,1.04)" font-size="15.5" fill="#000" text-anchor="middle" font-weight="bold" >645</text>
<text transform="translate(643.6,605.1) scale(1,1.04)" font-size="15.5" fill="#000" text-anchor="middle" font-weight="bold" >640</text>
<text transform="translate(525.2,632) scale(1,1.04)" font-size="20.3" fill="#000" text-anchor="middle" font-weight="bold" >Binding Energy (eV)</text>
<text transform="translate(361.4,476.1) rotate(-90) scale(1,1.04)" font-size="20" font-weight="bold" text-anchor="middle">Intensity (a.u.)</text>
<text transform="translate(384.1,362.2) scale(1,1.04)" font-size="15" fill="#000" text-anchor="start" font-weight="bold" >Mn 2p</text>
<path d="M423,420.5 L424,420.6 L425,420.7 L426,420.8 L427,420.9 L428,421 L429,421.1 L430,421.2 L431,421.4 L432,421.5 L433,421.7 L434,421.9 L435,422.1 L436,422.2 L437,422.4 L438,422.6 L439,422.9 L440,423.1 L441,423.3 L442,423.5 L443,423.7 L444,423.9 L445,424.1 L446,424.4 L447,424.6 L448,424.8 L449,425 L450,425.2 L451,425.4 L452,425.5 L453,425.7 L454,425.8 L455,425.9 L456,425.9 L457,425.9 L458,425.8 L459,425.7 L460,425.4 L461,425.1 L462,424.6 L463,424.1 L464,423.4 L465,422.6 L466,421.7 L467,420.7 L468,419.7 L469,418.7 L470,417.6 L471,416.7 L472,415.8 L473,415.2 L474,414.8 L475,414.6 L476,414.7 L477,415 L478,415.6 L479,416.4 L480,417.4 L481,418.5 L482,419.7 L483,420.9 L484,422.2 L485,423.4 L486,424.5 L487,425.5 L488,426.4 L489,427.2 L490,428 L491,428.6 L492,429.1 L493,429.5 L494,429.8 L495,430.1 L496,430.3 L497,430.5 L498,430.6 L499,430.7 L500,430.8 L501,430.8 L502,430.8 L503,430.9 L504,430.9 L505,430.9 L506,430.9 L507,431 L508,431 L509,431 L510,431 L511,431.1 L512,431.1 L513,431.1 L514,431.2 L515,431.2 L516,431.2 L517,431.2 L518,431.3 L519,431.3 L520,431.3 L521,431.3 L522,431.4 L523,431.4 L524,431.4 L525,431.4 L526,431.4 L527,431.4 L528,431.5 L528,431.5 L525,431.5 L522,431.4 L519,431.3 L516,431.3 L513,431.2 L510,431.1 L507,431.1 L504,431 L501,431 L498,431 L495,430.8 L492,430.5 L489,430.1 L486,429.6 L483,429.2 L480,428.8 L477,428.4 L474,428.1 L471,428 L468,428 L465,427.8 L462,427.5 L459,427.1 L456,426.6 L453,426 L450,425.4 L447,424.7 L444,424 L441,423.4 L438,422.7 L435,422.1 L432,421.6 L429,421.1 L426,420.8 L423,420.6 L423,420.6Z" fill="url(#g23)"/>
<path d="M583,435.5 L584,435.6 L585,435.7 L586,435.8 L587,435.8 L588,435.8 L589,435.9 L590,435.9 L591,435.9 L592,436 L593,436.2 L594,436.5 L595,436.8 L596,437.2 L597,437.6 L598,438 L599,438.5 L600,439 L601,439.5 L602,440 L603,440.5 L604,441 L605,441.5 L606,441.9 L607,442.3 L608,442.6 L609,442.8 L610,443 L611,443 L612,443 L613,442.7 L614,442.4 L615,442 L616,441.6 L617,441.1 L618,440.4 L619,439.6 L620,438.4 L621,437.1 L622,435.5 L623,433.6 L624,431.5 L625,429.3 L626,427 L627,424.8 L628,422.8 L629,421 L630,419.6 L631,418.8 L632,418.5 L633,418.9 L634,420 L635,421.8 L636,424.2 L637,426.9 L638,430 L639,433.1 L640,436.3 L641,439.3 L642,442.1 L643,444.7 L644,447 L645,448.9 L646,450.6 L647,451.9 L648,452.9 L649,453.7 L650,454.3 L651,454.7 L652,455 L653,455.3 L654,455.5 L655,455.6 L656,455.8 L657,455.9 L658,456 L659,456.1 L660,456.2 L661,456.3 L662,456.4 L663,456.5 L664,456.5 L665,456.6 L666,456.7 L667,456.7 L668,456.8 L669,456.8 L670,456.8 L670,457 L667,456.9 L664,456.7 L661,456.5 L658,456.3 L655,456.1 L652,456 L649,456 L646,455.5 L643,454.7 L640,453.7 L637,452.8 L634,452.1 L631,451.9 L628,451.1 L625,449.5 L622,447.7 L619,445.9 L616,444.5 L613,444 L610,443.6 L607,442.7 L604,441.3 L601,439.7 L598,438.2 L595,437 L592,436.2 L589,436 L586,435.9 L583,435.6 L583,435.6Z" fill="url(#g24)"/>
<path d="M391.5,419.5 L392.5,419.6 L393.5,419.6 L394.5,419.6 L395.5,419.7 L396.5,419.7 L397.5,419.8 L398.5,419.8 L399.5,419.8 L400.5,419.9 L401.5,419.9 L402.5,419.9 L403.5,420 L404.5,420 L405.5,420 L406.5,420.1 L407.5,420.1 L408.5,420.1 L409.5,420.2 L410.5,420.2 L411.5,420.2 L412.5,420.2 L413.5,420.2 L414.5,420.3 L415.5,420.3 L416.5,420.3 L417.5,420.3 L418.5,420.3 L419.5,420.3 L420.5,420.3 L421.5,420.3 L422.5,420.3 L423.5,420.3 L424.5,420.3 L425.5,420.4 L426.5,420.4 L427.5,420.5 L428.5,420.5 L429.5,420.5 L430.5,420.5 L431.5,420.5 L432.5,420.5 L433.5,420.4 L434.5,420.2 L435.5,420 L436.5,419.7 L437.5,419.4 L438.5,418.9 L439.5,418.3 L440.5,417.6 L441.5,416.7 L442.5,415.7 L443.5,414.6 L444.5,413.3 L445.5,412 L446.5,410.5 L447.5,408.9 L448.5,407.3 L449.5,405.7 L450.5,404.1 L451.5,402.6 L452.5,401.2 L453.5,400 L454.5,399 L455.5,398.2 L456.5,397.7 L457.5,397.6 L458.5,397.7 L459.5,398.2 L460.5,399 L461.5,400.1 L462.5,401.4 L463.5,403 L464.5,404.7 L465.5,406.5 L466.5,408.4 L467.5,410.2 L468.5,412.1 L469.5,413.9 L470.5,415.6 L471.5,417.2 L472.5,418.7 L473.5,420.1 L474.5,421.4 L475.5,422.6 L476.5,423.6 L477.5,424.5 L478.5,425.3 L479.5,426.1 L480.5,426.7 L481.5,427.2 L482.5,427.7 L483.5,428.1 L484.5,428.4 L485.5,428.8 L486.5,429 L487.5,429.3 L488.5,429.5 L489.5,429.7 L490.5,429.9 L491.5,430.1 L492.5,430.2 L493.5,430.3 L494.5,430.5 L495.5,430.6 L496.5,430.7 L497.5,430.7 L498.5,430.8 L499.5,430.8 L500.5,430.8 L501.5,430.8 L502.5,430.8 L503.5,430.9 L504.5,430.9 L505.5,430.9 L506.5,430.9 L507.5,430.9 L508.5,431 L509.5,431 L510.5,431 L511.5,431 L512.5,431.1 L513.5,431.1 L514.5,431.1 L515.5,431.2 L516.5,431.2 L517.5,431.2 L518.5,431.2 L519.5,431.3 L520.5,431.3 L521.5,431.3 L522.5,431.3 L523.5,431.4 L524.5,431.4 L524.5,431.5 L521.5,431.4 L518.5,431.3 L515.5,431.3 L512.5,431.2 L509.5,431.1 L506.5,431.1 L503.5,431 L500.5,431 L497.5,430.9 L494.5,430.7 L491.5,430.4 L488.5,430 L485.5,429.6 L482.5,429.1 L479.5,428.7 L476.5,428.4 L473.5,428.1 L470.5,428 L467.5,427.9 L464.5,427.7 L461.5,427.4 L458.5,427 L455.5,426.5 L452.5,425.9 L449.5,425.3 L446.5,424.6 L443.5,423.9 L440.5,423.2 L437.5,422.6 L434.5,422 L431.5,421.5 L428.5,421.1 L425.5,420.8 L422.5,420.6 L419.5,420.5 L416.5,420.5 L413.5,420.4 L410.5,420.3 L407.5,420.2 L404.5,420.1 L401.5,420 L398.5,419.9 L395.5,419.8 L392.5,419.7 L391.5,419.6Z" fill="url(#g25)"/>
<path d="M549.8,432.4 L550.8,432.5 L551.8,432.5 L552.8,432.6 L553.8,432.6 L554.8,432.7 L555.8,432.7 L556.8,432.7 L557.8,432.7 L558.8,432.8 L559.8,432.7 L560.8,432.7 L561.8,432.8 L562.8,432.8 L563.8,432.8 L564.8,432.9 L565.8,433 L566.8,433.1 L567.8,433.2 L568.8,433.3 L569.8,433.4 L570.8,433.5 L571.8,433.6 L572.8,433.7 L573.8,433.9 L574.8,434 L575.8,434.1 L576.8,434.2 L577.8,434.3 L578.8,434.4 L579.8,434.5 L580.8,434.6 L581.8,434.6 L582.8,434.6 L583.8,434.6 L584.8,434.5 L585.8,434.3 L586.8,434.1 L587.8,433.7 L588.8,433.3 L589.8,432.6 L590.8,431.8 L591.8,431 L592.8,429.9 L593.8,428.7 L594.8,427.3 L595.8,425.6 L596.8,423.6 L597.8,421.4 L598.8,418.8 L599.8,415.9 L600.8,412.7 L601.8,409.3 L602.8,405.6 L603.8,401.9 L604.8,398.1 L605.8,394.3 L606.8,390.7 L607.8,387.4 L608.8,384.5 L609.8,382.1 L610.8,380.3 L611.8,379.3 L612.8,378.9 L613.8,379.4 L614.8,380.8 L615.8,383 L616.8,386.1 L617.8,389.7 L618.8,393.9 L619.8,398.5 L620.8,403.3 L621.8,408.2 L622.8,413.1 L623.8,417.9 L624.8,422.5 L625.8,426.8 L626.8,430.7 L627.8,434.2 L628.8,437.3 L629.8,440 L630.8,442.3 L631.8,444.1 L632.8,445.6 L633.8,446.9 L634.8,448.1 L635.8,449.1 L636.8,450 L637.8,450.8 L638.8,451.5 L639.8,452.1 L640.8,452.7 L641.8,453.2 L642.8,453.6 L643.8,454.1 L644.8,454.4 L645.8,454.8 L646.8,455 L647.8,455.3 L648.8,455.4 L649.8,455.5 L650.8,455.5 L651.8,455.6 L652.8,455.6 L653.8,455.7 L654.8,455.7 L655.8,455.8 L656.8,455.9 L657.8,456 L658.8,456.1 L659.8,456.1 L660.8,456.2 L661.8,456.3 L662.8,456.4 L663.8,456.5 L664.8,456.5 L665.8,456.6 L666.8,456.7 L667.8,456.7 L668.8,456.7 L669.8,456.8 L669.8,457 L666.8,456.9 L663.8,456.7 L660.8,456.5 L657.8,456.3 L654.8,456.1 L651.8,456 L648.8,455.9 L645.8,455.4 L642.8,454.6 L639.8,453.6 L636.8,452.7 L633.8,452.1 L630.8,451.9 L627.8,451 L624.8,449.4 L621.8,447.6 L618.8,445.8 L615.8,444.5 L612.8,444 L609.8,443.6 L606.8,442.6 L603.8,441.2 L600.8,439.6 L597.8,438.1 L594.8,436.9 L591.8,436.1 L588.8,436 L585.8,435.8 L582.8,435.6 L579.8,435.2 L576.8,434.8 L573.8,434.3 L570.8,433.9 L567.8,433.5 L564.8,433.2 L561.8,433 L558.8,433 L555.8,432.9 L552.8,432.8 L549.8,432.6 L549.8,432.6Z" fill="url(#g26)"/>
<path d="M380.3,419.2 L381.3,419.2 L382.3,419.2 L383.3,419.2 L384.3,419.2 L385.3,419.2 L386.3,419.3 L387.3,419.3 L388.3,419.3 L389.3,419.3 L390.3,419.3 L391.3,419.3 L392.3,419.3 L393.3,419.3 L394.3,419.3 L395.3,419.3 L396.3,419.3 L397.3,419.2 L398.3,419.2 L399.3,419.1 L400.3,419 L401.3,418.9 L402.3,418.8 L403.3,418.6 L404.3,418.4 L405.3,418.2 L406.3,417.9 L407.3,417.6 L408.3,417.3 L409.3,416.9 L410.3,416.4 L411.3,415.9 L412.3,415.3 L413.3,414.7 L414.3,414 L415.3,413.2 L416.3,412.4 L417.3,411.5 L418.3,410.6 L419.3,409.7 L420.3,408.7 L421.3,407.7 L422.3,406.7 L423.3,405.7 L424.3,404.8 L425.3,403.9 L426.3,403 L427.3,402.2 L428.3,401.5 L429.3,400.9 L430.3,400.4 L431.3,400 L432.3,399.7 L433.3,399.6 L434.3,399.6 L435.3,399.8 L436.3,400.1 L437.3,400.5 L438.3,401.1 L439.3,401.8 L440.3,402.6 L441.3,403.6 L442.3,404.6 L443.3,405.7 L444.3,406.8 L445.3,408 L446.3,409.3 L447.3,410.5 L448.3,411.8 L449.3,413 L450.3,414.2 L451.3,415.4 L452.3,416.5 L453.3,417.6 L454.3,418.7 L455.3,419.7 L456.3,420.6 L457.3,421.4 L458.3,422.2 L459.3,423 L460.3,423.6 L461.3,424.2 L462.3,424.8 L463.3,425.2 L464.3,425.7 L465.3,426 L466.3,426.3 L467.3,426.6 L468.3,426.8 L469.3,427 L470.3,427.1 L471.3,427.3 L472.3,427.4 L473.3,427.5 L474.3,427.7 L475.3,427.8 L476.3,427.9 L477.3,428.1 L478.3,428.2 L479.3,428.4 L480.3,428.5 L481.3,428.7 L482.3,428.9 L483.3,429 L484.3,429.2 L485.3,429.3 L486.3,429.5 L487.3,429.7 L488.3,429.8 L489.3,430 L490.3,430.1 L491.3,430.2 L492.3,430.4 L493.3,430.5 L494.3,430.6 L495.3,430.7 L496.3,430.7 L497.3,430.8 L498.3,430.8 L499.3,430.9 L500.3,430.9 L501.3,430.9 L502.3,430.9 L503.3,430.9 L504.3,430.9 L505.3,430.9 L506.3,431 L507.3,431 L508.3,431 L509.3,431 L510.3,431 L511.3,431.1 L512.3,431.1 L513.3,431.1 L514.3,431.2 L515.3,431.2 L516.3,431.2 L517.3,431.2 L518.3,431.3 L519.3,431.3 L520.3,431.3 L521.3,431.3 L522.3,431.4 L523.3,431.4 L524.3,431.4 L525.3,431.4 L525.3,431.5 L522.3,431.4 L519.3,431.4 L516.3,431.3 L513.3,431.2 L510.3,431.1 L507.3,431.1 L504.3,431 L501.3,431 L498.3,431 L495.3,430.8 L492.3,430.5 L489.3,430.1 L486.3,429.7 L483.3,429.2 L480.3,428.8 L477.3,428.4 L474.3,428.2 L471.3,428 L468.3,428 L465.3,427.8 L462.3,427.5 L459.3,427.1 L456.3,426.6 L453.3,426 L450.3,425.4 L447.3,424.8 L444.3,424.1 L441.3,423.4 L438.3,422.8 L435.3,422.2 L432.3,421.6 L429.3,421.2 L426.3,420.8 L423.3,420.6 L420.3,420.5 L417.3,420.5 L414.3,420.4 L411.3,420.4 L408.3,420.3 L405.3,420.2 L402.3,420 L399.3,419.9 L396.3,419.8 L393.3,419.7 L390.3,419.6 L387.3,419.5 L384.3,419.4 L381.3,419.4 L380.3,419.4Z" fill="url(#g27)"/>
<path d="M499.2,430.9 L500.2,430.9 L501.2,430.9 L502.2,430.9 L503.2,430.9 L504.2,430.9 L505.2,430.9 L506.2,430.9 L507.2,431 L508.2,431 L509.2,431 L510.2,431 L511.2,431 L512.2,431.1 L513.2,431.1 L514.2,431.1 L515.2,431.1 L516.2,431.1 L517.2,431.2 L518.2,431.2 L519.2,431.2 L520.2,431.2 L521.2,431.2 L522.2,431.3 L523.2,431.3 L524.2,431.3 L525.2,431.3 L526.2,431.3 L527.2,431.3 L528.2,431.3 L529.2,431.3 L530.2,431.3 L531.2,431.3 L532.2,431.3 L533.2,431.3 L534.2,431.3 L535.2,431.4 L536.2,431.4 L537.2,431.4 L538.2,431.5 L539.2,431.5 L540.2,431.6 L541.2,431.6 L542.2,431.7 L543.2,431.7 L544.2,431.8 L545.2,431.8 L546.2,431.9 L547.2,431.9 L548.2,431.9 L549.2,431.9 L550.2,431.9 L551.2,431.9 L552.2,431.8 L553.2,431.8 L554.2,431.7 L555.2,431.5 L556.2,431.3 L557.2,431.1 L558.2,430.8 L559.2,430.5 L560.2,430.1 L561.2,429.7 L562.2,429.2 L563.2,428.7 L564.2,428.1 L565.2,427.4 L566.2,426.7 L567.2,425.9 L568.2,425 L569.2,424.1 L570.2,423.1 L571.2,421.9 L572.2,420.8 L573.2,419.5 L574.2,418.2 L575.2,416.9 L576.2,415.5 L577.2,414 L578.2,412.6 L579.2,411.2 L580.2,409.8 L581.2,408.5 L582.2,407.2 L583.2,406 L584.2,404.9 L585.2,403.9 L586.2,403.1 L587.2,402.5 L588.2,402 L589.2,401.7 L590.2,401.6 L591.2,401.8 L592.2,402.2 L593.2,403 L594.2,404 L595.2,405.2 L596.2,406.6 L597.2,408.2 L598.2,410 L599.2,411.9 L600.2,413.9 L601.2,415.9 L602.2,418 L603.2,420.1 L604.2,422.2 L605.2,424.2 L606.2,426.2 L607.2,428 L608.2,429.8 L609.2,431.4 L610.2,432.9 L611.2,434.3 L612.2,435.5 L613.2,436.5 L614.2,437.5 L615.2,438.5 L616.2,439.5 L617.2,440.6 L618.2,441.6 L619.2,442.7 L620.2,443.7 L621.2,444.7 L622.2,445.7 L623.2,446.6 L624.2,447.5 L625.2,448.3 L626.2,449 L627.2,449.7 L628.2,450.3 L629.2,450.7 L630.2,451.1 L631.2,451.3 L632.2,451.4 L633.2,451.5 L634.2,451.7 L635.2,451.9 L636.2,452.1 L637.2,452.4 L638.2,452.7 L639.2,453.1 L640.2,453.4 L641.2,453.8 L642.2,454.1 L643.2,454.4 L644.2,454.8 L645.2,455 L646.2,455.3 L647.2,455.5 L648.2,455.7 L649.2,455.8 L650.2,455.8 L651.2,455.8 L652.2,455.8 L653.2,455.9 L654.2,455.9 L655.2,456 L656.2,456 L657.2,456.1 L658.2,456.2 L659.2,456.2 L660.2,456.3 L661.2,456.4 L662.2,456.5 L663.2,456.5 L664.2,456.6 L665.2,456.7 L666.2,456.7 L667.2,456.8 L668.2,456.8 L669.2,456.9 L669.2,457 L666.2,456.9 L663.2,456.7 L660.2,456.5 L657.2,456.3 L654.2,456.1 L651.2,456 L648.2,455.9 L645.2,455.3 L642.2,454.4 L639.2,453.4 L636.2,452.6 L633.2,452.1 L630.2,451.8 L627.2,450.7 L624.2,449.1 L621.2,447.2 L618.2,445.5 L615.2,444.3 L612.2,444 L609.2,443.4 L606.2,442.3 L603.2,440.9 L600.2,439.3 L597.2,437.9 L594.2,436.7 L591.2,436.1 L588.2,436 L585.2,435.8 L582.2,435.5 L579.2,435.1 L576.2,434.7 L573.2,434.2 L570.2,433.8 L567.2,433.4 L564.2,433.2 L561.2,433 L558.2,433 L555.2,432.9 L552.2,432.7 L549.2,432.6 L546.2,432.3 L543.2,432.1 L540.2,431.9 L537.2,431.7 L534.2,431.6 L531.2,431.5 L528.2,431.5 L525.2,431.5 L522.2,431.4 L519.2,431.4 L516.2,431.3 L513.2,431.2 L510.2,431.1 L507.2,431.1 L504.2,431 L501.2,431 L499.2,431Z" fill="url(#g28)"/>
<path d="M380.3,418.7 L381.3,418.6 L382.3,418.6 L383.3,418.5 L384.3,418.5 L385.3,418.5 L386.3,418.4 L387.3,418.4 L388.3,418.4 L389.3,418.4 L390.3,418.4 L391.3,418.4 L392.3,418.4 L393.3,418.4 L394.3,418.5 L395.3,418.5 L396.3,418.6 L397.3,418.6 L398.3,418.7 L399.3,418.7 L400.3,418.8 L401.3,418.9 L402.3,419 L403.3,419 L404.3,419.1 L405.3,419.2 L406.3,419.3 L407.3,419.4 L408.3,419.5 L409.3,419.6 L410.3,419.7 L411.3,419.7 L412.3,419.8 L413.3,419.9 L414.3,420 L415.3,420 L416.3,420.1 L417.3,420.1 L418.3,420.2 L419.3,420.2 L420.3,420.2 L421.3,420.3 L422.3,420.3 L423.3,420.4 L424.3,420.5 L425.3,420.6 L426.3,420.7 L427.3,420.8 L428.3,421 L429.3,421.1 L430.3,421.3 L431.3,421.4 L432.3,421.6 L433.3,421.8 L434.3,421.9 L435.3,422.1 L436.3,422.3 L437.3,422.5 L438.3,422.8 L439.3,423 L440.3,423.2 L441.3,423.4 L442.3,423.6 L443.3,423.9 L444.3,424.1 L445.3,424.3 L446.3,424.5 L447.3,424.8 L448.3,425 L449.3,425.2 L450.3,425.4 L451.3,425.6 L452.3,425.8 L453.3,426 L454.3,426.2 L455.3,426.4 L456.3,426.6 L457.3,426.8 L458.3,427 L459.3,427.1 L460.3,427.3 L461.3,427.4 L462.3,427.5 L463.3,427.6 L464.3,427.7 L465.3,427.8 L466.3,427.9 L467.3,427.9 L468.3,428 L469.3,428 L470.3,428 L471.3,428 L472.3,428 L473.3,428.1 L474.3,428.2 L475.3,428.2 L476.3,428.3 L477.3,428.4 L478.3,428.6 L479.3,428.7 L480.3,428.8 L481.3,429 L482.3,429.1 L483.3,429.2 L484.3,429.4 L485.3,429.5 L486.3,429.7 L487.3,429.8 L488.3,430 L489.3,430.1 L490.3,430.3 L491.3,430.4 L492.3,430.5 L492.3,430.5 L489.3,430.1 L486.3,429.7 L483.3,429.2 L480.3,428.8 L477.3,428.4 L474.3,428.2 L471.3,428 L468.3,428 L465.3,427.8 L462.3,427.5 L459.3,427.1 L456.3,426.6 L453.3,426 L450.3,425.4 L447.3,424.8 L444.3,424.1 L441.3,423.4 L438.3,422.8 L435.3,422.2 L432.3,421.6 L429.3,421.2 L426.3,420.8 L423.3,420.6 L420.3,420.5 L417.3,420.5 L414.3,420.4 L411.3,420.4 L408.3,420.3 L405.3,420.2 L402.3,420 L399.3,419.9 L396.3,419.8 L393.3,419.7 L390.3,419.6 L387.3,419.5 L384.3,419.4 L381.3,419.4 L380.3,419.4Z" fill="url(#g29)"/>
<path d="M431.1,548 L432.1,548 L433.1,548 L434.1,548 L435.1,548.1 L436.1,548.1 L437.1,548.2 L438.1,548.2 L439.1,548.3 L440.1,548.3 L441.1,548.4 L442.1,548.5 L443.1,548.6 L444.1,548.6 L445.1,548.7 L446.1,548.8 L447.1,548.9 L448.1,549 L449.1,549.1 L450.1,549.2 L451.1,549.2 L452.1,549.3 L453.1,549.4 L454.1,549.5 L455.1,549.5 L456.1,549.6 L457.1,549.6 L458.1,549.6 L459.1,549.6 L460.1,549.5 L461.1,549.3 L462.1,549.1 L463.1,548.7 L464.1,548.3 L465.1,547.7 L466.1,547 L467.1,546.2 L468.1,545.3 L469.1,544.2 L470.1,543.1 L471.1,542 L472.1,541 L473.1,540 L474.1,539.2 L475.1,538.7 L476.1,538.4 L477.1,538.5 L478.1,538.8 L479.1,539.4 L480.1,540.2 L481.1,541.2 L482.1,542.3 L483.1,543.5 L484.1,544.6 L485.1,545.7 L486.1,546.7 L487.1,547.6 L488.1,548.4 L489.1,549 L490.1,549.5 L491.1,550 L492.1,550.3 L493.1,550.6 L494.1,550.8 L495.1,550.9 L496.1,551.1 L497.1,551.1 L498.1,551.2 L499.1,551.3 L500.1,551.3 L501.1,551.3 L502.1,551.4 L503.1,551.4 L504.1,551.4 L505.1,551.4 L506.1,551.4 L507.1,551.4 L508.1,551.4 L509.1,551.4 L510.1,551.4 L511.1,551.4 L512.1,551.4 L513.1,551.4 L514.1,551.5 L515.1,551.5 L516.1,551.5 L517.1,551.5 L518.1,551.5 L519.1,551.5 L520.1,551.5 L521.1,551.5 L522.1,551.5 L522.1,551.5 L519.1,551.5 L516.1,551.5 L513.1,551.5 L510.1,551.5 L507.1,551.5 L504.1,551.5 L501.1,551.5 L498.1,551.4 L495.1,551.3 L492.1,551.2 L489.1,551.1 L486.1,550.9 L483.1,550.8 L480.1,550.7 L477.1,550.6 L474.1,550.5 L471.1,550.5 L468.1,550.5 L465.1,550.4 L462.1,550.2 L459.1,550 L456.1,549.8 L453.1,549.5 L450.1,549.3 L447.1,549 L444.1,548.7 L441.1,548.5 L438.1,548.3 L435.1,548.1 L432.1,548 L431.1,548Z" fill="url(#g30)"/>
<path d="M587.6,555.9 L588.6,555.9 L589.6,555.9 L590.6,555.9 L591.6,556 L592.6,556 L593.6,556.2 L594.6,556.3 L595.6,556.5 L596.6,556.7 L597.6,556.9 L598.6,557.1 L599.6,557.4 L600.6,557.6 L601.6,557.9 L602.6,558.1 L603.6,558.4 L604.6,558.6 L605.6,558.8 L606.6,559 L607.6,559.2 L608.6,559.4 L609.6,559.5 L610.6,559.5 L611.6,559.6 L612.6,559.5 L613.6,559.4 L614.6,559.3 L615.6,559.1 L616.6,558.9 L617.6,558.6 L618.6,558.2 L619.6,557.6 L620.6,556.7 L621.6,555.7 L622.6,554.4 L623.6,552.8 L624.6,550.9 L625.6,548.9 L626.6,546.7 L627.6,544.5 L628.6,542.4 L629.6,540.4 L630.6,538.8 L631.6,537.7 L632.6,537.1 L633.6,537.1 L634.6,537.7 L635.6,539 L636.6,540.8 L637.6,542.9 L638.6,545.3 L639.6,547.8 L640.6,550.3 L641.6,552.7 L642.6,554.9 L643.6,556.8 L644.6,558.5 L645.6,559.9 L646.6,561 L647.6,562 L648.6,562.7 L649.6,563.2 L650.6,563.7 L651.6,564 L652.6,564.3 L653.6,564.5 L654.6,564.6 L655.6,564.7 L656.6,564.9 L657.6,565 L658.6,565 L659.6,565.1 L660.6,565.2 L661.6,565.3 L662.6,565.3 L663.6,565.4 L664.6,565.4 L665.6,565.5 L666.6,565.5 L667.6,565.5 L668.6,565.6 L669.6,565.6 L669.6,565.7 L666.6,565.6 L663.6,565.5 L660.6,565.4 L657.6,565.2 L654.6,565 L651.6,564.8 L648.6,564.6 L645.6,564.4 L642.6,564.3 L639.6,564.1 L636.6,564 L633.6,564 L630.6,563.8 L627.6,563.3 L624.6,562.5 L621.6,561.6 L618.6,560.8 L615.6,560.2 L612.6,560 L609.6,559.8 L606.6,559.2 L603.6,558.5 L600.6,557.8 L597.6,557 L594.6,556.4 L591.6,556.1 L588.6,556 L587.6,556Z" fill="url(#g31)"/>
<path d="M402,546.8 L403,546.8 L404,546.9 L405,546.9 L406,547 L407,547.1 L408,547.1 L409,547.2 L410,547.2 L411,547.3 L412,547.3 L413,547.4 L414,547.4 L415,547.5 L416,547.5 L417,547.6 L418,547.6 L419,547.6 L420,547.7 L421,547.7 L422,547.7 L423,547.8 L424,547.8 L425,547.8 L426,547.8 L427,547.8 L428,547.8 L429,547.8 L430,547.8 L431,547.7 L432,547.7 L433,547.6 L434,547.6 L435,547.5 L436,547.4 L437,547.3 L438,547.1 L439,546.8 L440,546.5 L441,546.1 L442,545.5 L443,544.9 L444,544.1 L445,543.2 L446,542.2 L447,541 L448,539.7 L449,538.4 L450,537 L451,535.5 L452,534.2 L453,532.9 L454,531.7 L455,530.8 L456,530.1 L457,529.7 L458,529.6 L459,529.8 L460,530.4 L461,531.2 L462,532.3 L463,533.6 L464,535.1 L465,536.6 L466,538.1 L467,539.7 L468,541.1 L469,542.5 L470,543.8 L471,544.9 L472,545.9 L473,546.8 L474,547.5 L475,548.2 L476,548.7 L477,549.1 L478,549.5 L479,549.7 L480,550 L481,550.1 L482,550.3 L483,550.4 L484,550.5 L485,550.6 L486,550.7 L487,550.8 L488,550.8 L489,550.9 L490,550.9 L491,551 L492,551 L493,551.1 L494,551.1 L495,551.2 L496,551.2 L497,551.3 L498,551.3 L499,551.3 L500,551.3 L501,551.4 L502,551.4 L503,551.4 L504,551.4 L505,551.4 L506,551.4 L507,551.4 L508,551.4 L509,551.4 L510,551.4 L511,551.4 L512,551.4 L513,551.4 L514,551.4 L514,551.5 L511,551.5 L508,551.5 L505,551.5 L502,551.5 L499,551.4 L496,551.3 L493,551.2 L490,551.1 L487,551 L484,550.9 L481,550.7 L478,550.6 L475,550.6 L472,550.5 L469,550.5 L466,550.4 L463,550.3 L460,550.1 L457,549.9 L454,549.6 L451,549.3 L448,549.1 L445,548.8 L442,548.5 L439,548.3 L436,548.2 L433,548 L430,548 L427,548 L424,547.9 L421,547.8 L418,547.7 L415,547.6 L412,547.4 L409,547.2 L406,547.1 L403,546.9 L402,546.8Z" fill="url(#g32)"/>
<path d="M557.2,553.4 L558.2,553.5 L559.2,553.6 L560.2,553.7 L561.2,553.8 L562.2,553.8 L563.2,553.9 L564.2,554 L565.2,554.1 L566.2,554.2 L567.2,554.3 L568.2,554.4 L569.2,554.5 L570.2,554.6 L571.2,554.7 L572.2,554.8 L573.2,554.8 L574.2,554.9 L575.2,555 L576.2,555.1 L577.2,555.1 L578.2,555.2 L579.2,555.3 L580.2,555.3 L581.2,555.4 L582.2,555.4 L583.2,555.4 L584.2,555.4 L585.2,555.4 L586.2,555.4 L587.2,555.3 L588.2,555.2 L589.2,555 L590.2,554.8 L591.2,554.6 L592.2,554.3 L593.2,553.9 L594.2,553.4 L595.2,552.7 L596.2,551.9 L597.2,550.9 L598.2,549.7 L599.2,548.2 L600.2,546.5 L601.2,544.5 L602.2,542.2 L603.2,539.8 L604.2,537.1 L605.2,534.3 L606.2,531.6 L607.2,528.8 L608.2,526.2 L609.2,523.9 L610.2,522 L611.2,520.5 L612.2,519.6 L613.2,519.3 L614.2,519.7 L615.2,520.7 L616.2,522.4 L617.2,524.7 L618.2,527.4 L619.2,530.4 L620.2,533.6 L621.2,536.9 L622.2,540.2 L623.2,543.4 L624.2,546.4 L625.2,549.2 L626.2,551.7 L627.2,554 L628.2,556 L629.2,557.6 L630.2,559 L631.2,560.1 L632.2,561 L633.2,561.7 L634.2,562.2 L635.2,562.6 L636.2,562.9 L637.2,563.1 L638.2,563.3 L639.2,563.5 L640.2,563.6 L641.2,563.7 L642.2,563.8 L643.2,563.9 L644.2,564 L645.2,564.1 L646.2,564.2 L647.2,564.2 L648.2,564.3 L649.2,564.4 L650.2,564.5 L651.2,564.6 L652.2,564.6 L653.2,564.7 L654.2,564.8 L655.2,564.9 L656.2,564.9 L657.2,565 L658.2,565.1 L659.2,565.1 L660.2,565.2 L661.2,565.3 L662.2,565.3 L663.2,565.4 L664.2,565.4 L665.2,565.5 L666.2,565.5 L667.2,565.5 L668.2,565.6 L669.2,565.6 L669.2,565.7 L666.2,565.6 L663.2,565.5 L660.2,565.4 L657.2,565.2 L654.2,565 L651.2,564.8 L648.2,564.6 L645.2,564.4 L642.2,564.3 L639.2,564.1 L636.2,564 L633.2,564 L630.2,563.8 L627.2,563.2 L624.2,562.4 L621.2,561.5 L618.2,560.7 L615.2,560.1 L612.2,560 L609.2,559.7 L606.2,559.2 L603.2,558.4 L600.2,557.7 L597.2,556.9 L594.2,556.4 L591.2,556 L588.2,556 L585.2,555.9 L582.2,555.8 L579.2,555.6 L576.2,555.3 L573.2,555.1 L570.2,554.8 L567.2,554.5 L564.2,554.2 L561.2,553.9 L558.2,553.6 L557.2,553.5Z" fill="url(#g33)"/>
<path d="M380.3,545.9 L381.3,545.9 L382.3,545.9 L383.3,545.9 L384.3,545.9 L385.3,545.9 L386.3,545.9 L387.3,546 L388.3,546 L389.3,546 L390.3,546 L391.3,546.1 L392.3,546.1 L393.3,546.1 L394.3,546.2 L395.3,546.2 L396.3,546.2 L397.3,546.3 L398.3,546.3 L399.3,546.4 L400.3,546.4 L401.3,546.4 L402.3,546.4 L403.3,546.4 L404.3,546.4 L405.3,546.4 L406.3,546.3 L407.3,546.2 L408.3,546.1 L409.3,545.9 L410.3,545.7 L411.3,545.4 L412.3,545 L413.3,544.5 L414.3,543.9 L415.3,543.2 L416.3,542.3 L417.3,541.3 L418.3,540.2 L419.3,538.9 L420.3,537.5 L421.3,536 L422.3,534.3 L423.3,532.5 L424.3,530.7 L425.3,528.8 L426.3,526.9 L427.3,525.1 L428.3,523.3 L429.3,521.7 L430.3,520.3 L431.3,519.2 L432.3,518.3 L433.3,517.8 L434.3,517.6 L435.3,517.8 L436.3,518.3 L437.3,519.2 L438.3,520.3 L439.3,521.8 L440.3,523.4 L441.3,525.2 L442.3,527.1 L443.3,529.1 L444.3,531.1 L445.3,533 L446.3,535 L447.3,536.8 L448.3,538.5 L449.3,540.1 L450.3,541.5 L451.3,542.8 L452.3,544 L453.3,545 L454.3,545.9 L455.3,546.6 L456.3,547.3 L457.3,547.8 L458.3,548.3 L459.3,548.7 L460.3,549 L461.3,549.2 L462.3,549.5 L463.3,549.6 L464.3,549.8 L465.3,549.9 L466.3,550 L467.3,550.1 L468.3,550.1 L469.3,550.2 L470.3,550.2 L471.3,550.2 L472.3,550.3 L473.3,550.3 L474.3,550.3 L475.3,550.3 L476.3,550.4 L477.3,550.4 L478.3,550.5 L479.3,550.5 L480.3,550.5 L481.3,550.6 L482.3,550.6 L483.3,550.7 L484.3,550.7 L485.3,550.8 L486.3,550.8 L487.3,550.9 L488.3,550.9 L489.3,551 L490.3,551 L491.3,551 L492.3,551.1 L493.3,551.1 L494.3,551.2 L495.3,551.2 L496.3,551.2 L497.3,551.3 L498.3,551.3 L499.3,551.3 L500.3,551.4 L500.3,551.5 L497.3,551.4 L494.3,551.3 L491.3,551.2 L488.3,551 L485.3,550.9 L482.3,550.8 L479.3,550.7 L476.3,550.6 L473.3,550.5 L470.3,550.5 L467.3,550.5 L464.3,550.4 L461.3,550.2 L458.3,550 L455.3,549.7 L452.3,549.5 L449.3,549.2 L446.3,548.9 L443.3,548.6 L440.3,548.4 L437.3,548.2 L434.3,548.1 L431.3,548 L428.3,548 L425.3,548 L422.3,547.9 L419.3,547.8 L416.3,547.6 L413.3,547.5 L410.3,547.3 L407.3,547.1 L404.3,547 L401.3,546.8 L398.3,546.6 L395.3,546.4 L392.3,546.3 L389.3,546.2 L386.3,546.1 L383.3,546 L380.3,546 L380.3,546Z" fill="url(#g34)"/>
<path d="M520.6,551.3 L521.6,551.3 L522.6,551.3 L523.6,551.3 L524.6,551.3 L525.6,551.3 L526.6,551.3 L527.6,551.3 L528.6,551.3 L529.6,551.4 L530.6,551.4 L531.6,551.5 L532.6,551.6 L533.6,551.7 L534.6,551.8 L535.6,551.9 L536.6,552.1 L537.6,552.2 L538.6,552.3 L539.6,552.4 L540.6,552.5 L541.6,552.5 L542.6,552.6 L543.6,552.6 L544.6,552.6 L545.6,552.6 L546.6,552.6 L547.6,552.6 L548.6,552.6 L549.6,552.6 L550.6,552.6 L551.6,552.6 L552.6,552.7 L553.6,552.7 L554.6,552.7 L555.6,552.7 L556.6,552.7 L557.6,552.7 L558.6,552.6 L559.6,552.5 L560.6,552.4 L561.6,552.3 L562.6,552 L563.6,551.7 L564.6,551.3 L565.6,550.8 L566.6,550.2 L567.6,549.4 L568.6,548.4 L569.6,547.3 L570.6,545.9 L571.6,544.3 L572.6,542.4 L573.6,540.3 L574.6,537.9 L575.6,535.3 L576.6,532.4 L577.6,529.3 L578.6,526 L579.6,522.6 L580.6,519.1 L581.6,515.6 L582.6,512.1 L583.6,508.7 L584.6,505.6 L585.6,502.7 L586.6,500.3 L587.6,498.2 L588.6,496.7 L589.6,495.8 L590.6,495.5 L591.6,495.9 L592.6,496.9 L593.6,498.5 L594.6,500.7 L595.6,503.4 L596.6,506.5 L597.6,509.9 L598.6,513.6 L599.6,517.4 L600.6,521.2 L601.6,525.1 L602.6,528.8 L603.6,532.4 L604.6,535.8 L605.6,539 L606.6,542 L607.6,544.6 L608.6,547 L609.6,549.1 L610.6,551 L611.6,552.5 L612.6,553.8 L613.6,554.9 L614.6,555.8 L615.6,556.7 L616.6,557.5 L617.6,558.1 L618.6,558.8 L619.6,559.4 L620.6,559.9 L621.6,560.4 L622.6,560.8 L623.6,561.3 L624.6,561.7 L625.6,562 L626.6,562.4 L627.6,562.7 L628.6,562.9 L629.6,563.2 L630.6,563.3 L631.6,563.5 L632.6,563.5 L633.6,563.6 L634.6,563.6 L635.6,563.6 L636.6,563.7 L637.6,563.7 L638.6,563.8 L639.6,563.8 L640.6,563.9 L641.6,563.9 L642.6,564 L643.6,564 L644.6,564.1 L645.6,564.2 L646.6,564.2 L647.6,564.3 L648.6,564.4 L649.6,564.5 L650.6,564.5 L651.6,564.6 L652.6,564.7 L653.6,564.8 L654.6,564.8 L655.6,564.9 L656.6,565 L657.6,565 L658.6,565.1 L659.6,565.2 L660.6,565.2 L660.6,565.4 L657.6,565.2 L654.6,565 L651.6,564.8 L648.6,564.6 L645.6,564.4 L642.6,564.3 L639.6,564.1 L636.6,564 L633.6,564 L630.6,563.8 L627.6,563.3 L624.6,562.5 L621.6,561.6 L618.6,560.8 L615.6,560.2 L612.6,560 L609.6,559.8 L606.6,559.2 L603.6,558.5 L600.6,557.8 L597.6,557 L594.6,556.4 L591.6,556.1 L588.6,556 L585.6,555.9 L582.6,555.8 L579.6,555.6 L576.6,555.4 L573.6,555.1 L570.6,554.8 L567.6,554.5 L564.6,554.2 L561.6,553.9 L558.6,553.7 L555.6,553.4 L552.6,553.2 L549.6,553.1 L546.6,553 L543.6,553 L540.6,552.8 L537.6,552.4 L534.6,552.1 L531.6,551.7 L528.6,551.5 L525.6,551.5 L522.6,551.5 L520.6,551.5Z" fill="url(#g35)"/>
<path d="M380.3,538.6 L381.3,538.5 L382.3,538.5 L383.3,538.6 L384.3,538.7 L385.3,538.8 L386.3,539.1 L387.3,539.3 L388.3,539.6 L389.3,540 L390.3,540.3 L391.3,540.7 L392.3,541.1 L393.3,541.6 L394.3,542 L395.3,542.4 L396.3,542.8 L397.3,543.2 L398.3,543.6 L399.3,544 L400.3,544.3 L401.3,544.7 L402.3,545 L403.3,545.3 L404.3,545.5 L405.3,545.8 L406.3,546 L407.3,546.2 L408.3,546.4 L409.3,546.6 L410.3,546.7 L411.3,546.9 L412.3,547 L413.3,547.1 L414.3,547.2 L415.3,547.3 L416.3,547.4 L417.3,547.5 L418.3,547.6 L419.3,547.6 L420.3,547.7 L421.3,547.7 L422.3,547.8 L423.3,547.8 L424.3,547.8 L425.3,547.9 L426.3,547.9 L427.3,547.9 L428.3,547.9 L429.3,547.9 L430.3,547.9 L431.3,547.9 L432.3,548 L433.3,548 L434.3,548 L435.3,548.1 L436.3,548.1 L437.3,548.2 L438.3,548.2 L439.3,548.3 L440.3,548.4 L441.3,548.4 L442.3,548.5 L443.3,548.6 L444.3,548.7 L445.3,548.8 L446.3,548.9 L447.3,549 L448.3,549.1 L449.3,549.2 L450.3,549.2 L451.3,549.3 L452.3,549.4 L453.3,549.5 L454.3,549.6 L455.3,549.7 L456.3,549.8 L457.3,549.9 L458.3,550 L459.3,550 L460.3,550.1 L461.3,550.2 L462.3,550.2 L463.3,550.3 L464.3,550.3 L465.3,550.4 L465.3,550.4 L462.3,550.3 L459.3,550.1 L456.3,549.8 L453.3,549.6 L450.3,549.3 L447.3,549 L444.3,548.7 L441.3,548.5 L438.3,548.3 L435.3,548.1 L432.3,548 L429.3,548 L426.3,548 L423.3,547.9 L420.3,547.8 L417.3,547.7 L414.3,547.5 L411.3,547.4 L408.3,547.2 L405.3,547 L402.3,546.8 L399.3,546.7 L396.3,546.5 L393.3,546.3 L390.3,546.2 L387.3,546.1 L384.3,546 L381.3,546 L380.3,546Z" fill="url(#g36)"/>
<path d="M418.9,547.7 L419.9,547.7 L420.9,547.8 L421.9,547.8 L422.9,547.8 L423.9,547.9 L424.9,547.9 L425.9,547.9 L426.9,547.9 L427.9,547.9 L428.9,548 L429.9,548 L430.9,548 L431.9,548 L432.9,548 L433.9,548 L434.9,548.1 L435.9,548.1 L436.9,548.1 L437.9,548.2 L438.9,548.3 L439.9,548.3 L440.9,548.4 L441.9,548.5 L442.9,548.6 L443.9,548.6 L444.9,548.7 L445.9,548.8 L446.9,548.9 L447.9,549 L448.9,549.1 L449.9,549.2 L450.9,549.3 L451.9,549.4 L452.9,549.4 L453.9,549.5 L454.9,549.6 L455.9,549.7 L456.9,549.8 L457.9,549.9 L458.9,549.9 L459.9,550 L460.9,550.1 L461.9,550.1 L462.9,550.2 L463.9,550.2 L464.9,550.3 L465.9,550.3 L466.9,550.4 L467.9,550.4 L468.9,550.4 L469.9,550.4 L470.9,550.4 L471.9,550.4 L472.9,550.4 L473.9,550.4 L474.9,550.4 L475.9,550.4 L476.9,550.5 L477.9,550.5 L478.9,550.5 L479.9,550.5 L480.9,550.6 L481.9,550.6 L482.9,550.6 L483.9,550.6 L484.9,550.7 L485.9,550.7 L486.9,550.7 L487.9,550.8 L488.9,550.8 L489.9,550.8 L490.9,550.8 L491.9,550.8 L492.9,550.8 L493.9,550.8 L494.9,550.8 L495.9,550.8 L496.9,550.8 L497.9,550.7 L498.9,550.7 L499.9,550.6 L500.9,550.5 L501.9,550.4 L502.9,550.3 L503.9,550.2 L504.9,550.1 L505.9,549.9 L506.9,549.8 L507.9,549.6 L508.9,549.4 L509.9,549.1 L510.9,548.9 L511.9,548.6 L512.9,548.4 L513.9,548.1 L514.9,547.8 L515.9,547.4 L516.9,547.1 L517.9,546.7 L518.9,546.3 L519.9,545.9 L520.9,545.5 L521.9,545.1 L522.9,544.6 L523.9,544.2 L524.9,543.7 L525.9,543.2 L526.9,542.7 L527.9,542.3 L528.9,541.8 L529.9,541.4 L530.9,541 L531.9,540.7 L532.9,540.3 L533.9,540 L534.9,539.7 L535.9,539.5 L536.9,539.3 L537.9,539.1 L538.9,538.9 L539.9,538.8 L540.9,538.7 L541.9,538.6 L542.9,538.5 L543.9,538.5 L544.9,538.5 L545.9,538.5 L546.9,538.6 L547.9,538.7 L548.9,538.9 L549.9,539.2 L550.9,539.5 L551.9,539.8 L552.9,540.2 L553.9,540.6 L554.9,541 L555.9,541.5 L556.9,542 L557.9,542.5 L558.9,543 L559.9,543.6 L560.9,544.1 L561.9,544.7 L562.9,545.3 L563.9,545.9 L564.9,546.4 L565.9,547 L566.9,547.6 L567.9,548.1 L568.9,548.6 L569.9,549.2 L570.9,549.7 L571.9,550.1 L572.9,550.6 L573.9,551.1 L574.9,551.5 L575.9,551.9 L576.9,552.3 L577.9,552.6 L578.9,552.9 L579.9,553.3 L580.9,553.5 L581.9,553.8 L582.9,554.1 L583.9,554.3 L584.9,554.5 L585.9,554.6 L586.9,554.8 L587.9,554.9 L588.9,555.1 L589.9,555.2 L590.9,555.3 L591.9,555.4 L592.9,555.6 L593.9,555.8 L594.9,556 L595.9,556.2 L596.9,556.5 L597.9,556.7 L598.9,557 L599.9,557.3 L600.9,557.6 L601.9,557.8 L602.9,558.1 L603.9,558.4 L604.9,558.6 L605.9,558.9 L606.9,559.1 L607.9,559.3 L608.9,559.5 L609.9,559.6 L610.9,559.8 L611.9,559.8 L612.9,559.9 L613.9,559.9 L614.9,560 L615.9,560.1 L616.9,560.3 L617.9,560.5 L618.9,560.7 L619.9,561 L620.9,561.3 L621.9,561.6 L622.9,561.9 L623.9,562.2 L624.9,562.5 L625.9,562.8 L626.9,563 L627.9,563.3 L628.9,563.5 L629.9,563.7 L630.9,563.8 L631.9,563.9 L632.9,563.9 L633.9,563.9 L634.9,563.9 L635.9,564 L636.9,564 L637.9,564 L638.9,564 L639.9,564.1 L640.9,564.1 L641.9,564.2 L642.9,564.2 L643.9,564.3 L644.9,564.3 L645.9,564.4 L646.9,564.5 L647.9,564.5 L648.9,564.6 L649.9,564.7 L650.9,564.7 L651.9,564.8 L652.9,564.9 L653.9,564.9 L654.9,565 L655.9,565.1 L656.9,565.1 L657.9,565.2 L658.9,565.2 L659.9,565.3 L660.9,565.4 L661.9,565.4 L662.9,565.5 L663.9,565.5 L664.9,565.5 L665.9,565.6 L666.9,565.6 L667.9,565.6 L668.9,565.6 L669.9,565.7 L669.9,565.7 L666.9,565.6 L663.9,565.5 L660.9,565.4 L657.9,565.2 L654.9,565 L651.9,564.8 L648.9,564.6 L645.9,564.5 L642.9,564.3 L639.9,564.1 L636.9,564.1 L633.9,564 L630.9,563.9 L627.9,563.4 L624.9,562.6 L621.9,561.7 L618.9,560.8 L615.9,560.2 L612.9,560 L609.9,559.8 L606.9,559.3 L603.9,558.6 L600.9,557.8 L597.9,557.1 L594.9,556.5 L591.9,556.1 L588.9,556 L585.9,555.9 L582.9,555.8 L579.9,555.6 L576.9,555.4 L573.9,555.1 L570.9,554.8 L567.9,554.5 L564.9,554.2 L561.9,554 L558.9,553.7 L555.9,553.4 L552.9,553.2 L549.9,553.1 L546.9,553 L543.9,553 L540.9,552.8 L537.9,552.5 L534.9,552.1 L531.9,551.8 L528.9,551.5 L525.9,551.5 L522.9,551.5 L519.9,551.5 L516.9,551.5 L513.9,551.5 L510.9,551.5 L507.9,551.5 L504.9,551.5 L501.9,551.5 L498.9,551.4 L495.9,551.3 L492.9,551.2 L489.9,551.1 L486.9,551 L483.9,550.8 L480.9,550.7 L477.9,550.6 L474.9,550.6 L471.9,550.5 L468.9,550.5 L465.9,550.4 L462.9,550.3 L459.9,550.1 L456.9,549.9 L453.9,549.6 L450.9,549.3 L447.9,549.1 L444.9,548.8 L441.9,548.5 L438.9,548.3 L435.9,548.1 L432.9,548 L429.9,548 L426.9,548 L423.9,547.9 L420.9,547.8 L418.9,547.7Z" fill="url(#g37)"/>
<circle cx="379.3" cy="416.5" r="2.9" fill="none" stroke="#c6c6c6" stroke-width="0.8"/>
<circle cx="385.7" cy="415.3" r="2.9" fill="none" stroke="#c6c6c6" stroke-width="0.8"/>
<circle cx="391.6" cy="415.5" r="2.9" fill="none" stroke="#c6c6c6" stroke-width="0.8"/>
<circle cx="399.8" cy="413.7" r="2.9" fill="none" stroke="#c6c6c6" stroke-width="0.8"/>
<circle cx="403.7" cy="412.1" r="2.9" fill="none" stroke="#c6c6c6" stroke-width="0.8"/>
<circle cx="408.4" cy="411" r="2.9" fill="none" stroke="#c6c6c6" stroke-width="0.8"/>
<circle cx="414.5" cy="407.9" r="2.9" fill="none" stroke="#c6c6c6" stroke-width="0.8"/>
<circle cx="419.5" cy="405.1" r="2.9" fill="none" stroke="#c6c6c6" stroke-width="0.8"/>
<circle cx="422.2" cy="400.9" r="2.9" fill="none" stroke="#c6c6c6" stroke-width="0.8"/>
<circle cx="428.9" cy="399.4" r="2.9" fill="none" stroke="#c6c6c6" stroke-width="0.8"/>
<circle cx="432.7" cy="395.1" r="2.9" fill="none" stroke="#c6c6c6" stroke-width="0.8"/>
<circle cx="434.6" cy="390.6" r="2.9" fill="none" stroke="#c6c6c6" stroke-width="0.8"/>
<circle cx="440.8" cy="387.1" r="2.9" fill="none" stroke="#c6c6c6" stroke-width="0.8"/>
<circle cx="447.4" cy="385.6" r="2.9" fill="none" stroke="#c6c6c6" stroke-width="0.8"/>
<circle cx="450.2" cy="385.4" r="2.9" fill="none" stroke="#c6c6c6" stroke-width="0.8"/>
<circle cx="456.5" cy="385.7" r="2.9" fill="none" stroke="#c6c6c6" stroke-width="0.8"/>
<circle cx="462.8" cy="386.6" r="2.9" fill="none" stroke="#c6c6c6" stroke-width="0.8"/>
<circle cx="467.3" cy="389.5" r="2.9" fill="none" stroke="#c6c6c6" stroke-width="0.8"/>
<circle cx="471.1" cy="392.2" r="2.9" fill="none" stroke="#c6c6c6" stroke-width="0.8"/>
<circle cx="476.7" cy="397.5" r="2.9" fill="none" stroke="#c6c6c6" stroke-width="0.8"/>
<circle cx="479.5" cy="403" r="2.9" fill="none" stroke="#c6c6c6" stroke-width="0.8"/>
<circle cx="482.6" cy="409.6" r="2.9" fill="none" stroke="#c6c6c6" stroke-width="0.8"/>
<circle cx="484.8" cy="414.7" r="2.9" fill="none" stroke="#c6c6c6" stroke-width="0.8"/>
<circle cx="487.3" cy="419.9" r="2.9" fill="none" stroke="#c6c6c6" stroke-width="0.8"/>
<circle cx="489.2" cy="422.9" r="2.9" fill="none" stroke="#c6c6c6" stroke-width="0.8"/>
<circle cx="496.2" cy="425.6" r="2.9" fill="none" stroke="#c6c6c6" stroke-width="0.8"/>
<circle cx="500.9" cy="429.1" r="2.9" fill="none" stroke="#c6c6c6" stroke-width="0.8"/>
<circle cx="505.3" cy="428.2" r="2.9" fill="none" stroke="#c6c6c6" stroke-width="0.8"/>
<circle cx="512.5" cy="428.4" r="2.9" fill="none" stroke="#c6c6c6" stroke-width="0.8"/>
<circle cx="521.5" cy="428.2" r="2.9" fill="none" stroke="#c6c6c6" stroke-width="0.8"/>
<circle cx="526.2" cy="426.7" r="2.9" fill="none" stroke="#c6c6c6" stroke-width="0.8"/>
<circle cx="536.1" cy="428.5" r="2.9" fill="none" stroke="#c6c6c6" stroke-width="0.8"/>
<circle cx="542.6" cy="426.2" r="2.9" fill="none" stroke="#c6c6c6" stroke-width="0.8"/>
<circle cx="548.7" cy="426.5" r="2.9" fill="none" stroke="#c6c6c6" stroke-width="0.8"/>
<circle cx="553" cy="425.6" r="2.9" fill="none" stroke="#c6c6c6" stroke-width="0.8"/>
<circle cx="558.7" cy="424.4" r="2.9" fill="none" stroke="#c6c6c6" stroke-width="0.8"/>
<circle cx="561.6" cy="420.8" r="2.9" fill="none" stroke="#c6c6c6" stroke-width="0.8"/>
<circle cx="565.6" cy="420.1" r="2.9" fill="none" stroke="#c6c6c6" stroke-width="0.8"/>
<circle cx="569.3" cy="415.2" r="2.9" fill="none" stroke="#c6c6c6" stroke-width="0.8"/>
<circle cx="573.7" cy="408.5" r="2.9" fill="none" stroke="#c6c6c6" stroke-width="0.8"/>
<circle cx="577.6" cy="404.6" r="2.9" fill="none" stroke="#c6c6c6" stroke-width="0.8"/>
<circle cx="584.2" cy="397.5" r="2.9" fill="none" stroke="#c6c6c6" stroke-width="0.8"/>
<circle cx="587.9" cy="393.5" r="2.9" fill="none" stroke="#c6c6c6" stroke-width="0.8"/>
<circle cx="592.2" cy="389.6" r="2.9" fill="none" stroke="#c6c6c6" stroke-width="0.8"/>
<circle cx="594.4" cy="384.7" r="2.9" fill="none" stroke="#c6c6c6" stroke-width="0.8"/>
<circle cx="600" cy="377.2" r="2.9" fill="none" stroke="#c6c6c6" stroke-width="0.8"/>
<circle cx="603.7" cy="370.3" r="2.9" fill="none" stroke="#c6c6c6" stroke-width="0.8"/>
<circle cx="605.6" cy="364.3" r="2.9" fill="none" stroke="#c6c6c6" stroke-width="0.8"/>
<circle cx="610.8" cy="359.9" r="2.9" fill="none" stroke="#c6c6c6" stroke-width="0.8"/>
<circle cx="612.6" cy="360.3" r="2.9" fill="none" stroke="#c6c6c6" stroke-width="0.8"/>
<circle cx="619.2" cy="361.5" r="2.9" fill="none" stroke="#c6c6c6" stroke-width="0.8"/>
<circle cx="623.4" cy="365.6" r="2.9" fill="none" stroke="#c6c6c6" stroke-width="0.8"/>
<circle cx="624.8" cy="371.7" r="2.9" fill="none" stroke="#c6c6c6" stroke-width="0.8"/>
<circle cx="628.4" cy="377.7" r="2.9" fill="none" stroke="#c6c6c6" stroke-width="0.8"/>
<circle cx="630.4" cy="385.7" r="2.9" fill="none" stroke="#c6c6c6" stroke-width="0.8"/>
<circle cx="635.9" cy="396.1" r="2.9" fill="none" stroke="#c6c6c6" stroke-width="0.8"/>
<circle cx="637" cy="399" r="2.9" fill="none" stroke="#c6c6c6" stroke-width="0.8"/>
<circle cx="637" cy="405" r="2.9" fill="none" stroke="#c6c6c6" stroke-width="0.8"/>
<circle cx="639.2" cy="409.1" r="2.9" fill="none" stroke="#c6c6c6" stroke-width="0.8"/>
<circle cx="639" cy="412.7" r="2.9" fill="none" stroke="#c6c6c6" stroke-width="0.8"/>
<circle cx="642.7" cy="419.7" r="2.9" fill="none" stroke="#c6c6c6" stroke-width="0.8"/>
<circle cx="644.2" cy="424.3" r="2.9" fill="none" stroke="#c6c6c6" stroke-width="0.8"/>
<circle cx="644.1" cy="429.1" r="2.9" fill="none" stroke="#c6c6c6" stroke-width="0.8"/>
<circle cx="648" cy="436" r="2.9" fill="none" stroke="#c6c6c6" stroke-width="0.8"/>
<circle cx="649.6" cy="441.9" r="2.9" fill="none" stroke="#c6c6c6" stroke-width="0.8"/>
<circle cx="652.9" cy="445.6" r="2.9" fill="none" stroke="#c6c6c6" stroke-width="0.8"/>
<circle cx="657.1" cy="452.6" r="2.9" fill="none" stroke="#c6c6c6" stroke-width="0.8"/>
<circle cx="659.7" cy="452.9" r="2.9" fill="none" stroke="#c6c6c6" stroke-width="0.8"/>
<circle cx="667.3" cy="454.5" r="2.9" fill="none" stroke="#c6c6c6" stroke-width="0.8"/>
<circle cx="384.4" cy="533.7" r="3" fill="none" stroke="#bdbdbd" stroke-width="0.8"/>
<circle cx="382.2" cy="541" r="3" fill="none" stroke="#bdbdbd" stroke-width="0.8"/>
<circle cx="389.1" cy="532.7" r="3" fill="none" stroke="#bdbdbd" stroke-width="0.8"/>
<circle cx="398.4" cy="534.4" r="3" fill="none" stroke="#bdbdbd" stroke-width="0.8"/>
<circle cx="405.9" cy="533.4" r="3" fill="none" stroke="#bdbdbd" stroke-width="0.8"/>
<circle cx="411.6" cy="533.8" r="3" fill="none" stroke="#bdbdbd" stroke-width="0.8"/>
<circle cx="412.8" cy="537.7" r="3" fill="none" stroke="#bdbdbd" stroke-width="0.8"/>
<circle cx="417" cy="535" r="3" fill="none" stroke="#bdbdbd" stroke-width="0.8"/>
<circle cx="420.7" cy="523.7" r="3" fill="none" stroke="#bdbdbd" stroke-width="0.8"/>
<circle cx="426.4" cy="524.7" r="3" fill="none" stroke="#bdbdbd" stroke-width="0.8"/>
<circle cx="426.1" cy="515.9" r="3" fill="none" stroke="#bdbdbd" stroke-width="0.8"/>
<circle cx="435.9" cy="514.9" r="3" fill="none" stroke="#bdbdbd" stroke-width="0.8"/>
<circle cx="441.1" cy="515" r="3" fill="none" stroke="#bdbdbd" stroke-width="0.8"/>
<circle cx="445.4" cy="514.4" r="3" fill="none" stroke="#bdbdbd" stroke-width="0.8"/>
<circle cx="447" cy="517" r="3" fill="none" stroke="#bdbdbd" stroke-width="0.8"/>
<circle cx="448.7" cy="522" r="3" fill="none" stroke="#bdbdbd" stroke-width="0.8"/>
<circle cx="454.6" cy="522.2" r="3" fill="none" stroke="#bdbdbd" stroke-width="0.8"/>
<circle cx="465.2" cy="524.3" r="3" fill="none" stroke="#bdbdbd" stroke-width="0.8"/>
<circle cx="462.1" cy="530.1" r="3" fill="none" stroke="#bdbdbd" stroke-width="0.8"/>
<circle cx="471.3" cy="526.6" r="3" fill="none" stroke="#bdbdbd" stroke-width="0.8"/>
<circle cx="470.1" cy="531" r="3" fill="none" stroke="#bdbdbd" stroke-width="0.8"/>
<circle cx="473.6" cy="537.5" r="3" fill="none" stroke="#bdbdbd" stroke-width="0.8"/>
<circle cx="481" cy="537.9" r="3" fill="none" stroke="#bdbdbd" stroke-width="0.8"/>
<circle cx="483.9" cy="543.4" r="3" fill="none" stroke="#bdbdbd" stroke-width="0.8"/>
<circle cx="492.9" cy="544.2" r="3" fill="none" stroke="#bdbdbd" stroke-width="0.8"/>
<circle cx="493.8" cy="548.5" r="3" fill="none" stroke="#bdbdbd" stroke-width="0.8"/>
<circle cx="497.6" cy="548.7" r="3" fill="none" stroke="#bdbdbd" stroke-width="0.8"/>
<circle cx="504.4" cy="546.9" r="3" fill="none" stroke="#bdbdbd" stroke-width="0.8"/>
<circle cx="509.8" cy="546.9" r="3" fill="none" stroke="#bdbdbd" stroke-width="0.8"/>
<circle cx="508.8" cy="549.6" r="3" fill="none" stroke="#bdbdbd" stroke-width="0.8"/>
<circle cx="515.8" cy="542.9" r="3" fill="none" stroke="#bdbdbd" stroke-width="0.8"/>
<circle cx="521.7" cy="545.3" r="3" fill="none" stroke="#bdbdbd" stroke-width="0.8"/>
<circle cx="532.4" cy="539.2" r="3" fill="none" stroke="#bdbdbd" stroke-width="0.8"/>
<circle cx="532.7" cy="533.6" r="3" fill="none" stroke="#bdbdbd" stroke-width="0.8"/>
<circle cx="541.3" cy="533.2" r="3" fill="none" stroke="#bdbdbd" stroke-width="0.8"/>
<circle cx="543.5" cy="534.2" r="3" fill="none" stroke="#bdbdbd" stroke-width="0.8"/>
<circle cx="547.1" cy="534.2" r="3" fill="none" stroke="#bdbdbd" stroke-width="0.8"/>
<circle cx="551.5" cy="531.9" r="3" fill="none" stroke="#bdbdbd" stroke-width="0.8"/>
<circle cx="560.4" cy="538.7" r="3" fill="none" stroke="#bdbdbd" stroke-width="0.8"/>
<circle cx="567.1" cy="532.4" r="3" fill="none" stroke="#bdbdbd" stroke-width="0.8"/>
<circle cx="570.9" cy="527.8" r="3" fill="none" stroke="#bdbdbd" stroke-width="0.8"/>
<circle cx="571.5" cy="529.4" r="3" fill="none" stroke="#bdbdbd" stroke-width="0.8"/>
<circle cx="579" cy="519.6" r="3" fill="none" stroke="#bdbdbd" stroke-width="0.8"/>
<circle cx="581" cy="513.5" r="3" fill="none" stroke="#bdbdbd" stroke-width="0.8"/>
<circle cx="580.4" cy="506.9" r="3" fill="none" stroke="#bdbdbd" stroke-width="0.8"/>
<circle cx="586.7" cy="501.4" r="3" fill="none" stroke="#bdbdbd" stroke-width="0.8"/>
<circle cx="584.3" cy="496.1" r="3" fill="none" stroke="#bdbdbd" stroke-width="0.8"/>
<circle cx="588.1" cy="488.8" r="3" fill="none" stroke="#bdbdbd" stroke-width="0.8"/>
<circle cx="592.8" cy="489.8" r="3" fill="none" stroke="#bdbdbd" stroke-width="0.8"/>
<circle cx="595.5" cy="492.9" r="3" fill="none" stroke="#bdbdbd" stroke-width="0.8"/>
<circle cx="594" cy="491.6" r="3" fill="none" stroke="#bdbdbd" stroke-width="0.8"/>
<circle cx="604.3" cy="493" r="3" fill="none" stroke="#bdbdbd" stroke-width="0.8"/>
<circle cx="604.3" cy="499" r="3" fill="none" stroke="#bdbdbd" stroke-width="0.8"/>
<circle cx="611.1" cy="498.7" r="3" fill="none" stroke="#bdbdbd" stroke-width="0.8"/>
<circle cx="610.9" cy="510.1" r="3" fill="none" stroke="#bdbdbd" stroke-width="0.8"/>
<circle cx="615.8" cy="506.9" r="3" fill="none" stroke="#bdbdbd" stroke-width="0.8"/>
<circle cx="617" cy="512.3" r="3" fill="none" stroke="#bdbdbd" stroke-width="0.8"/>
<circle cx="625.8" cy="515" r="3" fill="none" stroke="#bdbdbd" stroke-width="0.8"/>
<circle cx="623.7" cy="517.2" r="3" fill="none" stroke="#bdbdbd" stroke-width="0.8"/>
<circle cx="629.6" cy="522.1" r="3" fill="none" stroke="#bdbdbd" stroke-width="0.8"/>
<circle cx="631.8" cy="529.7" r="3" fill="none" stroke="#bdbdbd" stroke-width="0.8"/>
<circle cx="640.3" cy="535.6" r="3" fill="none" stroke="#bdbdbd" stroke-width="0.8"/>
<circle cx="634.5" cy="536.8" r="3" fill="none" stroke="#bdbdbd" stroke-width="0.8"/>
<circle cx="644.1" cy="539.5" r="3" fill="none" stroke="#bdbdbd" stroke-width="0.8"/>
<circle cx="640.9" cy="548.5" r="3" fill="none" stroke="#bdbdbd" stroke-width="0.8"/>
<circle cx="645.6" cy="555.5" r="3" fill="none" stroke="#bdbdbd" stroke-width="0.8"/>
<circle cx="651.7" cy="556.9" r="3" fill="none" stroke="#bdbdbd" stroke-width="0.8"/>
<circle cx="652" cy="558.2" r="3" fill="none" stroke="#bdbdbd" stroke-width="0.8"/>
<circle cx="656.7" cy="557.9" r="3" fill="none" stroke="#bdbdbd" stroke-width="0.8"/>
<circle cx="665.3" cy="559.4" r="3" fill="none" stroke="#bdbdbd" stroke-width="0.8"/>
<circle cx="672.4" cy="563.8" r="3" fill="none" stroke="#bdbdbd" stroke-width="0.8"/>
<line x1="589.9" y1="405" x2="589.9" y2="562" stroke="#5a7fa3" stroke-width="1.8" stroke-dasharray="9.2,8.7"/>
<line x1="612.6" y1="388" x2="612.6" y2="562" stroke="#5a7fa3" stroke-width="1.8" stroke-dasharray="9.2,8.7"/>
<line x1="633.4" y1="425" x2="633.4" y2="562" stroke="#5a7fa3" stroke-width="1.8" stroke-dasharray="9.2,8.7"/>
<polyline points="380.3,418.4 382.4,418.2 385.3,417.9 388.8,417.5 392.4,417.1 395.9,416.7 398.9,416.2 401.4,415.8 403.7,415.4 405.8,415 407.8,414.5 409.9,413.8 412,412.9 414.2,411.6 416.4,410.1 418.6,408.4 420.8,406.6 423,404.8 425.2,403 427.4,401.2 429.5,399.2 431.6,397.3 433.8,395.4 436,393.6 438.3,392.1 440.8,390.8 443.4,389.5 446.1,388.5 448.7,387.6 451.3,386.9 453.6,386.6 455.7,386.6 457.7,386.9 459.5,387.4 461.3,388.1 462.9,389 464.6,389.9 466.2,390.9 467.7,392 469.2,393.3 470.6,394.6 472,396.1 473.3,397.6 474.5,399.2 475.6,400.8 476.6,402.6 477.6,404.4 478.7,406.4 479.9,408.5 481.2,410.9 482.6,413.6 484,416.4 485.5,419.2 487.1,421.7 488.7,423.8 490.3,425.5 491.8,426.9 493.4,428 495.2,429 497.2,429.7 499.6,430.4 502.4,430.9 505.6,431.2 509.1,431.3 512.7,431.2 516.4,431.1 520,431 523.7,430.8 527.6,430.4 531.6,430 535.5,429.6 539.2,429.1 542.6,428.7 545.7,428.4 548.6,428.2 551.3,428 553.8,427.7 556.2,427.3 558.5,426.5 560.6,425.5 562.5,424.3 564.3,422.9 566,421.3 567.8,419.5 569.8,417.4 572,415 574.2,412.2 576.6,409.2 579,406.2 581.2,403.2 583.4,400.4 585.4,397.9 587.3,395.5 589.2,393.1 591,390.8 592.8,388.3 594.7,385.7 596.6,382.7 598.6,379.5 600.6,376.1 602.6,372.8 604.4,369.9 606,367.6 607.4,365.8 608.6,364.5 609.7,363.5 610.7,362.7 611.7,362.3 612.8,362 613.9,361.9 615,362 616.1,362.4 617.2,363 618.3,364 619.6,365.4 621,367.2 622.4,369.4 624,372 625.5,374.8 627.1,377.9 628.6,381.2 630.1,384.8 631.7,388.7 633.2,392.8 634.8,397.1 636.3,401.6 637.7,406.1 639.1,410.9 640.4,416.1 641.7,421.4 643,426.5 644.3,431.3 645.6,435.5 646.9,439.1 648.2,442.2 649.5,445 650.8,447.5 652.1,449.6 653.5,451.4 655,452.8 656.5,453.7 658.1,454.4 659.6,454.8 661.2,455.1 662.6,455.4 664,455.7 665.5,455.8 666.9,455.9 668.1,455.9 669.2,455.9 670,455.9" fill="none" stroke="#e8272b" stroke-width="2" stroke-linejoin="round" stroke-linecap="round" />
<polyline points="380.3,539.4 381.8,539.3 383.9,539.1 386.4,539 389.2,538.8 391.9,538.6 394.5,538.4 397,538.3 399.7,538.3 402.4,538.3 405,538.2 407.5,537.9 409.8,537.3 411.8,536.3 413.7,535.1 415.4,533.6 417.1,532 418.8,530.3 420.8,528.5 423,526.4 425.4,523.8 427.8,521.2 430.3,518.7 432.7,516.6 435,515.4 437.2,515.1 439.2,515.4 441.3,516.3 443.2,517.4 445.2,518.5 447.1,519.3 449,519.9 450.9,520.4 452.8,520.9 454.6,521.5 456.3,522.2 458,523 459.6,524.1 461.1,525.4 462.5,526.9 464,528.3 465.4,529.6 466.8,530.7 468.3,531.5 469.8,532 471.3,532.4 472.8,532.7 474.2,533.3 475.5,534 476.7,535 477.8,536.2 478.8,537.5 479.8,538.9 480.9,540.3 482.1,541.6 483.4,543 484.7,544.4 486.1,545.9 487.6,547.2 489.2,548.4 490.9,549.3 492.8,549.9 494.9,550.2 497.2,550.4 499.5,550.4 501.8,550.2 504,550 506.1,549.6 508.2,549.1 510.3,548.4 512.5,547.7 514.7,546.9 517.1,546 519.7,545 522.5,543.9 525.5,542.7 528.4,541.6 531.1,540.5 533.6,539.7 535.8,539.1 537.8,538.7 539.6,538.4 541.3,538.2 543.1,538 544.9,537.9 546.8,537.9 548.7,538 550.5,538.2 552.4,538.4 554.3,538.5 556.2,538.5 558.1,538.5 560,538.5 562,538.5 563.9,538.2 565.7,537.6 567.5,536.3 569.2,534.4 570.8,531.9 572.3,528.9 573.8,525.8 575.2,522.5 576.6,519.3 577.9,516 579,512.3 580.1,508.6 581.2,505 582.3,501.7 583.4,498.9 584.5,496.5 585.7,494.4 586.8,492.6 587.9,491.2 589.1,490.1 590.2,489.4 591.3,489.3 592.4,489.6 593.4,490.4 594.5,491.4 595.6,492.4 596.9,493.3 598.3,494.1 599.8,495 601.4,496 603,497 604.6,497.9 606,498.9 607.3,499.8 608.4,500.5 609.5,501.3 610.6,502.2 611.7,503.3 612.8,504.6 613.9,506.3 615,508.4 616.1,510.6 617.2,512.9 618.3,515 619.6,517 621,518.7 622.5,520.4 624.1,521.9 625.7,523.4 627.2,524.8 628.6,526.1 629.9,527.3 631,528.2 632.1,529.1 633.2,530.1 634.3,531.3 635.4,532.9 636.5,535.1 637.6,537.6 638.7,540.4 639.8,543.3 640.9,546.2 642.2,548.7 643.6,551.1 645.1,553.4 646.6,555.7 648.2,557.8 649.8,559.7 651.3,561.2 652.8,562.3 654.3,563.1 655.8,563.7 657.3,564 658.8,564.3 660.3,564.6 662,564.8 663.8,565 665.7,565 667.5,565 668.9,565 670,565" fill="none" stroke="#ec8c92" stroke-width="2" stroke-linejoin="round" stroke-linecap="round" />
<text transform="translate(524.5,365.4) scale(1,1.04)" font-size="14.5" fill="#000" text-anchor="start" font-weight="bold" >Mn<tspan font-size="10.1" dy="-5">4+</tspan></text>
<text transform="translate(524.5,383.9) scale(1,1.04)" font-size="14.5" fill="#000" text-anchor="start" font-weight="bold" >35.3%</text>
<text transform="translate(571.6,365.4) scale(1,1.04)" font-size="14.5" fill="#000" text-anchor="start" font-weight="bold" >Mn<tspan font-size="10.1" dy="-5">3+</tspan></text>
<text transform="translate(571.6,383.9) scale(1,1.04)" font-size="14.5" fill="#000" text-anchor="start" font-weight="bold" >46.3%</text>
<text transform="translate(627.5,365.4) scale(1,1.04)" font-size="14.5" fill="#000" text-anchor="start" font-weight="bold" >Mn<tspan font-size="10.1" dy="-5">2+</tspan></text>
<text transform="translate(627.5,383.9) scale(1,1.04)" font-size="14.5" fill="#000" text-anchor="start" font-weight="bold" >18.4%</text>
<text transform="translate(544.9,467) scale(1,1.04)" font-size="14.5" fill="#000" text-anchor="start" font-weight="bold" >Mn<tspan font-size="10.1" dy="-5">3+</tspan></text>
<text transform="translate(544.9,485.8) scale(1,1.04)" font-size="14.5" fill="#000" text-anchor="start" font-weight="bold" >29.9%</text>
<text transform="translate(503.5,501.5) scale(1,1.04)" font-size="14.5" fill="#000" text-anchor="start" font-weight="bold" >Mn<tspan font-size="10.1" dy="-5">4+</tspan></text>
<text transform="translate(503.5,520.4) scale(1,1.04)" font-size="14.5" fill="#000" text-anchor="start" font-weight="bold" >55.1%</text>
<text transform="translate(627.5,506.2) scale(1,1.04)" font-size="14.5" fill="#000" text-anchor="start" font-weight="bold" >Mn<tspan font-size="10.1" dy="-5">2+</tspan></text>
<text transform="translate(627.5,525) scale(1,1.04)" font-size="14.5" fill="#000" text-anchor="start" font-weight="bold" >15.0%</text>
<line x1="557.3" y1="386.9" x2="577.4" y2="415.2" stroke="#1a1a1a" stroke-width="0.6" />
<polygon points="580.6,419.7 575.9,416.3 579,414.1" fill="#1a1a1a"/>
<line x1="585.6" y1="386.9" x2="605.1" y2="402.6" stroke="#1a1a1a" stroke-width="0.6" />
<polygon points="609.4,406.1 603.9,404.1 606.3,401.2" fill="#1a1a1a"/>
<line x1="652.4" y1="391.4" x2="640.4" y2="431.3" stroke="#1a1a1a" stroke-width="0.6" />
<polygon points="638.8,436.6 638.6,430.8 642.2,431.9" fill="#1a1a1a"/>
<line x1="549.4" y1="518.2" x2="576.1" y2="537.6" stroke="#1a1a1a" stroke-width="0.6" />
<polygon points="580.6,540.8 575,539.1 577.3,536" fill="#1a1a1a"/>
<line x1="574.3" y1="486.5" x2="609.3" y2="522.2" stroke="#1a1a1a" stroke-width="0.6" />
<polygon points="613.2,526.1 608,523.5 610.7,520.8" fill="#1a1a1a"/>
<line x1="647.9" y1="531.8" x2="639.4" y2="545.2" stroke="#1a1a1a" stroke-width="0.6" />
<polygon points="636.5,549.9 637.8,544.2 641,546.3" fill="#1a1a1a"/>
<text transform="translate(383.7,446.8) scale(1,1.04)" font-size="15.5" fill="#6b90c9" text-anchor="start" font-weight="bold" >CoMn<tspan font-size="11.2" dy="4.8">2</tspan><tspan dy="-4.8">O</tspan><tspan font-size="11.2" dy="4.8">4</tspan><tspan dy="-4.8"></tspan></text>
<text transform="translate(383.7,565.7) scale(1,1.04)" font-size="15.5" fill="#ee9a9e" text-anchor="start" font-weight="bold" >CoMn<tspan font-size="11.2" dy="4.8">2</tspan><tspan dy="-4.8">O</tspan><tspan font-size="11.2" dy="4.8">4</tspan><tspan dy="-4.8">-S</tspan></text>
<text transform="translate(512.1,578.1) scale(1,1.04)" font-size="12.2" fill="#3f9a5e" text-anchor="start" font-weight="bold" >652.0 eV</text>
<text transform="translate(566.4,578.1) scale(1,1.04)" font-size="12.2" fill="#3f78b8" text-anchor="start" font-weight="bold" >643.8 eV</text>
<text transform="translate(619.6,578.1) scale(1,1.04)" font-size="12.2" fill="#ee9aa0" text-anchor="start" font-weight="bold" >642.2 eV</text>
<rect x="32.8" y="649.9" width="292.3" height="238.3" fill="none" stroke="#000" stroke-width="1.6"/>
<line x1="32.8" y1="888.2" x2="32.8" y2="892.8" stroke="#000" stroke-width="1.5" />
<line x1="114.2" y1="888.2" x2="114.2" y2="892.8" stroke="#000" stroke-width="1.5" />
<line x1="195.7" y1="888.2" x2="195.7" y2="892.8" stroke="#000" stroke-width="1.5" />
<line x1="277.1" y1="888.2" x2="277.1" y2="892.8" stroke="#000" stroke-width="1.5" />
<line x1="73.5" y1="888.2" x2="73.5" y2="890.8" stroke="#000" stroke-width="1.5" />
<line x1="155" y1="888.2" x2="155" y2="890.8" stroke="#000" stroke-width="1.5" />
<line x1="236.4" y1="888.2" x2="236.4" y2="890.8" stroke="#000" stroke-width="1.5" />
<line x1="317.9" y1="888.2" x2="317.9" y2="890.8" stroke="#000" stroke-width="1.5" />
<text transform="translate(32.8,908.2) scale(1,1.04)" font-size="15.5" fill="#000" text-anchor="middle" font-weight="bold" >400</text>
<text transform="translate(114.2,908.2) scale(1,1.04)" font-size="15.5" fill="#000" text-anchor="middle" font-weight="bold" >1400</text>
<text transform="translate(195.7,908.2) scale(1,1.04)" font-size="15.5" fill="#000" text-anchor="middle" font-weight="bold" >2400</text>
<text transform="translate(277.1,908.2) scale(1,1.04)" font-size="15.5" fill="#000" text-anchor="middle" font-weight="bold" >3400</text>
<text transform="translate(179,934.6) scale(1,1.04)" font-size="20.3" fill="#000" text-anchor="middle" font-weight="bold" >Wavenumber (cm<tspan font-size="13" dy="-7">-1</tspan><tspan dy="7">)</tspan></text>
<text transform="translate(20.2,769) rotate(-90) scale(1,1.04)" font-size="20" font-weight="bold" text-anchor="middle">Intensity (a.u.)</text>
<line x1="46.1" y1="676" x2="46.1" y2="835.2" stroke="#c193f0" stroke-width="2" stroke-dasharray="5,4.4"/>
<line x1="53.7" y1="679.5" x2="53.7" y2="861.5" stroke="#ebdf8a" stroke-width="2" stroke-dasharray="5,4.4"/>
<polyline points="33.6,678.7 34.4,678 35.6,677.1 36.6,676.5 37.2,675.7 37.5,675.3 38,677.2 38.7,681.8 39.4,688.9 40.2,699.1 41,714.9 41.7,734 42.4,750.2 43,760.9 43.5,768.7 43.9,775 44.2,780.6 44.4,784.7 44.6,786.3 44.9,784.9 45.2,781 45.5,775 45.7,765.8 45.9,754.4 46.1,745 46.3,738.5 46.5,733.9 46.8,731.9 47.2,733.4 47.7,737.5 48.2,742.9 48.7,749 49.2,756.3 49.7,765 50.3,776 50.9,788.4 51.5,800 52.1,811.8 52.8,822.8 53.4,827.2 54,821 54.5,808.1 55,795 55.4,784.6 55.7,773.8 56,760 56.3,739 56.6,715 57,697.6 57.5,690.8 58,690.6 58.5,694.7 59,704.7 59.5,718.9 59.9,729.8 60.3,734.3 60.6,735.6 61,735.6 61.5,735.3 62.1,733.7 62.8,729.8 63.8,720.9 64.9,709.8 65.8,703.5 66.4,707.7 66.8,716.7 67.2,721 67.7,715.5 68.1,705.3 68.7,696.2 69.4,690.3 70.1,685.4 70.9,681.6 71.8,678.6 72.8,676.5 73.8,675.7 74.8,676.8 75.8,679.3 76.7,681.6 77.5,683.9 78.2,686.1 78.9,686.7 79.6,683.9 80.3,679.5 81.1,677.2 82.3,679.4 83.6,683.8 84.7,686.7 85.4,686.1 85.8,684 86.2,683 86.7,684.9 87.1,687.9 87.7,688.9 88.3,685.8 89,680.8 89.9,677.2 91.2,676.9 92.8,678 94.2,678.7 95.2,677.9 96,676.6 97.2,675.7 99,675.4 101.2,675.6 103,676.5 104.2,677.6 105.1,679.5 105.9,684.5 106.7,694.1 107.4,706.8 108,720 108.6,733.5 109.1,747.5 109.6,760 110.1,770 110.5,778.5 111,786.3 111.6,794.3 112.3,801.6 112.9,806 113.5,806.2 114,803.6 114.5,800 115,795.1 115.6,789.3 116.1,785.5 116.6,784.4 117.1,785.4 117.6,789.2 118.3,797.3 119,808.3 119.8,818.4 120.8,827.6 121.8,836 122.7,839.6 123.3,837.1 123.7,829.8 124.2,818.4 124.9,801.7 125.6,780.8 126.4,760 127,739.1 127.6,718.3 128.5,701.7 130,691.4 131.9,686 133.6,681.1 134.5,680.1 135.1,683.1 136.9,682.3 138.1,682.6 139.3,682.7 140.5,682.8 142.1,681.1 143.7,682.1 145.3,681.2 146.6,681.6 147.8,679.1 149.1,681.2 150.4,679 151.8,680.5 153.1,679 154.5,679.9 155.9,677.7 157.3,677.8 158.8,676.5 160.3,678.2 161.7,677.2 163.1,676.2 164.5,676 165.8,675.9 167.2,676.5 168.4,676.3 169.7,676.4 170.9,677.2 172.2,677 173.7,677.4 175.2,677.6 176.8,678.3 178,678.7 179.3,679.3 180.6,679.9 182.1,681.2 183.5,681.8 185.7,684.1 187.3,686.6 188.2,689.3 188.6,692.1 189,695 189.6,699.1 190.1,703.2 190.7,703.4 191.2,695.4 191.8,683.5 192.3,676.5 192.7,679.8 193.1,687.9 194,693.3 195.7,692.4 198,688.6 199.4,686.6 200.7,684.9 202.1,683.2 203.6,681.8 205.2,680.3 206.8,678.8 208.1,678 209.5,677.6 210.8,676.5 212.1,676.5 213.5,675.9 214.8,675.5 216.2,675.5 217.4,675.7 218.6,675.7 219.8,675 221,675.5 222.2,675.3 223.6,675.6 224.9,675.5 226.3,675.2 227.6,675.5 228.9,675.8 230.2,675.9 231.5,675.9 233,676 234.6,676.6 236.1,677.5 237.7,678.2 239.4,679.3 241,680.8 242.7,682.1 244.4,684.2 246,686.1 247.7,688.3 248.9,690 250.1,691.9 251.4,693.7 252.6,695.9 253.8,698.1 255,699.9 256.4,702.8 257.8,705.1 258.9,708 259.2,709.9 260,712.9 262.1,717.8 263.4,721.1 264.7,723.7 266.1,727.2 267.4,730 268.7,733.8 270,737.2 271.3,740.9 272.6,744.9 274.9,750.9 276.7,754 278.2,755.5 279.4,756.8 280.3,757.9 281,758.9 281.6,761.3 282.2,766.4 282.6,773.1 283.1,779.2 283.6,784.9 284.1,790.1 284.6,792.6 285.1,791.9 285.5,788.6 286.1,782.1 286.8,770.4 287.6,755.5 288.3,743.4 288.8,736.9 289.3,733.2 289.8,730 290.5,727.3 291.3,725 292,721.1 292.6,713.7 293,704.7 293.5,697.2 294,692.6 294.5,689.5 295,686.8 295.5,683.2 296,679.9 296.5,679.4 296.6,689.9 297.3,692.1 298,694 298.7,686.6 299.4,687.3 300.1,687.7 300.8,692.4 301.5,681.4 302.2,692 302.9,681.4 303.6,680.9 304.3,687.4 305,687 305.7,681.8 306.4,690.5 307.1,682.8 307.8,680.4 308.5,680.6 309.2,693.1 309.9,692.8 310.6,684.4 311.3,685.9 312,680.4 312.7,680.9 313.4,685.4 314.1,684.2 314.8,680 315.5,688.6 316.2,679.7 316.9,680.5 317.6,680.1 318.3,684.7 319,680.1 319.7,687.7 320.4,681 321.1,689.3 321.8,684.3 322.5,689.1 323.2,682 324,677.9" fill="none" stroke="#6b90c9" stroke-width="1.5" stroke-linejoin="round" stroke-linecap="round" />
<polyline points="33.6,681.6 34.2,680.6 35,679.2 35.8,678.7 36.5,678 37.2,678.2 38,683 39.2,697.7 40.5,717.1 41.7,729.8 42.6,729.4 43.3,722.3 43.9,716.6 44.4,716 44.8,716.6 45.3,715.2 46,709.1 46.7,700.8 47.5,694.7 48.2,692.2 49,691.8 49.7,693.3 50.4,696.9 51.2,702.5 51.9,709.3 52.6,719.3 53.4,730.6 54.1,737 54.9,734.6 55.6,727.3 56.3,721 56.8,716.8 57.3,713.6 57.7,713.7 58.2,718.6 58.7,726.7 59.2,735.6 59.7,746.3 60.2,757.7 60.7,764.8 61.4,765 62.1,760.9 62.8,754.6 63.5,744.5 64.3,732.4 65,725.4 65.7,730 66.5,739.9 67.2,742.9 67.9,731.7 68.5,713.6 69.4,699.1 70.7,692.1 72.3,688.6 73.8,687.4 75.3,689.9 76.8,694.6 78.2,696.2 79.5,690.8 80.7,682.2 81.8,676.5 82.7,677.1 83.4,680.6 84,683 84.5,682.4 85,680.8 85.5,680.1 86.2,682 86.9,684.8 87.7,686 88.4,683.4 89.1,679.2 89.9,677.2 91,680.2 92.2,685.4 93.5,688.1 94.7,685.7 95.9,680.9 97.2,677.2 98.6,675.7 100,675.4 101.5,676.5 103,678.4 104.5,681.7 105.9,688.9 107,702.8 108,720.4 108.8,735.6 109.4,745.4 109.8,752.7 110.3,760 111,769.1 111.7,778.3 112.5,784.8 113.2,785.6 114,783.8 114.7,785.5 115.4,794.2 116.1,806.5 116.9,818.4 117.8,829.2 118.8,839.5 119.8,847.6 120.8,853.2 121.8,856.6 122.7,856.4 123.4,852.3 124,844.6 124.6,833 125.2,815.6 125.8,794.3 126.4,774.6 126.9,758.1 127.4,743.1 128,730 128.6,719.1 129.4,710 130.2,701.7 131,693.2 131.9,685.4 133.6,679.9 136,677.8 137.5,677.7 139.1,678 140.6,677.9 142.2,678 143.7,678.2 145.1,678.3 146.5,677.9 147.9,677.9 149.3,677.4 150.7,677.4 151.9,677.3 153.1,677.4 154.3,677.1 155.5,677.3 156.7,677.1 157.9,676.7 159.1,676.7 160.5,676.4 161.8,676.8 163.2,676.4 164.5,676.3 165.9,676.7 167.2,676.5 168.5,676.8 169.7,676.9 171,677.1 172.2,676.7 173.5,676.8 174.8,677.1 176.2,677.1 177.6,677.9 179.1,677.6 180.5,677.9 182,678.3 183.3,678.4 184.6,678.8 186,679.2 187.3,679.9 188.5,681.1 189.7,682.4 190.3,685.2 190.7,686.6 191.1,685.2 191.3,682.3 192.3,679.9 193.9,678.8 196.3,678.1 197.8,677.7 199.2,677.6 200.7,677.5 202,677.6 203.4,677 204.7,677.3 206.1,677.1 207.4,676.8 208.8,676.6 210.1,676.6 211.3,676.6 212.6,676.4 213.9,676.1 215.1,676 216.4,675.9 217.7,675.8 218.9,675.8 220.2,676.1 221.4,675.7 222.7,675.4 223.9,675.6 225.1,675.8 226.4,675.5 227.6,675.5 229,675.7 230.3,675.3 231.7,675.4 233.1,675.7 234.4,676 235.7,675.8 237,676.3 238.4,676.8 239.7,677.5 241,678.2 242.6,679.3 244.2,680.5 245.8,682.1 247.4,683.6 249,685.8 250.6,687.3 251.9,688.9 253.2,690.5 254.5,691.7 256.7,694.2 258,695.9 260,698.7 261.2,700.3 262.4,702.2 263.7,703.6 265.1,705.8 266.6,707.6 268,709.5 269.3,711.4 270.6,713.2 271.9,715.1 273.4,717.5 274.9,720.2 276.2,722.5 277.5,724.9 279.4,728.5 280.3,729.6 280.6,729.6 280.9,731.5 281.3,736.7 281.8,743.8 282.3,752.3 283,764.3 283.8,777.7 284.6,785.1 285.3,782.9 286.1,774.7 286.8,764.3 287.5,751 288.3,735.5 289,724 289.7,721 290.5,722 291.3,719.6 292.3,709.3 293.3,695.6 294.3,685.3 295,681.4 295.6,680.8 296.5,680.9 298,681.1 299.8,681.9 301.7,682.3 303.6,681.7 305.7,680.6 307.7,680.1 309.5,680.9 311.3,682.1 313.6,682.3 315.4,681.4 317.1,680.3 318.5,679.1 319.8,678.4 321.1,677.2 322.6,676 324,674.9" fill="none" stroke="#ee9a9e" stroke-width="1.8" stroke-linejoin="round" stroke-linecap="round" />
<text transform="translate(37,669.6) scale(1,1.04)" font-size="14.5" fill="#b682ea" text-anchor="start" font-weight="bold" >Co-O</text>
<text transform="translate(43.1,880) scale(1,1.04)" font-size="14.5" fill="#e3d366" text-anchor="start" font-weight="bold" >Mn-O</text>
<line x1="195.7" y1="849.9" x2="231.9" y2="849.9" stroke="#6b90c9" stroke-width="1.6" />
<line x1="195.7" y1="873.2" x2="231.9" y2="873.2" stroke="#ee9a9e" stroke-width="1.6" />
<text transform="translate(235.6,855.4) scale(1,1.04)" font-size="15.5" fill="#6b90c9" text-anchor="start" font-weight="bold" >CoMn<tspan font-size="11.2" dy="4.8">2</tspan><tspan dy="-4.8">O</tspan><tspan font-size="11.2" dy="4.8">4</tspan><tspan dy="-4.8"></tspan></text>
<text transform="translate(235.6,878.5) scale(1,1.04)" font-size="15.5" fill="#ee9a9e" text-anchor="start" font-weight="bold" >CoMn<tspan font-size="11.2" dy="4.8">2</tspan><tspan dy="-4.8">O</tspan><tspan font-size="11.2" dy="4.8">4</tspan><tspan dy="-4.8">-S</tspan></text>
<rect x="379.4" y="649.9" width="292" height="238" fill="none" stroke="#000" stroke-width="1.6"/>
<line x1="402.2" y1="887.9" x2="402.2" y2="892.5" stroke="#000" stroke-width="1.5" />
<line x1="447" y1="887.9" x2="447" y2="892.5" stroke="#000" stroke-width="1.5" />
<line x1="491.8" y1="887.9" x2="491.8" y2="892.5" stroke="#000" stroke-width="1.5" />
<line x1="536.6" y1="887.9" x2="536.6" y2="892.5" stroke="#000" stroke-width="1.5" />
<line x1="581.4" y1="887.9" x2="581.4" y2="892.5" stroke="#000" stroke-width="1.5" />
<line x1="626.2" y1="887.9" x2="626.2" y2="892.5" stroke="#000" stroke-width="1.5" />
<line x1="671" y1="887.9" x2="671" y2="892.5" stroke="#000" stroke-width="1.5" />
<text transform="translate(402.2,908.9) scale(1,1.04)" font-size="15.5" fill="#000" text-anchor="middle" font-weight="bold" >300</text>
<text transform="translate(447,908.9) scale(1,1.04)" font-size="15.5" fill="#000" text-anchor="middle" font-weight="bold" >400</text>
<text transform="translate(491.8,908.9) scale(1,1.04)" font-size="15.5" fill="#000" text-anchor="middle" font-weight="bold" >500</text>
<text transform="translate(536.6,908.9) scale(1,1.04)" font-size="15.5" fill="#000" text-anchor="middle" font-weight="bold" >600</text>
<text transform="translate(581.4,908.9) scale(1,1.04)" font-size="15.5" fill="#000" text-anchor="middle" font-weight="bold" >700</text>
<text transform="translate(626.2,908.9) scale(1,1.04)" font-size="15.5" fill="#000" text-anchor="middle" font-weight="bold" >800</text>
<text transform="translate(671,908.9) scale(1,1.04)" font-size="15.5" fill="#000" text-anchor="middle" font-weight="bold" >900</text>
<text transform="translate(524.8,935) scale(1,1.04)" font-size="20.3" fill="#000" text-anchor="middle" font-weight="bold" >Raman Shift (cm<tspan font-size="13" dy="-7">-1</tspan><tspan dy="7">)</tspan></text>
<text transform="translate(365.3,768.2) rotate(-90) scale(1,1.04)" font-size="20" font-weight="bold" text-anchor="middle">Intensity (a.u.)</text>
<polyline points="380,762 381.7,761.9 383.5,761.7 385.2,762.3 386.7,761.8 388.1,763.1 389.6,762.6 391.1,762.9 392.6,762.6 394.1,762.8 395.6,762.6 397,763.2 398.5,763 400,763 401.3,763.5 402.7,763.4 404,763.8 405.3,763.2 406.7,763.4 408,762.9 409.3,763 410.7,764 412,763.2 413.3,763.8 414.7,764.1 416,764.1 417.3,763.2 418.7,764.4 420,764 421.3,763.2 422.7,764.6 424,764.5 425.3,763.5 426.7,763.9 428,764.3 429.3,764.2 430.7,763.2 432,764 433.3,763.7 434.7,763.1 436,764.3 437.3,763.9 438.7,764.3 440,763.5 441.4,762.7 442.8,763.1 444.2,763.6 445.6,763.5 447,763.3 448.4,762.8 449.7,763.9 451.1,763.8 452.5,762.8 453.9,763.1 455.4,762.5 457,763.3 458.5,762.9 460,763 461.6,763.3 463.3,763.2 464.9,763.3 466.2,763.2 467.6,762.7 468.9,763.6 470.4,762.7 472,763 474,760.9 475.1,757.8 476,755 476.9,752.2 477.6,749.7 478.2,748.6 478.8,750 479.4,753 480,756 480.3,758.8 480.7,761.6 482,763.5 483.7,763.7 485.3,764.1 486.8,764.4 488.2,763.8 489.6,763.9 491.3,763.8 493,763 494.5,761.4 495,759.2 495.5,757 496.2,754.7 496.8,752.4 497.4,751.5 498.1,752.8 498.8,755.5 499.5,758 499.2,760.1 498.9,762.1 500.5,762.9 502,763.5 503.4,764.2 504.8,763.9 506.1,763.4 507.5,763.2 508.9,763.1 510.3,763.2 511.7,764 513,764.5 514.3,764.5 515.6,764.3 516.9,763.3 518.2,764.1 519.5,763.3 520.8,764.5 522.1,764.1 523.4,764.2 524.7,763.8 526.1,763.9 527.5,763.5 528.9,764 530.3,764.1 531.7,762.9 533.1,763.1 534.5,763.1 536.2,762.6 537.9,761.5 538.1,759.3 538.1,758.3 538.9,759.5 539.5,761.9 540.5,763.6 542.3,764.2 544.5,764.1 546.5,763.1 547.9,761.3 549.1,758.6 550.1,754 550.9,746.6 551.7,737.3 552.5,727.5 553.6,717 554.8,705.9 556.1,696.2 557.6,688.4 559.2,682 560.9,676.9 562.6,673.2 564.3,670.9 565.8,669.7 567.1,669.2 568.2,669.7 569.4,672.1 570.9,676.9 572.6,683.6 574.2,691.4 575.8,700.3 577.5,710.3 579,720.3 580.5,730.5 581.8,740.6 583.1,749.2 584.1,755.6 585,760.3 586.2,763.6 587.8,765.1 589.7,765.1 592.3,764.8 594.1,765 595.9,764.6 597.3,764.3 598.7,764.2 600.1,764.2 601.5,764.7 602.9,763.4 604.3,763.6 605.6,762.9 607,763.3 608.3,762.8 609.6,762.1 611,762.7 612.3,761.8 613.6,761.3 615,762.1 616.3,761.2 617.6,761.1 619,761.9 620.3,761.3 621.7,761.9 623,762.1 624.4,761.9 625.7,761.6 627.1,761.7 628.4,762.4 629.7,761.8 631.1,762.1 632.4,762.8 633.7,763.1 635.1,762.3 636.4,763.1 637.7,762.9 639.1,763.5 640.4,763.6 641.8,763.2 643.1,763.7 644.5,764.2 645.9,764 647.3,764.9 648.6,764.9 650.6,764.8 652.5,766 654.3,767.8 656.1,768.1 657.7,769.5 659.3,770.6 660.7,771.6 662.1,772 664.1,771.4 665.5,769.8 666.9,768.4 668.5,767.8 670,767.4 671,767.2" fill="none" stroke="#ee9a9e" stroke-width="1.8" stroke-linejoin="round" stroke-linecap="round" />
<polyline points="380,839 381.7,839.3 383.5,838.4 385.2,839.3 386.7,839 388.1,839 389.6,839.9 391.1,839.8 392.6,839.6 394.1,840.3 395.6,839.1 397,839.7 398.5,839.2 400,840 401.3,839.6 402.7,840.2 404,839.5 405.3,839.8 406.7,840.4 408,840.7 409.3,840.6 410.7,840.2 412,840.9 413.3,840.8 414.7,841.3 416,840.1 417.3,841.4 418.7,841.3 420,841 421.3,840.7 422.7,840.4 424,841.6 425.3,840.6 426.7,840.8 428,840.1 429.3,840 430.7,841.1 432,840.7 433.3,840.4 434.7,840.8 436,840.6 437.3,840.2 438.7,840.8 440,840 441.3,839.7 442.7,839.9 444,840.3 445.4,839.9 446.7,839.6 448.1,840.1 449.4,839.6 450.8,839.7 452.1,838.6 453.5,839.3 454.8,838.8 456.1,838.8 457.4,838.4 458.7,838.6 460,839 461.3,838.4 462.7,838.7 464,839.3 465.4,838.9 466.7,839.1 468,839 469.3,838.8 470.6,838.9 471.9,840.1 473.2,839.4 474.8,839.5 476.4,839.3 478,839 480,837.4 480.3,835.2 480.5,833 481.3,830.7 482,828.3 482.8,827.4 483.5,828.7 484.3,831.4 485,834 485.4,836.3 485.8,838.5 487,840 488.4,839.8 489.7,840.7 491.5,841.1 493.3,840.8 494.6,839.9 496,840 497.2,837.8 497.6,834.7 498,832 498.6,829.7 499.1,827.7 499.6,826.9 500.2,828.1 500.8,830.5 501.5,833 501.8,835.6 502.1,838.3 504,840 505.4,839.7 506.8,840.6 508.2,839.8 509.6,839.7 511.1,839.2 512.5,839.1 513.9,838.5 515.4,838.8 517,838.5 518.5,837.4 520,837.6 521.4,836.9 522.7,837.4 524.1,837.3 525.4,837.3 526.8,837.8 528.2,838.6 529.6,838.6 531.1,837.8 532.5,838.4 533.9,838.3 535.3,838.1 536.6,838.9 538,838.2 539.3,838.3 541.7,837.1 542.4,835.5 542.9,834.7 543.6,835.8 544.2,837.7 545.3,839 547.5,839.4 548.8,838.9 550.2,839.1 552.5,837.1 554,832.8 555.1,826.7 556.1,820.2 556.9,812.9 557.7,805.1 558.5,798.5 559.5,793.9 560.7,790.5 562.1,787.7 564,785 566.3,782.9 568.2,781.7 569.5,781.5 570.5,782.3 571.8,784.1 573.6,787.2 575.7,791.4 577.8,796.1 579.8,801.2 581.9,806.8 583.8,813 585.5,820.1 587.2,827.8 588.6,834.7 589.8,840.8 590.8,846 591.8,849.1 592.7,848.9 593.6,846.6 594.7,844.3 595.7,842.5 596.9,840.7 599.5,839.5 601.1,839.1 602.8,839.7 604.4,839.6 605.9,839.4 607.5,840.1 609,840.8 610.6,840.3 612,840.3 613.5,840.1 614.9,841.4 616.3,840.7 617.7,840.5 619.1,839.6 620.5,840 622.3,838.7 624.2,838.9 625.6,838.1 627,838.7 628.4,838.3 629.7,838.9 631.1,838.5 632.4,838.1 633.7,839 635.2,839.1 636.7,840.4 638.1,839.9 639.6,840.2 641,841.1 642.4,841 643.8,839.8 645.2,840.7 646.5,840.9 647.9,840.6 649.2,840.2 650.6,840 652.3,839.2 654,839.3 655.7,838.6 657,837.5 658.4,837.5 659.7,837.1 662,835.4 663.2,833.5 664.5,832.3 666.6,832.3 668.9,833 670.5,833.5" fill="none" stroke="#6b90c9" stroke-width="1.8" stroke-linejoin="round" stroke-linecap="round" />
<line x1="483.3" y1="758.4" x2="483.3" y2="827" stroke="#6688aa" stroke-width="1.7" stroke-dasharray="8.7,8.9"/>
<line x1="500.1" y1="758.4" x2="500.1" y2="827" stroke="#6688aa" stroke-width="1.7" stroke-dasharray="8.7,8.9"/>
<line x1="542.9" y1="763.6" x2="542.9" y2="834.7" stroke="#6688aa" stroke-width="1.7" stroke-dasharray="8.7,8.9"/>
<line x1="565.8" y1="670.4" x2="565.8" y2="843" stroke="#6688aa" stroke-width="1.7" stroke-dasharray="8.7,8.9"/>
<line x1="569.9" y1="786.5" x2="569.9" y2="843" stroke="#6688aa" stroke-width="1.7" stroke-dasharray="8.7,8.9"/>
<line x1="385.8" y1="675.8" x2="420.8" y2="675.8" stroke="#6b90c9" stroke-width="1.6" />
<line x1="385.8" y1="699.5" x2="420.8" y2="699.5" stroke="#ee9a9e" stroke-width="1.6" />
<text transform="translate(426,680.4) scale(1,1.04)" font-size="15.5" fill="#6b90c9" text-anchor="start" font-weight="bold" >CoMn<tspan font-size="11.2" dy="4.8">2</tspan><tspan dy="-4.8">O</tspan><tspan font-size="11.2" dy="4.8">4</tspan><tspan dy="-4.8"></tspan></text>
<text transform="translate(426,703.8) scale(1,1.04)" font-size="15.5" fill="#ee9a9e" text-anchor="start" font-weight="bold" >CoMn<tspan font-size="11.2" dy="4.8">2</tspan><tspan dy="-4.8">O</tspan><tspan font-size="11.2" dy="4.8">4</tspan><tspan dy="-4.8">-S</tspan></text>
<text transform="translate(473.3,741.2) scale(1,1.04)" font-size="14.6" fill="#000" text-anchor="start" font-weight="bold" >E<tspan font-size="10.5" dy="3.5">g</tspan></text>
<text transform="translate(492,741.2) scale(1,1.04)" font-size="14.6" fill="#000" text-anchor="start" font-weight="bold" >F<tspan font-size="10.5" dy="3.5">2g</tspan><tspan font-size="10" x="9.3" dy="-10">1</tspan></text>
<text transform="translate(528.4,748.7) scale(1,1.04)" font-size="14.6" fill="#000" text-anchor="start" font-weight="bold" >F<tspan font-size="10.5" dy="3.5">2g</tspan><tspan font-size="10" x="9.3" dy="-10">2</tspan></text>
<text transform="translate(559,665.8) scale(1,1.04)" font-size="14.4" fill="#000" text-anchor="start" font-weight="bold" >A<tspan font-size="10.5" dy="3.8">1g</tspan></text>
<text transform="translate(469,856.5) scale(1,1.04)" font-size="14.5" fill="#000" text-anchor="start" font-weight="bold" >481</text>
<text transform="translate(495.7,863.7) scale(1,1.04)" font-size="14.5" fill="#000" text-anchor="start" font-weight="bold" >521</text>
<text transform="translate(526,861.2) scale(1,1.04)" font-size="14.5" fill="#000" text-anchor="start" font-weight="bold" >615</text>
<text transform="translate(552.5,856.8) scale(1,1.04)" font-size="14.5" fill="#000" text-anchor="start" font-weight="bold" >664</text>
<text transform="translate(580.2,864.8) scale(1,1.04)" font-size="14.5" fill="#000" text-anchor="start" font-weight="bold" >673</text></svg></body></html>
